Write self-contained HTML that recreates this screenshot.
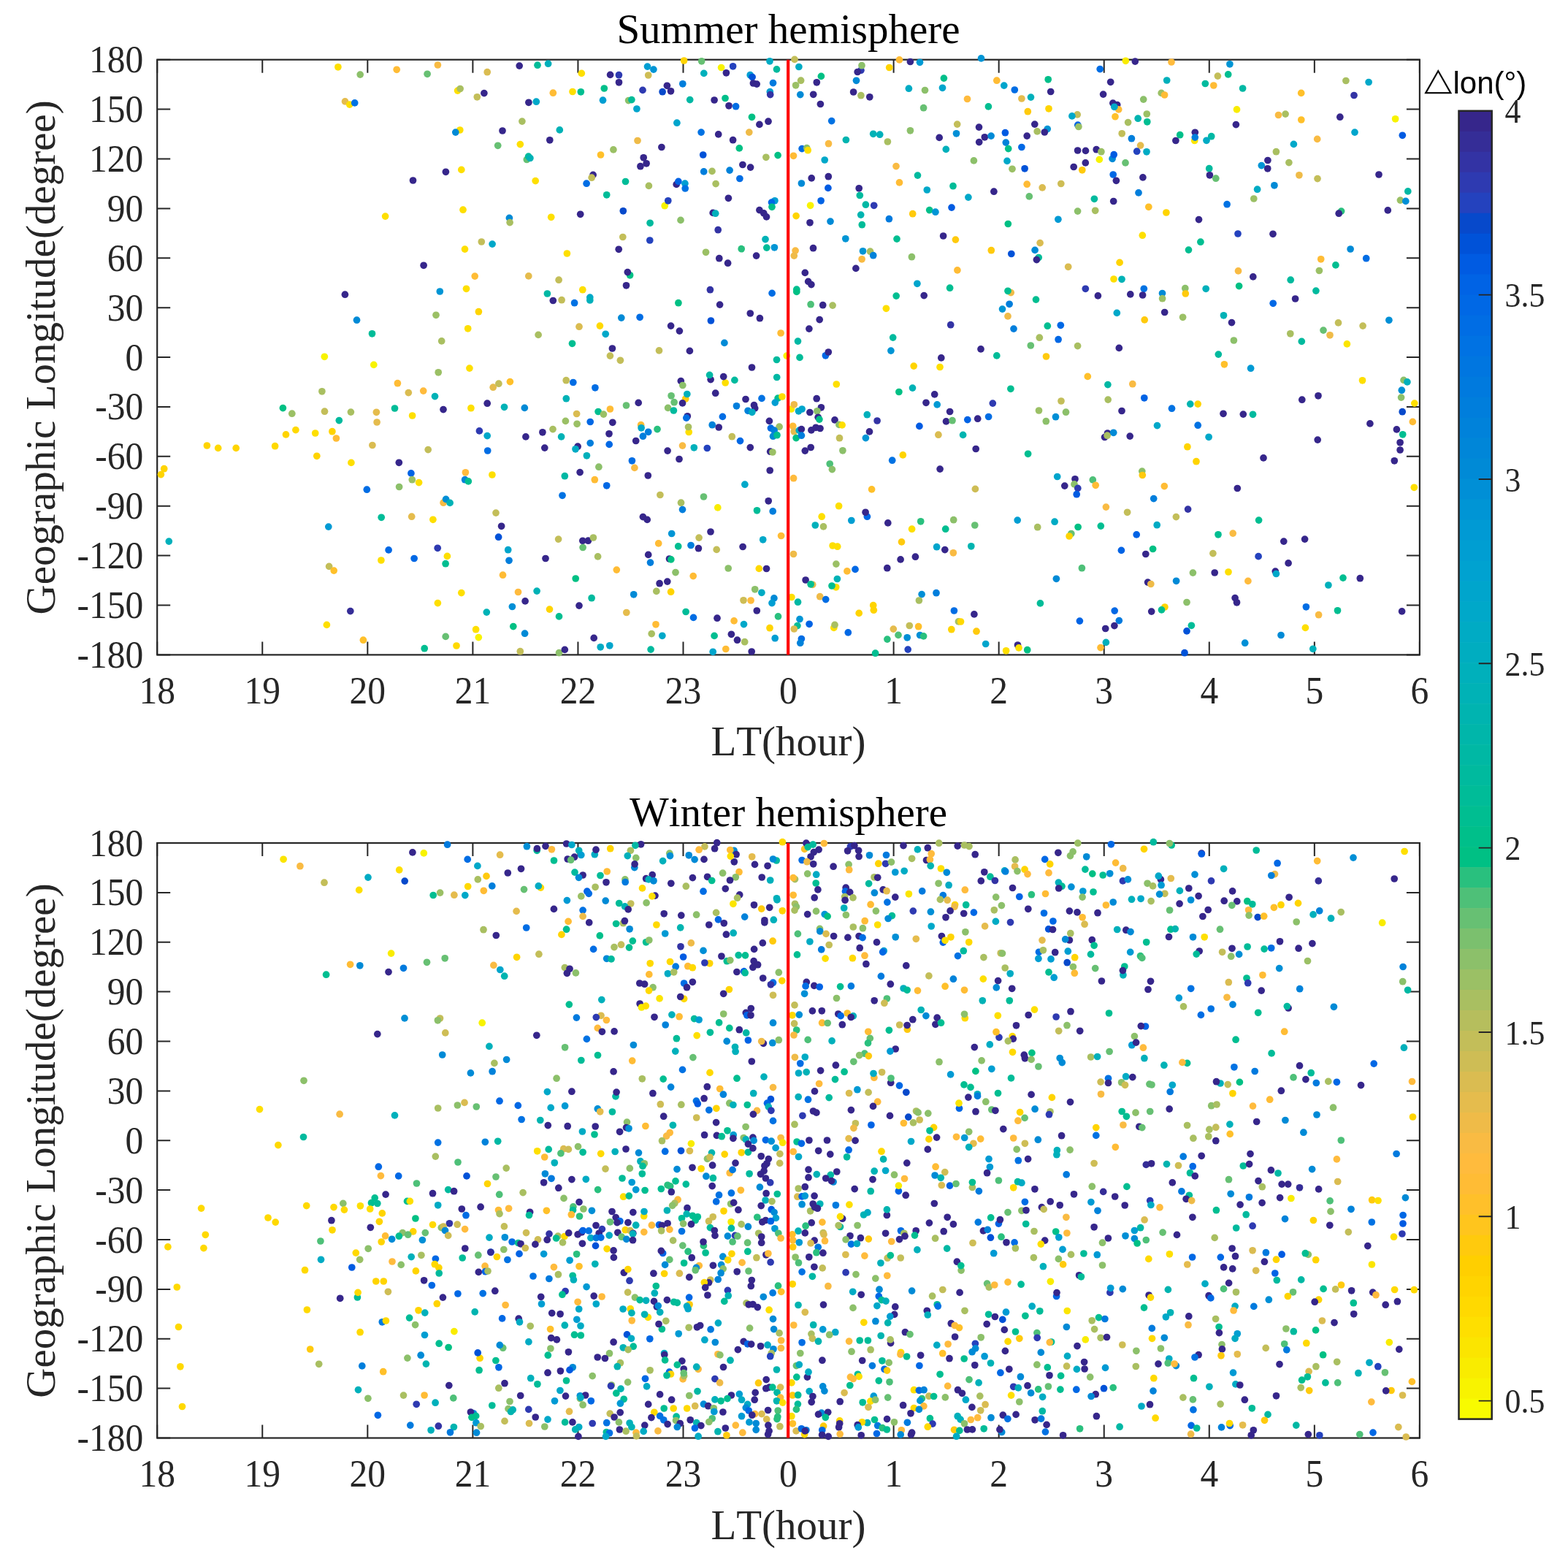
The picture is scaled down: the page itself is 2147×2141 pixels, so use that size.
<!DOCTYPE html>
<html lang="en">
<head>
<meta charset="utf-8">
<title>Summer and Winter hemisphere</title>
<style>
html,body{margin:0;padding:0;background:#fff;}
body{width:2147px;height:2141px;overflow:hidden;}
svg{display:block;}
.t{font-family:"Liberation Serif","DejaVu Serif",serif;fill:#262626;font-kerning:none;}
.s{font-family:"Liberation Sans","DejaVu Sans",sans-serif;fill:#000;}
.ax{stroke:#262626;stroke-width:2.2;fill:none;stroke-linecap:butt;}
</style>
</head>
<body>
<svg width="2147" height="2141" viewBox="0 0 2147 2141">
<rect x="0" y="0" width="2147" height="2141" fill="#fff"/>
<g id="axes1">
<text class="t" style="fill:#000" x="1079.5" y="59.4" font-size="57.0" text-anchor="middle">Summer hemisphere</text>
<rect class="ax" x="215.20" y="81.70" width="1728.70" height="814.70"/>
<path class="ax" style="stroke-width:2" d="M215.20 896.40v-18.0M215.20 81.70v18.0M215.20 81.70h18.0M1943.90 81.70h-18.0M359.26 896.40v-18.0M359.26 81.70v18.0M215.20 149.59h18.0M1943.90 149.59h-18.0M503.32 896.40v-18.0M503.32 81.70v18.0M215.20 217.48h18.0M1943.90 217.48h-18.0M647.38 896.40v-18.0M647.38 81.70v18.0M215.20 285.38h18.0M1943.90 285.38h-18.0M791.43 896.40v-18.0M791.43 81.70v18.0M215.20 353.27h18.0M1943.90 353.27h-18.0M935.49 896.40v-18.0M935.49 81.70v18.0M215.20 421.16h18.0M1943.90 421.16h-18.0M1079.55 896.40v-18.0M1079.55 81.70v18.0M215.20 489.05h18.0M1943.90 489.05h-18.0M1223.61 896.40v-18.0M1223.61 81.70v18.0M215.20 556.94h18.0M1943.90 556.94h-18.0M1367.67 896.40v-18.0M1367.67 81.70v18.0M215.20 624.83h18.0M1943.90 624.83h-18.0M1511.73 896.40v-18.0M1511.73 81.70v18.0M215.20 692.73h18.0M1943.90 692.73h-18.0M1655.78 896.40v-18.0M1655.78 81.70v18.0M215.20 760.62h18.0M1943.90 760.62h-18.0M1799.84 896.40v-18.0M1799.84 81.70v18.0M215.20 828.51h18.0M1943.90 828.51h-18.0M1943.90 896.40v-18.0M1943.90 81.70v18.0M215.20 896.40h18.0M1943.90 896.40h-18.0"/>
<g id="dots1">
<circle cx="462.9" cy="91.8" r="4.85" fill="#fedf00"/><circle cx="493.2" cy="102.1" r="4.85" fill="#8cc06a"/><circle cx="472.5" cy="138.9" r="4.85" fill="#e5bc4d"/><circle cx="478.7" cy="143.1" r="4.85" fill="#fedf00"/><circle cx="485.7" cy="140.9" r="4.85" fill="#0072e3"/><circle cx="543.2" cy="95.3" r="4.85" fill="#ffbc35"/><circle cx="599.4" cy="89" r="4.85" fill="#f9bb43"/><circle cx="585.1" cy="101.3" r="4.85" fill="#67c073"/><circle cx="667.2" cy="98.7" r="4.85" fill="#dabc51"/><circle cx="711.2" cy="90.1" r="4.85" fill="#36268b"/><circle cx="736" cy="89.2" r="4.85" fill="#00bc98"/><circle cx="750.6" cy="87.2" r="4.85" fill="#00b0bb"/><circle cx="796.3" cy="100.4" r="4.85" fill="#fedf00"/><circle cx="626.6" cy="124.1" r="4.85" fill="#fedf00"/><circle cx="630.1" cy="121.5" r="4.85" fill="#a9bf61"/><circle cx="653.3" cy="132.8" r="4.85" fill="#c3be59"/><circle cx="662.9" cy="127.6" r="4.85" fill="#36268b"/><circle cx="757.3" cy="127.2" r="4.85" fill="#ffbc35"/><circle cx="784" cy="125.5" r="4.85" fill="#fedf00"/><circle cx="795.3" cy="125.8" r="4.85" fill="#00be91"/><circle cx="723.9" cy="140.3" r="4.85" fill="#36268b"/><circle cx="734.3" cy="139.2" r="4.85" fill="#00a8c9"/><circle cx="714.9" cy="166.1" r="4.85" fill="#a9bf61"/><circle cx="629.8" cy="178" r="4.85" fill="#fedf00"/><circle cx="623.8" cy="181.1" r="4.85" fill="#008ad6"/><circle cx="688" cy="179" r="4.85" fill="#36268b"/><circle cx="766.3" cy="177.9" r="4.85" fill="#00b2b6"/><circle cx="752.8" cy="191.8" r="4.85" fill="#36268b"/><circle cx="681.7" cy="199.3" r="4.85" fill="#67c073"/><circle cx="712.3" cy="197.6" r="4.85" fill="#fedf00"/><circle cx="721.3" cy="218.5" r="4.85" fill="#67c073"/><circle cx="723.6" cy="214.2" r="4.85" fill="#00ba9e"/><circle cx="725.9" cy="216.5" r="4.85" fill="#00b2b6"/><circle cx="631.8" cy="232.4" r="4.85" fill="#fedf00"/><circle cx="610.4" cy="235.3" r="4.85" fill="#36268b"/><circle cx="565.5" cy="247" r="4.85" fill="#36268b"/><circle cx="733.2" cy="247.6" r="4.85" fill="#fedf00"/><circle cx="803.1" cy="251.2" r="4.85" fill="#006de4"/><circle cx="634" cy="287.2" r="4.85" fill="#fedf00"/><circle cx="936.6" cy="83" r="4.85" fill="#ffd400"/><circle cx="960.7" cy="83.8" r="4.85" fill="#67c073"/><circle cx="1088" cy="81.4" r="4.85" fill="#c3be59"/><circle cx="1054" cy="83.8" r="4.85" fill="#00abc4"/><circle cx="886.5" cy="91.1" r="4.85" fill="#009ed2"/><circle cx="894.9" cy="95.1" r="4.85" fill="#0095d5"/><circle cx="987.6" cy="92.5" r="4.85" fill="#f8f300"/><circle cx="1003.6" cy="90.8" r="4.85" fill="#2442be"/><circle cx="1063.5" cy="94.9" r="4.85" fill="#00ba9e"/><circle cx="1093.9" cy="91.5" r="4.85" fill="#00abc4"/><circle cx="835.6" cy="102.4" r="4.85" fill="#36268b"/><circle cx="847.4" cy="102.7" r="4.85" fill="#2e3ab1"/><circle cx="887.7" cy="103" r="4.85" fill="#cebd55"/><circle cx="963.8" cy="100.4" r="4.85" fill="#00b0bb"/><circle cx="994.4" cy="99.8" r="4.85" fill="#36268b"/><circle cx="1027.2" cy="102.7" r="4.85" fill="#009ed2"/><circle cx="1030.1" cy="105.5" r="4.85" fill="#0052d8"/><circle cx="847.5" cy="112.8" r="4.85" fill="#36268b"/><circle cx="913.4" cy="117.3" r="4.85" fill="#36268b"/><circle cx="934.8" cy="114.8" r="4.85" fill="#007edc"/><circle cx="1031.4" cy="114" r="4.85" fill="#36268b"/><circle cx="1036.2" cy="115.1" r="4.85" fill="#36268b"/><circle cx="1058.5" cy="113.6" r="4.85" fill="#007ade"/><circle cx="1096.6" cy="110.2" r="4.85" fill="#a9bf61"/><circle cx="1089.6" cy="116.8" r="4.85" fill="#9bc065"/><circle cx="827.3" cy="121" r="4.85" fill="#00bf8a"/><circle cx="880" cy="123.4" r="4.85" fill="#2e3ab1"/><circle cx="907.1" cy="125.7" r="4.85" fill="#0749cb"/><circle cx="918.5" cy="124.8" r="4.85" fill="#36268b"/><circle cx="1054.3" cy="125.7" r="4.85" fill="#009ed2"/><circle cx="1054.7" cy="129.6" r="4.85" fill="#3333a4"/><circle cx="1095.8" cy="129.6" r="4.85" fill="#008ad6"/><circle cx="825.5" cy="137.2" r="4.85" fill="#009ed2"/><circle cx="860.6" cy="137.6" r="4.85" fill="#8cc06a"/><circle cx="864.9" cy="136.6" r="4.85" fill="#00bc98"/><circle cx="944.7" cy="136.6" r="4.85" fill="#00b8a4"/><circle cx="978.1" cy="137" r="4.85" fill="#36268b"/><circle cx="993" cy="134.5" r="4.85" fill="#00bf8a"/><circle cx="998" cy="144.8" r="4.85" fill="#36268b"/><circle cx="1007.6" cy="145.7" r="4.85" fill="#006de4"/><circle cx="871.9" cy="149" r="4.85" fill="#00a5cc"/><circle cx="1029.5" cy="160.3" r="4.85" fill="#00c084"/><circle cx="926.9" cy="168.2" r="4.85" fill="#00a5cc"/><circle cx="1039.9" cy="170.4" r="4.85" fill="#36268b"/><circle cx="1052" cy="166.2" r="4.85" fill="#36268b"/><circle cx="960.1" cy="181.1" r="4.85" fill="#0072e3"/><circle cx="983.7" cy="183.9" r="4.85" fill="#36268b"/><circle cx="1025.8" cy="181.1" r="4.85" fill="#efbb48"/><circle cx="873" cy="192.5" r="4.85" fill="#efbb48"/><circle cx="1003.6" cy="191.7" r="4.85" fill="#36268b"/><circle cx="905.9" cy="201.5" r="4.85" fill="#36268b"/><circle cx="839.9" cy="204.9" r="4.85" fill="#9bc065"/><circle cx="1012.3" cy="202.9" r="4.85" fill="#00c084"/><circle cx="1098.1" cy="203.6" r="4.85" fill="#006de4"/><circle cx="822.5" cy="212" r="4.85" fill="#ffc02a"/><circle cx="962.7" cy="212" r="4.85" fill="#0052d8"/><circle cx="1048.9" cy="215.3" r="4.85" fill="#a9bf61"/><circle cx="1065.1" cy="212.6" r="4.85" fill="#00c084"/><circle cx="1086.5" cy="213.3" r="4.85" fill="#ffbc35"/><circle cx="881.2" cy="215.8" r="4.85" fill="#36268b"/><circle cx="885.1" cy="223.8" r="4.85" fill="#36268b"/><circle cx="876.9" cy="227.7" r="4.85" fill="#36268b"/><circle cx="1016.9" cy="225.5" r="4.85" fill="#36268b"/><circle cx="1027.6" cy="229.1" r="4.85" fill="#36268b"/><circle cx="963.7" cy="234.9" r="4.85" fill="#007edc"/><circle cx="975" cy="234.4" r="4.85" fill="#a9bf61"/><circle cx="999.1" cy="233.1" r="4.85" fill="#0082da"/><circle cx="812.1" cy="239.4" r="4.85" fill="#36268b"/><circle cx="810.2" cy="243.2" r="4.85" fill="#c3be59"/><circle cx="1012.9" cy="244.5" r="4.85" fill="#006de4"/><circle cx="856.5" cy="248.5" r="4.85" fill="#00bc98"/><circle cx="926.2" cy="252.4" r="4.85" fill="#36268b"/><circle cx="928.9" cy="248.4" r="4.85" fill="#0063e5"/><circle cx="937.9" cy="251.2" r="4.85" fill="#009ed2"/><circle cx="938.2" cy="258" r="4.85" fill="#0072e3"/><circle cx="888.4" cy="254.4" r="4.85" fill="#a9bf61"/><circle cx="980.1" cy="251.6" r="4.85" fill="#a9bf61"/><circle cx="1097.4" cy="251" r="4.85" fill="#008ad6"/><circle cx="830.7" cy="266.8" r="4.85" fill="#00bc98"/><circle cx="997.4" cy="271.3" r="4.85" fill="#36268b"/><circle cx="910.2" cy="281.7" r="4.85" fill="#f8f300"/><circle cx="914.8" cy="274.8" r="4.85" fill="#2442be"/><circle cx="1060.9" cy="274.8" r="4.85" fill="#009ed2"/><circle cx="1056.5" cy="277.1" r="4.85" fill="#0068e5"/><circle cx="1057" cy="283.3" r="4.85" fill="#00bf8a"/><circle cx="1039.9" cy="287.6" r="4.85" fill="#36268b"/><circle cx="853.3" cy="288.8" r="4.85" fill="#0749cb"/><circle cx="1231.5" cy="81.9" r="4.85" fill="#ffbc35"/><circle cx="1246.4" cy="84.5" r="4.85" fill="#36268b"/><circle cx="1259.5" cy="85.3" r="4.85" fill="#009ad4"/><circle cx="1343.5" cy="79.9" r="4.85" fill="#0095d5"/><circle cx="1178.9" cy="96.2" r="4.85" fill="#2e3ab1"/><circle cx="1174.2" cy="98.5" r="4.85" fill="#36268b"/><circle cx="1180" cy="89.7" r="4.85" fill="#8cc06a"/><circle cx="1217.7" cy="92.5" r="4.85" fill="#ffd400"/><circle cx="1124.4" cy="104.4" r="4.85" fill="#00c084"/><circle cx="1118.3" cy="112.8" r="4.85" fill="#36268b"/><circle cx="1172.5" cy="110.3" r="4.85" fill="#008ad6"/><circle cx="1292.4" cy="107.1" r="4.85" fill="#00bf8a"/><circle cx="1364.8" cy="110.2" r="4.85" fill="#ffbc35"/><circle cx="1374.8" cy="117.1" r="4.85" fill="#00a5cc"/><circle cx="1389.3" cy="123" r="4.85" fill="#006de4"/><circle cx="1244.4" cy="121.2" r="4.85" fill="#00abc4"/><circle cx="1266.5" cy="123.5" r="4.85" fill="#8cc06a"/><circle cx="1290.5" cy="120.3" r="4.85" fill="#00a5cc"/><circle cx="1113.7" cy="129.3" r="4.85" fill="#36268b"/><circle cx="1168.6" cy="126" r="4.85" fill="#36268b"/><circle cx="1178.9" cy="130.7" r="4.85" fill="#a9bf61"/><circle cx="1190.8" cy="132.8" r="4.85" fill="#36268b"/><circle cx="1324.5" cy="135.5" r="4.85" fill="#ffbb3d"/><circle cx="1398.9" cy="135" r="4.85" fill="#e5bc4d"/><circle cx="1123.4" cy="142.5" r="4.85" fill="#36268b"/><circle cx="1264.6" cy="147.7" r="4.85" fill="#67c073"/><circle cx="1353.4" cy="145.9" r="4.85" fill="#00be91"/><circle cx="1138.7" cy="165.6" r="4.85" fill="#0072e3"/><circle cx="1310.7" cy="170.1" r="4.85" fill="#c3be59"/><circle cx="1340.5" cy="174.1" r="4.85" fill="#36268b"/><circle cx="1246.4" cy="178.8" r="4.85" fill="#8cc06a"/><circle cx="1195.7" cy="183.3" r="4.85" fill="#00b2b6"/><circle cx="1204.7" cy="184.2" r="4.85" fill="#00b0bb"/><circle cx="1309.5" cy="182.8" r="4.85" fill="#008fd6"/><circle cx="1376.4" cy="181.7" r="4.85" fill="#005be2"/><circle cx="1286.2" cy="188.4" r="4.85" fill="#36268b"/><circle cx="1348.3" cy="187.8" r="4.85" fill="#36268b"/><circle cx="1357.1" cy="186.1" r="4.85" fill="#008ad6"/><circle cx="1340.7" cy="194.6" r="4.85" fill="#36268b"/><circle cx="1158.4" cy="191.5" r="4.85" fill="#00b4b0"/><circle cx="1215.4" cy="194" r="4.85" fill="#a9bf61"/><circle cx="1134.5" cy="196.7" r="4.85" fill="#f9bb43"/><circle cx="1377.3" cy="195.1" r="4.85" fill="#0082da"/><circle cx="1380.7" cy="203.6" r="4.85" fill="#00bf8a"/><circle cx="1398.9" cy="201.5" r="4.85" fill="#0068e5"/><circle cx="1104.7" cy="202.6" r="4.85" fill="#8cc06a"/><circle cx="1106.2" cy="205.7" r="4.85" fill="#fedf00"/><circle cx="1295.3" cy="204.4" r="4.85" fill="#00b0bb"/><circle cx="1129.2" cy="219" r="4.85" fill="#00a8c9"/><circle cx="1333.4" cy="219.9" r="4.85" fill="#8cc06a"/><circle cx="1379" cy="220.4" r="4.85" fill="#00a8c9"/><circle cx="1386" cy="231.3" r="4.85" fill="#9bc065"/><circle cx="1403.1" cy="230.8" r="4.85" fill="#0052d8"/><circle cx="1227" cy="227.6" r="4.85" fill="#f9bb43"/><circle cx="1256.5" cy="240.1" r="4.85" fill="#00ba9e"/><circle cx="1111.2" cy="243.9" r="4.85" fill="#36268b"/><circle cx="1134.3" cy="241.7" r="4.85" fill="#36268b"/><circle cx="1231.5" cy="249.9" r="4.85" fill="#ffbc35"/><circle cx="1133.9" cy="257.4" r="4.85" fill="#005be2"/><circle cx="1176.2" cy="257.8" r="4.85" fill="#36268b"/><circle cx="1269.3" cy="260" r="4.85" fill="#00a8c9"/><circle cx="1305" cy="254.7" r="4.85" fill="#00bc98"/><circle cx="1360.9" cy="262.2" r="4.85" fill="#36268b"/><circle cx="1177.3" cy="267.5" r="4.85" fill="#00ba9e"/><circle cx="1325.9" cy="270.1" r="4.85" fill="#00a8c9"/><circle cx="1124.1" cy="274.8" r="4.85" fill="#0063e5"/><circle cx="1109.6" cy="281.3" r="4.85" fill="#f8f300"/><circle cx="1185.4" cy="280.2" r="4.85" fill="#00b8a4"/><circle cx="1196.7" cy="281.3" r="4.85" fill="#2e3ab1"/><circle cx="1272.7" cy="287.6" r="4.85" fill="#00bf8a"/><circle cx="1303" cy="284.1" r="4.85" fill="#005be2"/><circle cx="1541.3" cy="83.3" r="4.85" fill="#f9ec00"/><circle cx="1554.3" cy="84.1" r="4.85" fill="#36268b"/><circle cx="1604" cy="85" r="4.85" fill="#ffbb3d"/><circle cx="1683.9" cy="87.8" r="4.85" fill="#0095d5"/><circle cx="1506.2" cy="94.6" r="4.85" fill="#006de4"/><circle cx="1667.4" cy="104.1" r="4.85" fill="#c3be59"/><circle cx="1681.7" cy="101.9" r="4.85" fill="#00be91"/><circle cx="1435.2" cy="108.8" r="4.85" fill="#00bf8a"/><circle cx="1520.7" cy="112.3" r="4.85" fill="#36268b"/><circle cx="1597.7" cy="110" r="4.85" fill="#00b0bb"/><circle cx="1650.3" cy="114.5" r="4.85" fill="#00ba9e"/><circle cx="1661.8" cy="117" r="4.85" fill="#ffbc35"/><circle cx="1701.6" cy="121" r="4.85" fill="#00b8a4"/><circle cx="1438.7" cy="125.5" r="4.85" fill="#36268b"/><circle cx="1510.6" cy="129.1" r="4.85" fill="#36268b"/><circle cx="1590.2" cy="127.4" r="4.85" fill="#9bc065"/><circle cx="1594.6" cy="130" r="4.85" fill="#ffbc35"/><circle cx="1411.5" cy="133.1" r="4.85" fill="#00b0bb"/><circle cx="1565.7" cy="136.1" r="4.85" fill="#8cc06a"/><circle cx="1523.9" cy="141.2" r="4.85" fill="#36268b"/><circle cx="1529.7" cy="143.5" r="4.85" fill="#36268b"/><circle cx="1531.7" cy="149.9" r="4.85" fill="#ffbc35"/><circle cx="1525.8" cy="146.3" r="4.85" fill="#00a8c9"/><circle cx="1436" cy="148.8" r="4.85" fill="#ffd400"/><circle cx="1407.3" cy="152.7" r="4.85" fill="#ffca0d"/><circle cx="1693.5" cy="149.9" r="4.85" fill="#f9ec00"/><circle cx="1475.2" cy="156.9" r="4.85" fill="#c3be59"/><circle cx="1467.9" cy="158.9" r="4.85" fill="#00a8c9"/><circle cx="1527" cy="159.7" r="4.85" fill="#ffc02a"/><circle cx="1570.3" cy="156" r="4.85" fill="#9bc065"/><circle cx="1558.2" cy="162.2" r="4.85" fill="#00b4b0"/><circle cx="1570.8" cy="166.8" r="4.85" fill="#00be91"/><circle cx="1544.6" cy="167.6" r="4.85" fill="#a9bf61"/><circle cx="1416.8" cy="170.1" r="4.85" fill="#36268b"/><circle cx="1475.8" cy="171.2" r="4.85" fill="#0063e5"/><circle cx="1476.9" cy="173.5" r="4.85" fill="#9bc065"/><circle cx="1692.4" cy="170.6" r="4.85" fill="#36268b"/><circle cx="1434.2" cy="176.6" r="4.85" fill="#0095d5"/><circle cx="1430.3" cy="181" r="4.85" fill="#36268b"/><circle cx="1420.2" cy="179.9" r="4.85" fill="#a9bf61"/><circle cx="1406.2" cy="186.1" r="4.85" fill="#36268b"/><circle cx="1536.2" cy="182.8" r="4.85" fill="#c3be59"/><circle cx="1635.7" cy="192.5" r="4.85" fill="#fbe500"/><circle cx="1636.3" cy="181.3" r="4.85" fill="#36268b"/><circle cx="1636.3" cy="188.1" r="4.85" fill="#007edc"/><circle cx="1615.7" cy="184.7" r="4.85" fill="#00bf8a"/><circle cx="1609.9" cy="192.5" r="4.85" fill="#36268b"/><circle cx="1658.7" cy="186.7" r="4.85" fill="#00b8a4"/><circle cx="1652" cy="192.3" r="4.85" fill="#00abc4"/><circle cx="1549.4" cy="189.7" r="4.85" fill="#007edc"/><circle cx="1561.6" cy="199.1" r="4.85" fill="#e5bc4d"/><circle cx="1475.6" cy="206" r="4.85" fill="#36268b"/><circle cx="1486.5" cy="206.4" r="4.85" fill="#36268b"/><circle cx="1501.2" cy="204.7" r="4.85" fill="#36268b"/><circle cx="1507.9" cy="207.7" r="4.85" fill="#9bc065"/><circle cx="1556.7" cy="207.2" r="4.85" fill="#2442be"/><circle cx="1570" cy="207.8" r="4.85" fill="#00abc4"/><circle cx="1523.1" cy="217.3" r="4.85" fill="#008ad6"/><circle cx="1525.2" cy="211.7" r="4.85" fill="#005be2"/><circle cx="1505.3" cy="218.4" r="4.85" fill="#f8f300"/><circle cx="1541" cy="222.9" r="4.85" fill="#67c073"/><circle cx="1486.3" cy="222.9" r="4.85" fill="#36268b"/><circle cx="1470.2" cy="228.5" r="4.85" fill="#36268b"/><circle cx="1481.8" cy="232.8" r="4.85" fill="#ffca0d"/><circle cx="1655.7" cy="230.7" r="4.85" fill="#00ba9e"/><circle cx="1524.2" cy="239" r="4.85" fill="#0068e5"/><circle cx="1528.4" cy="247.3" r="4.85" fill="#36268b"/><circle cx="1564.9" cy="242.9" r="4.85" fill="#36268b"/><circle cx="1656.4" cy="239.8" r="4.85" fill="#36268b"/><circle cx="1664.8" cy="244.2" r="4.85" fill="#67c073"/><circle cx="1406.2" cy="252.2" r="4.85" fill="#ffbc35"/><circle cx="1427.2" cy="256.9" r="4.85" fill="#dabc51"/><circle cx="1452.8" cy="251.5" r="4.85" fill="#cebd55"/><circle cx="1559" cy="263.9" r="4.85" fill="#007edc"/><circle cx="1409.3" cy="268.9" r="4.85" fill="#67c073"/><circle cx="1498.4" cy="272.3" r="4.85" fill="#00ba9e"/><circle cx="1524.7" cy="275.5" r="4.85" fill="#36268b"/><circle cx="1680.1" cy="279.7" r="4.85" fill="#0072e3"/><circle cx="1572.8" cy="283.3" r="4.85" fill="#ffc02a"/><circle cx="1499.7" cy="288.3" r="4.85" fill="#a9bf61"/><circle cx="1475.6" cy="289.1" r="4.85" fill="#8cc06a"/><circle cx="1842.9" cy="110.5" r="4.85" fill="#a9bf61"/><circle cx="1874.1" cy="112.5" r="4.85" fill="#00a8c9"/><circle cx="1781.7" cy="127.4" r="4.85" fill="#ffc02a"/><circle cx="1854" cy="130.5" r="4.85" fill="#3333a4"/><circle cx="1750.5" cy="157.5" r="4.85" fill="#f9bb43"/><circle cx="1760.1" cy="156.1" r="4.85" fill="#a9bf61"/><circle cx="1781.8" cy="164" r="4.85" fill="#ffc02a"/><circle cx="1834.8" cy="160.2" r="4.85" fill="#36268b"/><circle cx="1910.6" cy="162.8" r="4.85" fill="#f8f300"/><circle cx="1855" cy="181.1" r="4.85" fill="#00a5cc"/><circle cx="1920.3" cy="185.3" r="4.85" fill="#005be2"/><circle cx="1803.7" cy="190.4" r="4.85" fill="#f9bb43"/><circle cx="1771.4" cy="197.4" r="4.85" fill="#00a8c9"/><circle cx="1747.4" cy="207.7" r="4.85" fill="#a9bf61"/><circle cx="1735.9" cy="219.5" r="4.85" fill="#36268b"/><circle cx="1727.3" cy="226.6" r="4.85" fill="#0095d5"/><circle cx="1735.7" cy="230.8" r="4.85" fill="#36268b"/><circle cx="1764.9" cy="222.6" r="4.85" fill="#a9bf61"/><circle cx="1778.9" cy="239.8" r="4.85" fill="#efbb48"/><circle cx="1804" cy="244.6" r="4.85" fill="#c3be59"/><circle cx="1888" cy="239" r="4.85" fill="#36268b"/><circle cx="1744.9" cy="253.8" r="4.85" fill="#008ad6"/><circle cx="1721.6" cy="259.2" r="4.85" fill="#00abc4"/><circle cx="1716.8" cy="272" r="4.85" fill="#9bc065"/><circle cx="1927.8" cy="261.9" r="4.85" fill="#00b8a4"/><circle cx="1917.4" cy="274.1" r="4.85" fill="#9bc065"/><circle cx="1924.8" cy="275.4" r="4.85" fill="#008fd6"/><circle cx="1900.3" cy="287.9" r="4.85" fill="#36268b"/><circle cx="1836.6" cy="289.1" r="4.85" fill="#29c07e"/><circle cx="472.4" cy="403.2" r="4.85" fill="#36268b"/><circle cx="488.5" cy="438.2" r="4.85" fill="#008ad6"/><circle cx="444.3" cy="488.3" r="4.85" fill="#f8f300"/><circle cx="440.9" cy="535.8" r="4.85" fill="#a9bf61"/><circle cx="387.4" cy="558.6" r="4.85" fill="#00c084"/><circle cx="399.8" cy="566.2" r="4.85" fill="#9bc065"/><circle cx="444.5" cy="563.2" r="4.85" fill="#c3be59"/><circle cx="480.4" cy="564.1" r="4.85" fill="#a9bf61"/><circle cx="464.3" cy="575.6" r="4.85" fill="#00ba9e"/><circle cx="404.9" cy="588.6" r="4.85" fill="#ffd900"/><circle cx="391.5" cy="594.9" r="4.85" fill="#ffd400"/><circle cx="431.7" cy="593" r="4.85" fill="#fedf00"/><circle cx="454.9" cy="590.7" r="4.85" fill="#ffd400"/><circle cx="460.4" cy="600" r="4.85" fill="#ffbc35"/><circle cx="283.4" cy="610" r="4.85" fill="#ffd400"/><circle cx="298.7" cy="613.4" r="4.85" fill="#ffd900"/><circle cx="323.2" cy="613.4" r="4.85" fill="#ffd400"/><circle cx="376.6" cy="610.7" r="4.85" fill="#ffd900"/><circle cx="433.8" cy="624.3" r="4.85" fill="#ffd400"/><circle cx="480.9" cy="633.4" r="4.85" fill="#fedf00"/><circle cx="224.7" cy="641.7" r="4.85" fill="#ffd400"/><circle cx="220.4" cy="649.6" r="4.85" fill="#ffd400"/><circle cx="502.3" cy="670.2" r="4.85" fill="#006de4"/><circle cx="449.8" cy="721.1" r="4.85" fill="#009ad4"/><circle cx="231.3" cy="741.1" r="4.85" fill="#00b0bb"/><circle cx="450.6" cy="775.4" r="4.85" fill="#c3be59"/><circle cx="457.2" cy="781.1" r="4.85" fill="#ffc02a"/><circle cx="479.8" cy="836.6" r="4.85" fill="#352d97"/><circle cx="447.4" cy="855.4" r="4.85" fill="#fedf00"/><circle cx="497.4" cy="876.2" r="4.85" fill="#ffc02a"/><circle cx="527.6" cy="296.1" r="4.85" fill="#fedf00"/><circle cx="697.4" cy="298.4" r="4.85" fill="#008ad6"/><circle cx="698.1" cy="304.6" r="4.85" fill="#a9bf61"/><circle cx="754.7" cy="297.3" r="4.85" fill="#fedf00"/><circle cx="794.7" cy="293.3" r="4.85" fill="#36268b"/><circle cx="659.3" cy="331" r="4.85" fill="#c3be59"/><circle cx="674.1" cy="334.1" r="4.85" fill="#00a8c9"/><circle cx="636.5" cy="341.1" r="4.85" fill="#fedf00"/><circle cx="776.4" cy="347" r="4.85" fill="#fedf00"/><circle cx="580.1" cy="363.3" r="4.85" fill="#36268b"/><circle cx="650.2" cy="378.1" r="4.85" fill="#ffbc35"/><circle cx="723.8" cy="377.9" r="4.85" fill="#e5bc4d"/><circle cx="765.1" cy="383.2" r="4.85" fill="#c3be59"/><circle cx="602.3" cy="399" r="4.85" fill="#0095d5"/><circle cx="638.5" cy="395.3" r="4.85" fill="#fedf00"/><circle cx="797.8" cy="396.7" r="4.85" fill="#fedf00"/><circle cx="749.4" cy="402" r="4.85" fill="#00b8a4"/><circle cx="757.3" cy="411.5" r="4.85" fill="#36268b"/><circle cx="769.1" cy="410.7" r="4.85" fill="#c3be59"/><circle cx="786.6" cy="414.7" r="4.85" fill="#0072e3"/><circle cx="597" cy="431.3" r="4.85" fill="#9bc065"/><circle cx="655.4" cy="426.7" r="4.85" fill="#ffd400"/><circle cx="640.7" cy="449.8" r="4.85" fill="#fedf00"/><circle cx="793" cy="447.2" r="4.85" fill="#dabc51"/><circle cx="509.5" cy="456.8" r="4.85" fill="#00bc98"/><circle cx="737.1" cy="458.4" r="4.85" fill="#a9bf61"/><circle cx="604.7" cy="466.9" r="4.85" fill="#a9bf61"/><circle cx="783.5" cy="470.3" r="4.85" fill="#00be91"/><circle cx="511.8" cy="499.4" r="4.85" fill="#f8f300"/><circle cx="976.2" cy="291.4" r="4.85" fill="#36268b"/><circle cx="979.7" cy="292.2" r="4.85" fill="#00b0bb"/><circle cx="1045.8" cy="291.9" r="4.85" fill="#36268b"/><circle cx="1049.5" cy="296.9" r="4.85" fill="#36268b"/><circle cx="1090.1" cy="295.6" r="4.85" fill="#ffd400"/><circle cx="890.1" cy="305.3" r="4.85" fill="#00ba9e"/><circle cx="932" cy="301.4" r="4.85" fill="#8cc06a"/><circle cx="983.2" cy="314.7" r="4.85" fill="#3333a4"/><circle cx="852.8" cy="324.5" r="4.85" fill="#c3be59"/><circle cx="889.8" cy="329" r="4.85" fill="#2442be"/><circle cx="1048" cy="327.6" r="4.85" fill="#00b2b6"/><circle cx="847.2" cy="341.3" r="4.85" fill="#36268b"/><circle cx="966.5" cy="345.3" r="4.85" fill="#9bc065"/><circle cx="1015.2" cy="340.7" r="4.85" fill="#29c07e"/><circle cx="1049.8" cy="339.1" r="4.85" fill="#00bc98"/><circle cx="1060.4" cy="338.8" r="4.85" fill="#0095d5"/><circle cx="1089.1" cy="343.1" r="4.85" fill="#f9bb43"/><circle cx="1087.3" cy="350.1" r="4.85" fill="#efbb48"/><circle cx="984.8" cy="353.7" r="4.85" fill="#36268b"/><circle cx="996.6" cy="360.2" r="4.85" fill="#36268b"/><circle cx="1035.6" cy="350.1" r="4.85" fill="#36268b"/><circle cx="862.6" cy="376.8" r="4.85" fill="#00c084"/><circle cx="859.3" cy="372.6" r="4.85" fill="#36268b"/><circle cx="1102.3" cy="373.4" r="4.85" fill="#36268b"/><circle cx="857.5" cy="390.8" r="4.85" fill="#36268b"/><circle cx="972.4" cy="396.7" r="4.85" fill="#3333a4"/><circle cx="1090.8" cy="396.2" r="4.85" fill="#00be91"/><circle cx="1090.8" cy="399.4" r="4.85" fill="#00c084"/><circle cx="1057.1" cy="401.4" r="4.85" fill="#006de4"/><circle cx="807.8" cy="407.1" r="4.85" fill="#00a8c9"/><circle cx="807.8" cy="411" r="4.85" fill="#00b0bb"/><circle cx="928.9" cy="414.7" r="4.85" fill="#00c084"/><circle cx="985.6" cy="417.1" r="4.85" fill="#36268b"/><circle cx="1027.3" cy="429" r="4.85" fill="#36268b"/><circle cx="1040.4" cy="435.7" r="4.85" fill="#36268b"/><circle cx="850.8" cy="435.1" r="4.85" fill="#008ad6"/><circle cx="876.1" cy="434.3" r="4.85" fill="#006de4"/><circle cx="973.4" cy="439" r="4.85" fill="#0052d8"/><circle cx="821.4" cy="446.1" r="4.85" fill="#ffd900"/><circle cx="918.6" cy="446.1" r="4.85" fill="#36268b"/><circle cx="930.4" cy="453.1" r="4.85" fill="#36268b"/><circle cx="829.2" cy="457.3" r="4.85" fill="#00a8c9"/><circle cx="1069.1" cy="456" r="4.85" fill="#ffbc35"/><circle cx="991.9" cy="469.4" r="4.85" fill="#008ad6"/><circle cx="1092.5" cy="467.1" r="4.85" fill="#00b8a4"/><circle cx="838.4" cy="477" r="4.85" fill="#36268b"/><circle cx="902.5" cy="479.9" r="4.85" fill="#c3be59"/><circle cx="944.4" cy="480.4" r="4.85" fill="#36268b"/><circle cx="835.4" cy="487.1" r="4.85" fill="#c3be59"/><circle cx="849.4" cy="493.3" r="4.85" fill="#c3be59"/><circle cx="1077.2" cy="487.1" r="4.85" fill="#f8f300"/><circle cx="1063.5" cy="492.5" r="4.85" fill="#00ba9e"/><circle cx="1095" cy="489.4" r="4.85" fill="#00bc98"/><circle cx="1178.7" cy="294.1" r="4.85" fill="#00b4b0"/><circle cx="1249.7" cy="292.7" r="4.85" fill="#ffca0d"/><circle cx="1280.9" cy="290.2" r="4.85" fill="#0095d5"/><circle cx="1109" cy="304.8" r="4.85" fill="#36268b"/><circle cx="1137" cy="303.1" r="4.85" fill="#008ad6"/><circle cx="1180.3" cy="307.7" r="4.85" fill="#00bc98"/><circle cx="1217.4" cy="299.7" r="4.85" fill="#007ade"/><circle cx="1380.3" cy="306.5" r="4.85" fill="#00c084"/><circle cx="1157.8" cy="326.8" r="4.85" fill="#0095d5"/><circle cx="1228" cy="327.1" r="4.85" fill="#00be91"/><circle cx="1291.6" cy="323" r="4.85" fill="#36268b"/><circle cx="1308.4" cy="328.1" r="4.85" fill="#ffca0d"/><circle cx="1113.5" cy="339.7" r="4.85" fill="#36268b"/><circle cx="1181.5" cy="343.8" r="4.85" fill="#0095d5"/><circle cx="1191.5" cy="344.2" r="4.85" fill="#a9bf61"/><circle cx="1195.7" cy="349.7" r="4.85" fill="#0082da"/><circle cx="1357.3" cy="342.7" r="4.85" fill="#ffca0d"/><circle cx="1384.8" cy="347.5" r="4.85" fill="#0052d8"/><circle cx="1180.1" cy="354.8" r="4.85" fill="#f9bb43"/><circle cx="1248.4" cy="351.7" r="4.85" fill="#8cc06a"/><circle cx="1171.9" cy="367.4" r="4.85" fill="#36268b"/><circle cx="1310.9" cy="369.9" r="4.85" fill="#ffbc35"/><circle cx="1106.7" cy="385.4" r="4.85" fill="#36268b"/><circle cx="1110.9" cy="389.6" r="4.85" fill="#36268b"/><circle cx="1255.9" cy="388.3" r="4.85" fill="#00a5cc"/><circle cx="1300.6" cy="394.2" r="4.85" fill="#00be91"/><circle cx="1384.2" cy="400.6" r="4.85" fill="#efbb48"/><circle cx="1380" cy="398.3" r="4.85" fill="#00be91"/><circle cx="1227.2" cy="405.1" r="4.85" fill="#00be91"/><circle cx="1265.2" cy="404.6" r="4.85" fill="#36268b"/><circle cx="1110.1" cy="416.7" r="4.85" fill="#4ec078"/><circle cx="1126.7" cy="417.7" r="4.85" fill="#36268b"/><circle cx="1140.1" cy="418.1" r="4.85" fill="#a9bf61"/><circle cx="1213.4" cy="422.3" r="4.85" fill="#fedf00"/><circle cx="1382.1" cy="416.3" r="4.85" fill="#007edc"/><circle cx="1372.5" cy="423.1" r="4.85" fill="#0095d5"/><circle cx="1380" cy="432.9" r="4.85" fill="#efbb48"/><circle cx="1122.2" cy="437.6" r="4.85" fill="#36268b"/><circle cx="1301.7" cy="444.7" r="4.85" fill="#3333a4"/><circle cx="1107.9" cy="450.1" r="4.85" fill="#36268b"/><circle cx="1388" cy="450.1" r="4.85" fill="#007edc"/><circle cx="1222.7" cy="462.1" r="4.85" fill="#00ba9e"/><circle cx="1130.4" cy="486.8" r="4.85" fill="#0068e5"/><circle cx="1134.3" cy="482" r="4.85" fill="#36268b"/><circle cx="1219.9" cy="480.1" r="4.85" fill="#0095d5"/><circle cx="1343" cy="477.9" r="4.85" fill="#36268b"/><circle cx="1364.8" cy="486.9" r="4.85" fill="#00bc98"/><circle cx="1288.8" cy="489.9" r="4.85" fill="#36268b"/><circle cx="1596.9" cy="291" r="4.85" fill="#ffd400"/><circle cx="1448.9" cy="300.3" r="4.85" fill="#009ad4"/><circle cx="1641.5" cy="300.6" r="4.85" fill="#36268b"/><circle cx="1564.3" cy="322.2" r="4.85" fill="#fedf00"/><circle cx="1695" cy="320" r="4.85" fill="#2442be"/><circle cx="1424.1" cy="332.6" r="4.85" fill="#dabc51"/><circle cx="1643.9" cy="331.2" r="4.85" fill="#00be91"/><circle cx="1627.5" cy="342.1" r="4.85" fill="#00be91"/><circle cx="1417.1" cy="342.4" r="4.85" fill="#008ad6"/><circle cx="1422.2" cy="352.5" r="4.85" fill="#00bc98"/><circle cx="1419.4" cy="355.6" r="4.85" fill="#36268b"/><circle cx="1533.1" cy="359.4" r="4.85" fill="#ffd400"/><circle cx="1462.7" cy="365.3" r="4.85" fill="#dabc51"/><circle cx="1695.5" cy="370.9" r="4.85" fill="#f9bb43"/><circle cx="1525" cy="382" r="4.85" fill="#fedf00"/><circle cx="1536" cy="382.3" r="4.85" fill="#00b2b6"/><circle cx="1486.3" cy="395.3" r="4.85" fill="#2e3ab1"/><circle cx="1503.4" cy="404.9" r="4.85" fill="#36268b"/><circle cx="1547.8" cy="402.9" r="4.85" fill="#36268b"/><circle cx="1566.3" cy="395.3" r="4.85" fill="#0072e3"/><circle cx="1564.6" cy="404" r="4.85" fill="#36268b"/><circle cx="1591.5" cy="401.5" r="4.85" fill="#008ad6"/><circle cx="1591.6" cy="408.7" r="4.85" fill="#9bc065"/><circle cx="1622.8" cy="394.7" r="4.85" fill="#8cc06a"/><circle cx="1623.3" cy="402" r="4.85" fill="#ffca0d"/><circle cx="1651.2" cy="395.3" r="4.85" fill="#00b0bb"/><circle cx="1696.6" cy="391.6" r="4.85" fill="#00c084"/><circle cx="1418.5" cy="410.1" r="4.85" fill="#00be91"/><circle cx="1529.3" cy="428.4" r="4.85" fill="#00a8c9"/><circle cx="1594.7" cy="427.5" r="4.85" fill="#36268b"/><circle cx="1619.6" cy="434.3" r="4.85" fill="#9bc065"/><circle cx="1675.5" cy="431.8" r="4.85" fill="#00b2b6"/><circle cx="1567.2" cy="437.9" r="4.85" fill="#ffca0d"/><circle cx="1686.5" cy="441.6" r="4.85" fill="#36268b"/><circle cx="1434.3" cy="446.2" r="4.85" fill="#00be91"/><circle cx="1452.3" cy="445.3" r="4.85" fill="#0068e5"/><circle cx="1423.3" cy="462.2" r="4.85" fill="#a9bf61"/><circle cx="1449.1" cy="464.7" r="4.85" fill="#0068e5"/><circle cx="1411.3" cy="473" r="4.85" fill="#67c073"/><circle cx="1475.6" cy="473.6" r="4.85" fill="#a9bf61"/><circle cx="1689.4" cy="466" r="4.85" fill="#8cc06a"/><circle cx="1532.3" cy="476.4" r="4.85" fill="#36268b"/><circle cx="1432.5" cy="488" r="4.85" fill="#ffca0d"/><circle cx="1668.3" cy="485.1" r="4.85" fill="#00ba9e"/><circle cx="1676.4" cy="498.8" r="4.85" fill="#ffc02a"/><circle cx="1833.2" cy="292.2" r="4.85" fill="#36268b"/><circle cx="1743" cy="320.3" r="4.85" fill="#36268b"/><circle cx="1849.1" cy="341" r="4.85" fill="#008ad6"/><circle cx="1870.7" cy="353.7" r="4.85" fill="#006de4"/><circle cx="1808.7" cy="354.8" r="4.85" fill="#ffbc35"/><circle cx="1828.9" cy="362.9" r="4.85" fill="#00be91"/><circle cx="1806.4" cy="370.5" r="4.85" fill="#9bc065"/><circle cx="1715.8" cy="378.9" r="4.85" fill="#36268b"/><circle cx="1767.2" cy="383.2" r="4.85" fill="#00ba9e"/><circle cx="1801.9" cy="398.1" r="4.85" fill="#00ba9e"/><circle cx="1773.6" cy="409" r="4.85" fill="#36268b"/><circle cx="1743.2" cy="415.3" r="4.85" fill="#0068e5"/><circle cx="1901.9" cy="438.3" r="4.85" fill="#008fd6"/><circle cx="1832.5" cy="441.9" r="4.85" fill="#c3be59"/><circle cx="1866.1" cy="446.1" r="4.85" fill="#c3be59"/><circle cx="1812" cy="452.1" r="4.85" fill="#67c073"/><circle cx="1821" cy="458.8" r="4.85" fill="#efbb48"/><circle cx="1766.8" cy="456.8" r="4.85" fill="#a9bf61"/><circle cx="1782.3" cy="467.4" r="4.85" fill="#00ba9e"/><circle cx="1844.4" cy="470.9" r="4.85" fill="#fbe500"/><circle cx="642.9" cy="504.1" r="4.85" fill="#fedf00"/><circle cx="600.2" cy="509.8" r="4.85" fill="#9bc065"/><circle cx="544.4" cy="524.7" r="4.85" fill="#ffbc35"/><circle cx="675.2" cy="530.2" r="4.85" fill="#e5bc4d"/><circle cx="682.9" cy="525.2" r="4.85" fill="#c3be59"/><circle cx="698.4" cy="522.6" r="4.85" fill="#ffc02a"/><circle cx="775.2" cy="520.7" r="4.85" fill="#c3be59"/><circle cx="784.8" cy="523.5" r="4.85" fill="#006de4"/><circle cx="559.3" cy="537.6" r="4.85" fill="#dabc51"/><circle cx="579.7" cy="535.1" r="4.85" fill="#ffbb3d"/><circle cx="595.5" cy="542.6" r="4.85" fill="#00b2b6"/><circle cx="775.3" cy="545.7" r="4.85" fill="#00b2b6"/><circle cx="667.2" cy="552.2" r="4.85" fill="#36268b"/><circle cx="690.5" cy="557.3" r="4.85" fill="#00b2b6"/><circle cx="718.3" cy="558.4" r="4.85" fill="#008ad6"/><circle cx="540.5" cy="559" r="4.85" fill="#00bc98"/><circle cx="607" cy="560.6" r="4.85" fill="#36268b"/><circle cx="644.9" cy="558.7" r="4.85" fill="#fedf00"/><circle cx="515.4" cy="564.3" r="4.85" fill="#e5bc4d"/><circle cx="564.6" cy="569" r="4.85" fill="#fedf00"/><circle cx="789.6" cy="566.5" r="4.85" fill="#dabc51"/><circle cx="516.1" cy="578" r="4.85" fill="#e5bc4d"/><circle cx="774.4" cy="576.4" r="4.85" fill="#9bc065"/><circle cx="790.1" cy="580.3" r="4.85" fill="#9bc065"/><circle cx="656.4" cy="589.9" r="4.85" fill="#2e3ab1"/><circle cx="667.2" cy="596.6" r="4.85" fill="#00a8c9"/><circle cx="757" cy="587.6" r="4.85" fill="#a9bf61"/><circle cx="742.9" cy="591.8" r="4.85" fill="#36268b"/><circle cx="719.9" cy="597.9" r="4.85" fill="#36268b"/><circle cx="768.6" cy="597.9" r="4.85" fill="#00b2b6"/><circle cx="509.9" cy="609.5" r="4.85" fill="#dabc51"/><circle cx="586.2" cy="615.6" r="4.85" fill="#c3be59"/><circle cx="667.7" cy="617" r="4.85" fill="#006de4"/><circle cx="745.8" cy="613.1" r="4.85" fill="#36268b"/><circle cx="791.1" cy="611.2" r="4.85" fill="#36268b"/><circle cx="788" cy="614.8" r="4.85" fill="#00abc4"/><circle cx="803.4" cy="623.8" r="4.85" fill="#00b0bb"/><circle cx="546.3" cy="633.3" r="4.85" fill="#36268b"/><circle cx="562.9" cy="647.9" r="4.85" fill="#0063e5"/><circle cx="637.4" cy="646.8" r="4.85" fill="#ffbb3d"/><circle cx="673.9" cy="650" r="4.85" fill="#fedf00"/><circle cx="794.1" cy="646.6" r="4.85" fill="#36268b"/><circle cx="564.3" cy="656.7" r="4.85" fill="#9bc065"/><circle cx="573.6" cy="660.6" r="4.85" fill="#fedf00"/><circle cx="636.6" cy="656.7" r="4.85" fill="#0082da"/><circle cx="641.3" cy="658.9" r="4.85" fill="#00be91"/><circle cx="773.3" cy="651.7" r="4.85" fill="#00b8a4"/><circle cx="546.6" cy="666.5" r="4.85" fill="#8cc06a"/><circle cx="770" cy="678.3" r="4.85" fill="#0072e3"/><circle cx="607.1" cy="688.2" r="4.85" fill="#f9bb43"/><circle cx="610.6" cy="683.4" r="4.85" fill="#008fd6"/><circle cx="616.1" cy="688.4" r="4.85" fill="#00b2b6"/><circle cx="679" cy="702.1" r="4.85" fill="#c3be59"/><circle cx="563.7" cy="707.2" r="4.85" fill="#e5bc4d"/><circle cx="522.2" cy="708.3" r="4.85" fill="#00bc98"/><circle cx="1029.5" cy="503" r="4.85" fill="#36268b"/><circle cx="973.1" cy="519.6" r="4.85" fill="#36268b"/><circle cx="971.6" cy="513.4" r="4.85" fill="#00b8a4"/><circle cx="993.2" cy="524" r="4.85" fill="#fedf00"/><circle cx="990.7" cy="515.6" r="4.85" fill="#36268b"/><circle cx="1005.9" cy="520.4" r="4.85" fill="#00ba9e"/><circle cx="1063.7" cy="516.5" r="4.85" fill="#00b8a4"/><circle cx="814.9" cy="530.8" r="4.85" fill="#006de4"/><circle cx="932.3" cy="521.6" r="4.85" fill="#36268b"/><circle cx="934.8" cy="527.5" r="4.85" fill="#8cc06a"/><circle cx="979.7" cy="538.2" r="4.85" fill="#36268b"/><circle cx="919.1" cy="541.8" r="4.85" fill="#67c073"/><circle cx="923.1" cy="550.7" r="4.85" fill="#67c073"/><circle cx="938.7" cy="546" r="4.85" fill="#ffca0d"/><circle cx="940.8" cy="539.5" r="4.85" fill="#00b0bb"/><circle cx="934.5" cy="551.9" r="4.85" fill="#36268b"/><circle cx="1065.1" cy="545.1" r="4.85" fill="#00be91"/><circle cx="1071" cy="543" r="4.85" fill="#fedf00"/><circle cx="1061.3" cy="551.1" r="4.85" fill="#009ed2"/><circle cx="1043" cy="545.4" r="4.85" fill="#0072e3"/><circle cx="1021" cy="546.5" r="4.85" fill="#36268b"/><circle cx="874.2" cy="551.4" r="4.85" fill="#36268b"/><circle cx="857.5" cy="555" r="4.85" fill="#67c073"/><circle cx="1008.5" cy="555.8" r="4.85" fill="#007edc"/><circle cx="1032.5" cy="554.7" r="4.85" fill="#36268b"/><circle cx="1033.7" cy="558.9" r="4.85" fill="#36268b"/><circle cx="1024.1" cy="562.3" r="4.85" fill="#0082da"/><circle cx="1029.8" cy="564.3" r="4.85" fill="#00abc4"/><circle cx="835.4" cy="560" r="4.85" fill="#ffbc35"/><circle cx="819.1" cy="563.5" r="4.85" fill="#00be91"/><circle cx="826.4" cy="567.1" r="4.85" fill="#9bc065"/><circle cx="914.6" cy="558.4" r="4.85" fill="#8cc06a"/><circle cx="922.4" cy="562" r="4.85" fill="#00ba9e"/><circle cx="1083.4" cy="560" r="4.85" fill="#f9ec00"/><circle cx="1087.3" cy="553.8" r="4.85" fill="#efbb48"/><circle cx="1093.5" cy="562.8" r="4.85" fill="#00a8c9"/><circle cx="1098.1" cy="560" r="4.85" fill="#00a5cc"/><circle cx="941.3" cy="569.8" r="4.85" fill="#36268b"/><circle cx="939.8" cy="572.1" r="4.85" fill="#006de4"/><circle cx="989.4" cy="570.4" r="4.85" fill="#006de4"/><circle cx="808.2" cy="577.5" r="4.85" fill="#0068e5"/><circle cx="838.8" cy="578.3" r="4.85" fill="#36268b"/><circle cx="1053.4" cy="576.4" r="4.85" fill="#36268b"/><circle cx="877.6" cy="581.7" r="4.85" fill="#ffbc35"/><circle cx="878.1" cy="585.8" r="4.85" fill="#00a8c9"/><circle cx="975.2" cy="581.7" r="4.85" fill="#0082da"/><circle cx="984.2" cy="585" r="4.85" fill="#36268b"/><circle cx="943.2" cy="591.5" r="4.85" fill="#fedf00"/><circle cx="942.5" cy="584.5" r="4.85" fill="#a9bf61"/><circle cx="900" cy="587.6" r="4.85" fill="#29c07e"/><circle cx="887.7" cy="591.3" r="4.85" fill="#007edc"/><circle cx="880.4" cy="597.2" r="4.85" fill="#007edc"/><circle cx="1067.1" cy="584.2" r="4.85" fill="#9bc065"/><circle cx="1055.4" cy="586.1" r="4.85" fill="#006de4"/><circle cx="1060.1" cy="589.2" r="4.85" fill="#007edc"/><circle cx="1058.5" cy="597.2" r="4.85" fill="#008ad6"/><circle cx="1064" cy="595.7" r="4.85" fill="#00be91"/><circle cx="1085.7" cy="583.3" r="4.85" fill="#ffbc35"/><circle cx="1087.3" cy="590.7" r="4.85" fill="#e5bc4d"/><circle cx="1094.3" cy="589.2" r="4.85" fill="#00a8c9"/><circle cx="1097.4" cy="587.6" r="4.85" fill="#36268b"/><circle cx="1090.1" cy="599.6" r="4.85" fill="#00c084"/><circle cx="1097.4" cy="596.2" r="4.85" fill="#007edc"/><circle cx="834" cy="593.8" r="4.85" fill="#36268b"/><circle cx="1002.3" cy="597.7" r="4.85" fill="#c3be59"/><circle cx="1013.5" cy="603.6" r="4.85" fill="#0068e5"/><circle cx="870.7" cy="603.5" r="4.85" fill="#36268b"/><circle cx="808.2" cy="606.6" r="4.85" fill="#007edc"/><circle cx="834.2" cy="608.4" r="4.85" fill="#0068e5"/><circle cx="934.5" cy="610.1" r="4.85" fill="#f9bb43"/><circle cx="950.3" cy="612.8" r="4.85" fill="#00b0bb"/><circle cx="968.3" cy="613.5" r="4.85" fill="#2442be"/><circle cx="914.1" cy="617.1" r="4.85" fill="#36268b"/><circle cx="1027.3" cy="612.6" r="4.85" fill="#36268b"/><circle cx="1054.7" cy="618.2" r="4.85" fill="#36268b"/><circle cx="1057.9" cy="619" r="4.85" fill="#9bc065"/><circle cx="1102.3" cy="617.1" r="4.85" fill="#36268b"/><circle cx="930" cy="628.5" r="4.85" fill="#36268b"/><circle cx="865.4" cy="630.8" r="4.85" fill="#006de4"/><circle cx="868.9" cy="640.4" r="4.85" fill="#f9bb43"/><circle cx="819.9" cy="639.2" r="4.85" fill="#8cc06a"/><circle cx="1054.2" cy="644" r="4.85" fill="#36268b"/><circle cx="887.3" cy="651" r="4.85" fill="#36268b"/><circle cx="814.3" cy="656.7" r="4.85" fill="#ffbc35"/><circle cx="830.7" cy="664.8" r="4.85" fill="#0068e5"/><circle cx="1086.6" cy="654.7" r="4.85" fill="#ffbb3d"/><circle cx="1019.9" cy="663.2" r="4.85" fill="#00a8c9"/><circle cx="903.9" cy="677.5" r="4.85" fill="#c3be59"/><circle cx="963.5" cy="680" r="4.85" fill="#67c073"/><circle cx="932.5" cy="688.2" r="4.85" fill="#a9bf61"/><circle cx="934.5" cy="697.6" r="4.85" fill="#007edc"/><circle cx="1052.2" cy="685.8" r="4.85" fill="#36268b"/><circle cx="982.8" cy="694.9" r="4.85" fill="#f9ec00"/><circle cx="1036.5" cy="698.8" r="4.85" fill="#00bc98"/><circle cx="1058.2" cy="699.9" r="4.85" fill="#007edc"/><circle cx="880.4" cy="707.6" r="4.85" fill="#36268b"/><circle cx="1251.2" cy="501.1" r="4.85" fill="#ffd400"/><circle cx="1287" cy="502.5" r="4.85" fill="#fedf00"/><circle cx="1145.3" cy="526" r="4.85" fill="#fedf00"/><circle cx="1230.9" cy="536.5" r="4.85" fill="#00c084"/><circle cx="1249.5" cy="531.1" r="4.85" fill="#00b2b6"/><circle cx="1383.9" cy="532.3" r="4.85" fill="#00be91"/><circle cx="1118.2" cy="545.7" r="4.85" fill="#36268b"/><circle cx="1279.7" cy="539.9" r="4.85" fill="#36268b"/><circle cx="1268" cy="551.3" r="4.85" fill="#36268b"/><circle cx="1283.2" cy="553.9" r="4.85" fill="#009ad4"/><circle cx="1359.3" cy="552.1" r="4.85" fill="#2e3ab1"/><circle cx="1124.4" cy="557.8" r="4.85" fill="#36268b"/><circle cx="1118.9" cy="562.8" r="4.85" fill="#8cc06a"/><circle cx="1108.9" cy="564.5" r="4.85" fill="#36268b"/><circle cx="1120.2" cy="571.3" r="4.85" fill="#36268b"/><circle cx="1121.9" cy="574.1" r="4.85" fill="#00bf8a"/><circle cx="1187.3" cy="567.7" r="4.85" fill="#00b0bb"/><circle cx="1300.6" cy="563.5" r="4.85" fill="#36268b"/><circle cx="1143" cy="574.9" r="4.85" fill="#36268b"/><circle cx="1201.1" cy="576" r="4.85" fill="#3333a4"/><circle cx="1295.5" cy="576.9" r="4.85" fill="#36268b"/><circle cx="1304" cy="575.7" r="4.85" fill="#67c073"/><circle cx="1324.8" cy="574.6" r="4.85" fill="#0063e5"/><circle cx="1338.7" cy="573.2" r="4.85" fill="#36268b"/><circle cx="1353.6" cy="570.5" r="4.85" fill="#006de4"/><circle cx="1148.9" cy="581.4" r="4.85" fill="#8cc06a"/><circle cx="1153.1" cy="581.9" r="4.85" fill="#fedf00"/><circle cx="1258.9" cy="583.4" r="4.85" fill="#005be2"/><circle cx="1110.9" cy="588.9" r="4.85" fill="#36268b"/><circle cx="1117.1" cy="585.3" r="4.85" fill="#36268b"/><circle cx="1123" cy="586.5" r="4.85" fill="#36268b"/><circle cx="1190.5" cy="590.9" r="4.85" fill="#36268b"/><circle cx="1185.4" cy="599.6" r="4.85" fill="#0095d5"/><circle cx="1284.9" cy="595.2" r="4.85" fill="#dabc51"/><circle cx="1318.6" cy="595.4" r="4.85" fill="#00b4b0"/><circle cx="1149.5" cy="599.7" r="4.85" fill="#c3be59"/><circle cx="1110.2" cy="612.5" r="4.85" fill="#36268b"/><circle cx="1153.9" cy="616.8" r="4.85" fill="#8cc06a"/><circle cx="1336.2" cy="614.5" r="4.85" fill="#36268b"/><circle cx="1236.3" cy="622.9" r="4.85" fill="#ffd400"/><circle cx="1221.7" cy="630.2" r="4.85" fill="#0072e3"/><circle cx="1136.2" cy="635" r="4.85" fill="#4ec078"/><circle cx="1139.4" cy="642.6" r="4.85" fill="#8cc06a"/><circle cx="1287.1" cy="642.1" r="4.85" fill="#36268b"/><circle cx="1193.6" cy="669.9" r="4.85" fill="#ffc02a"/><circle cx="1335.4" cy="669.4" r="4.85" fill="#cebd55"/><circle cx="1148.6" cy="692.7" r="4.85" fill="#fedf00"/><circle cx="1187.4" cy="707.2" r="4.85" fill="#0068e5"/><circle cx="1185.1" cy="701.3" r="4.85" fill="#36268b"/><circle cx="1125.2" cy="707.2" r="4.85" fill="#fedf00"/><circle cx="1489.3" cy="515.4" r="4.85" fill="#ffc02a"/><circle cx="1516.9" cy="526.6" r="4.85" fill="#00b8a4"/><circle cx="1550.8" cy="525.7" r="4.85" fill="#f9bb43"/><circle cx="1453" cy="549" r="4.85" fill="#c3be59"/><circle cx="1517.2" cy="547.1" r="4.85" fill="#a9bf61"/><circle cx="1566.8" cy="544.8" r="4.85" fill="#0063e5"/><circle cx="1422.5" cy="562" r="4.85" fill="#9bc065"/><circle cx="1459.5" cy="564.2" r="4.85" fill="#8cc06a"/><circle cx="1445.5" cy="570.7" r="4.85" fill="#008fd6"/><circle cx="1432.3" cy="576.7" r="4.85" fill="#8cc06a"/><circle cx="1536" cy="562.5" r="4.85" fill="#36268b"/><circle cx="1604.5" cy="559.2" r="4.85" fill="#0072e3"/><circle cx="1629.8" cy="553.1" r="4.85" fill="#00b4b0"/><circle cx="1640.2" cy="553.1" r="4.85" fill="#ffd400"/><circle cx="1675" cy="566.3" r="4.85" fill="#36268b"/><circle cx="1702.3" cy="567.1" r="4.85" fill="#36268b"/><circle cx="1584.5" cy="582.6" r="4.85" fill="#00a8c9"/><circle cx="1640.2" cy="582.2" r="4.85" fill="#0072e3"/><circle cx="1516.5" cy="593" r="4.85" fill="#36268b"/><circle cx="1512.6" cy="598.5" r="4.85" fill="#36268b"/><circle cx="1524.7" cy="592.3" r="4.85" fill="#008ad6"/><circle cx="1516.1" cy="596.2" r="4.85" fill="#a9bf61"/><circle cx="1547.2" cy="597.1" r="4.85" fill="#36268b"/><circle cx="1655.1" cy="598.3" r="4.85" fill="#00a8c9"/><circle cx="1625.9" cy="611.7" r="4.85" fill="#ffd400"/><circle cx="1407.6" cy="621.3" r="4.85" fill="#00be91"/><circle cx="1638" cy="631.7" r="4.85" fill="#ffd400"/><circle cx="1563.8" cy="645.1" r="4.85" fill="#8cc06a"/><circle cx="1564.3" cy="650.5" r="4.85" fill="#ffca0d"/><circle cx="1447.7" cy="652.5" r="4.85" fill="#00a5cc"/><circle cx="1472" cy="655.8" r="4.85" fill="#36268b"/><circle cx="1496.3" cy="656.9" r="4.85" fill="#4ec078"/><circle cx="1500.2" cy="664.3" r="4.85" fill="#ffbc35"/><circle cx="1457.8" cy="665.1" r="4.85" fill="#36268b"/><circle cx="1471" cy="662.9" r="4.85" fill="#8cc06a"/><circle cx="1475.8" cy="668.4" r="4.85" fill="#2e3ab1"/><circle cx="1474.2" cy="676.7" r="4.85" fill="#005be2"/><circle cx="1594.3" cy="665.6" r="4.85" fill="#ffbc35"/><circle cx="1694.3" cy="668.5" r="4.85" fill="#36268b"/><circle cx="1579.7" cy="682.6" r="4.85" fill="#007edc"/><circle cx="1514.4" cy="694.1" r="4.85" fill="#f9bb43"/><circle cx="1543.6" cy="701.3" r="4.85" fill="#c3be59"/><circle cx="1626.6" cy="697.1" r="4.85" fill="#3333a4"/><circle cx="1610.4" cy="707.6" r="4.85" fill="#c3be59"/><circle cx="1712.6" cy="504.2" r="4.85" fill="#009ad4"/><circle cx="1865.5" cy="520.8" r="4.85" fill="#fedf00"/><circle cx="1922" cy="520.4" r="4.85" fill="#8cc06a"/><circle cx="1926.9" cy="522.9" r="4.85" fill="#00b0bb"/><circle cx="1919.3" cy="534.2" r="4.85" fill="#008fd6"/><circle cx="1918.6" cy="544.1" r="4.85" fill="#8cc06a"/><circle cx="1805" cy="541.8" r="4.85" fill="#36268b"/><circle cx="1782.8" cy="547.2" r="4.85" fill="#36268b"/><circle cx="1936.8" cy="552.1" r="4.85" fill="#fedf00"/><circle cx="1715.5" cy="567.3" r="4.85" fill="#00ba9e"/><circle cx="1920.2" cy="563.7" r="4.85" fill="#0749cb"/><circle cx="1934.3" cy="577.4" r="4.85" fill="#ffbc35"/><circle cx="1875.9" cy="579.9" r="4.85" fill="#36268b"/><circle cx="1912.4" cy="587.9" r="4.85" fill="#36268b"/><circle cx="1920.7" cy="594.8" r="4.85" fill="#00be91"/><circle cx="1804.2" cy="602.1" r="4.85" fill="#36268b"/><circle cx="1917.1" cy="605.8" r="4.85" fill="#36268b"/><circle cx="1917.1" cy="616" r="4.85" fill="#36268b"/><circle cx="1730" cy="626.9" r="4.85" fill="#36268b"/><circle cx="1909.3" cy="630.8" r="4.85" fill="#36268b"/><circle cx="1936.3" cy="667.3" r="4.85" fill="#fedf00"/><circle cx="592.9" cy="711.3" r="4.85" fill="#fedf00"/><circle cx="686.6" cy="720.3" r="4.85" fill="#36268b"/><circle cx="682.6" cy="735.2" r="4.85" fill="#0052d8"/><circle cx="764.6" cy="738.1" r="4.85" fill="#c3be59"/><circle cx="797.8" cy="740.3" r="4.85" fill="#36268b"/><circle cx="798.1" cy="749.5" r="4.85" fill="#67c073"/><circle cx="532.1" cy="752.9" r="4.85" fill="#0068e5"/><circle cx="599.2" cy="750.3" r="4.85" fill="#2e3ab1"/><circle cx="695.7" cy="752.7" r="4.85" fill="#00a5cc"/><circle cx="521.9" cy="767" r="4.85" fill="#fedf00"/><circle cx="567.1" cy="764.5" r="4.85" fill="#0068e5"/><circle cx="612.4" cy="761.4" r="4.85" fill="#fedf00"/><circle cx="610.1" cy="771.7" r="4.85" fill="#00be91"/><circle cx="697" cy="767.3" r="4.85" fill="#007edc"/><circle cx="747" cy="764.5" r="4.85" fill="#36268b"/><circle cx="688.5" cy="787.2" r="4.85" fill="#ffbc35"/><circle cx="788.2" cy="792" r="4.85" fill="#00c084"/><circle cx="631.8" cy="811.6" r="4.85" fill="#fedf00"/><circle cx="709.5" cy="810.5" r="4.85" fill="#ffbb3d"/><circle cx="735.1" cy="809.1" r="4.85" fill="#00b2b6"/><circle cx="599.4" cy="825.6" r="4.85" fill="#fedf00"/><circle cx="719.1" cy="822.9" r="4.85" fill="#36268b"/><circle cx="701.4" cy="830.5" r="4.85" fill="#008fd6"/><circle cx="793" cy="829.1" r="4.85" fill="#36268b"/><circle cx="666.3" cy="838.1" r="4.85" fill="#00b2b6"/><circle cx="752.5" cy="834.1" r="4.85" fill="#ffd400"/><circle cx="765.5" cy="843.9" r="4.85" fill="#00be91"/><circle cx="651.6" cy="861.7" r="4.85" fill="#fedf00"/><circle cx="702.8" cy="857.6" r="4.85" fill="#00c084"/><circle cx="655.3" cy="872.6" r="4.85" fill="#f8f300"/><circle cx="610.2" cy="871.4" r="4.85" fill="#67c073"/><circle cx="718.6" cy="867.2" r="4.85" fill="#008ad6"/><circle cx="625" cy="884" r="4.85" fill="#ffd900"/><circle cx="581.2" cy="887.7" r="4.85" fill="#00be91"/><circle cx="712.3" cy="891.7" r="4.85" fill="#c3be59"/><circle cx="765.5" cy="893.6" r="4.85" fill="#8cc06a"/><circle cx="773.3" cy="889.4" r="4.85" fill="#36268b"/><circle cx="886.2" cy="711.4" r="4.85" fill="#36268b"/><circle cx="973" cy="728" r="4.85" fill="#36268b"/><circle cx="919.7" cy="730.5" r="4.85" fill="#0095d5"/><circle cx="1069.6" cy="733.5" r="4.85" fill="#ffbc35"/><circle cx="805.4" cy="740.2" r="4.85" fill="#36268b"/><circle cx="812.4" cy="736" r="4.85" fill="#a9bf61"/><circle cx="957.1" cy="736.1" r="4.85" fill="#c3be59"/><circle cx="1044.7" cy="738.8" r="4.85" fill="#00a8c9"/><circle cx="901.7" cy="743.9" r="4.85" fill="#ffbc35"/><circle cx="928.7" cy="747.9" r="4.85" fill="#00be91"/><circle cx="946" cy="746.5" r="4.85" fill="#007edc"/><circle cx="956.4" cy="750.7" r="4.85" fill="#36268b"/><circle cx="1017.1" cy="748.5" r="4.85" fill="#36268b"/><circle cx="981.2" cy="752.4" r="4.85" fill="#c3be59"/><circle cx="1086.5" cy="758.5" r="4.85" fill="#efbb48"/><circle cx="818.6" cy="761.9" r="4.85" fill="#a9bf61"/><circle cx="887.7" cy="759.4" r="4.85" fill="#36268b"/><circle cx="916.5" cy="765" r="4.85" fill="#36268b"/><circle cx="918.8" cy="765.9" r="4.85" fill="#00c084"/><circle cx="890.5" cy="770.1" r="4.85" fill="#007edc"/><circle cx="844.3" cy="780.1" r="4.85" fill="#ffbc35"/><circle cx="997.2" cy="778" r="4.85" fill="#8cc06a"/><circle cx="1039.3" cy="778.4" r="4.85" fill="#ffd900"/><circle cx="1049.5" cy="778.5" r="4.85" fill="#36268b"/><circle cx="925" cy="783.6" r="4.85" fill="#8cc06a"/><circle cx="949.2" cy="788.6" r="4.85" fill="#ffbc35"/><circle cx="1103.1" cy="794" r="4.85" fill="#36268b"/><circle cx="913.8" cy="796.1" r="4.85" fill="#36268b"/><circle cx="903.1" cy="798.7" r="4.85" fill="#36268b"/><circle cx="898.8" cy="809.4" r="4.85" fill="#a9bf61"/><circle cx="918.6" cy="810.2" r="4.85" fill="#ffd400"/><circle cx="1033.7" cy="806.8" r="4.85" fill="#8cc06a"/><circle cx="1042.9" cy="811.3" r="4.85" fill="#00abc4"/><circle cx="867.7" cy="813.8" r="4.85" fill="#008ad6"/><circle cx="810.1" cy="818.7" r="4.85" fill="#00ba9e"/><circle cx="1083.9" cy="817.5" r="4.85" fill="#fedf00"/><circle cx="1092.5" cy="824.2" r="4.85" fill="#00b8a4"/><circle cx="1059.9" cy="818.9" r="4.85" fill="#008ad6"/><circle cx="1057" cy="825.6" r="4.85" fill="#009ed2"/><circle cx="1018" cy="821.8" r="4.85" fill="#cebd55"/><circle cx="1028.1" cy="822" r="4.85" fill="#ffbb3d"/><circle cx="857.8" cy="838.5" r="4.85" fill="#e5bc4d"/><circle cx="939.1" cy="837.5" r="4.85" fill="#00bc98"/><circle cx="1036.3" cy="836" r="4.85" fill="#36268b"/><circle cx="949.5" cy="845.4" r="4.85" fill="#006de4"/><circle cx="982" cy="846.2" r="4.85" fill="#36268b"/><circle cx="1065.5" cy="843.9" r="4.85" fill="#29c07e"/><circle cx="1095" cy="847.6" r="4.85" fill="#0095d5"/><circle cx="898" cy="854.8" r="4.85" fill="#ffbc35"/><circle cx="1005.1" cy="849.9" r="4.85" fill="#ffbc35"/><circle cx="1018.5" cy="854.6" r="4.85" fill="#00a8c9"/><circle cx="1054" cy="859.7" r="4.85" fill="#ffd400"/><circle cx="1091.9" cy="856.6" r="4.85" fill="#00bc98"/><circle cx="1087.3" cy="861" r="4.85" fill="#dabc51"/><circle cx="892.2" cy="867.6" r="4.85" fill="#a9bf61"/><circle cx="906.8" cy="870.3" r="4.85" fill="#00a8c9"/><circle cx="978.1" cy="870.4" r="4.85" fill="#00be91"/><circle cx="1001.4" cy="868.3" r="4.85" fill="#36268b"/><circle cx="813.2" cy="873.4" r="4.85" fill="#36268b"/><circle cx="1009.5" cy="876.2" r="4.85" fill="#36268b"/><circle cx="1019.7" cy="878.7" r="4.85" fill="#a9bf61"/><circle cx="1061.2" cy="873.7" r="4.85" fill="#009ed2"/><circle cx="1097.4" cy="874.5" r="4.85" fill="#006de4"/><circle cx="1095.8" cy="880.2" r="4.85" fill="#0082da"/><circle cx="822.2" cy="885.8" r="4.85" fill="#00abc4"/><circle cx="834.8" cy="883.8" r="4.85" fill="#00a5cc"/><circle cx="891.1" cy="889.1" r="4.85" fill="#00ba9e"/><circle cx="993.8" cy="888.5" r="4.85" fill="#ffbc35"/><circle cx="976.2" cy="892.3" r="4.85" fill="#00a5cc"/><circle cx="1029.2" cy="892" r="4.85" fill="#36268b"/><circle cx="1165.8" cy="712.5" r="4.85" fill="#009ed2"/><circle cx="1215.8" cy="715.9" r="4.85" fill="#36268b"/><circle cx="1260.7" cy="713.8" r="4.85" fill="#29c07e"/><circle cx="1305.7" cy="711.7" r="4.85" fill="#8cc06a"/><circle cx="1393.2" cy="712.1" r="4.85" fill="#009ed2"/><circle cx="1116.3" cy="719" r="4.85" fill="#00b0bb"/><circle cx="1127.5" cy="720.9" r="4.85" fill="#a9bf61"/><circle cx="1248.6" cy="724.2" r="4.85" fill="#fedf00"/><circle cx="1294.7" cy="724.2" r="4.85" fill="#00be91"/><circle cx="1334.8" cy="719" r="4.85" fill="#67c073"/><circle cx="1234.5" cy="741.9" r="4.85" fill="#ffca0d"/><circle cx="1140.1" cy="747" r="4.85" fill="#fedf00"/><circle cx="1146.7" cy="748.2" r="4.85" fill="#fedf00"/><circle cx="1282.6" cy="748.7" r="4.85" fill="#00a5cc"/><circle cx="1293.8" cy="752.6" r="4.85" fill="#36268b"/><circle cx="1305.3" cy="756.8" r="4.85" fill="#f9bb43"/><circle cx="1329.8" cy="747.8" r="4.85" fill="#00b4b0"/><circle cx="1253.4" cy="762.2" r="4.85" fill="#36268b"/><circle cx="1233.1" cy="765.9" r="4.85" fill="#36268b"/><circle cx="1214.8" cy="777.7" r="4.85" fill="#36268b"/><circle cx="1144.9" cy="772.1" r="4.85" fill="#9bc065"/><circle cx="1159.9" cy="781.9" r="4.85" fill="#ffbc35"/><circle cx="1171" cy="779.4" r="4.85" fill="#0068e5"/><circle cx="1112.7" cy="800.3" r="4.85" fill="#e5bc4d"/><circle cx="1110.1" cy="799.8" r="4.85" fill="#00be91"/><circle cx="1146.4" cy="792.5" r="4.85" fill="#00b2b6"/><circle cx="1144.7" cy="803.8" r="4.85" fill="#fedf00"/><circle cx="1139" cy="802" r="4.85" fill="#00be91"/><circle cx="1262.1" cy="813.6" r="4.85" fill="#008fd6"/><circle cx="1282" cy="811.7" r="4.85" fill="#007edc"/><circle cx="1258.4" cy="822" r="4.85" fill="#a9bf61"/><circle cx="1122.7" cy="816.7" r="4.85" fill="#efbb48"/><circle cx="1130.7" cy="820.6" r="4.85" fill="#006de4"/><circle cx="1195.7" cy="828.7" r="4.85" fill="#ffd400"/><circle cx="1196.3" cy="835.2" r="4.85" fill="#ffd400"/><circle cx="1176.2" cy="839.4" r="4.85" fill="#ffd400"/><circle cx="1306.4" cy="836" r="4.85" fill="#006de4"/><circle cx="1333.9" cy="840.9" r="4.85" fill="#36268b"/><circle cx="1108.1" cy="854.3" r="4.85" fill="#0063e5"/><circle cx="1141.8" cy="859.4" r="4.85" fill="#fedf00"/><circle cx="1143" cy="855.4" r="4.85" fill="#a9bf61"/><circle cx="1312.4" cy="850.9" r="4.85" fill="#a9bf61"/><circle cx="1315.5" cy="851" r="4.85" fill="#ffd900"/><circle cx="1161.3" cy="865.9" r="4.85" fill="#0068e5"/><circle cx="1223.3" cy="861.1" r="4.85" fill="#e5bc4d"/><circle cx="1245.3" cy="856.5" r="4.85" fill="#c3be59"/><circle cx="1257.6" cy="857.7" r="4.85" fill="#ffc02a"/><circle cx="1302.8" cy="861.7" r="4.85" fill="#ffd400"/><circle cx="1337" cy="864.2" r="4.85" fill="#ffca0d"/><circle cx="1230" cy="869.4" r="4.85" fill="#4ec078"/><circle cx="1214.9" cy="875.1" r="4.85" fill="#29c07e"/><circle cx="1242.2" cy="872.8" r="4.85" fill="#008fd6"/><circle cx="1259.6" cy="869.5" r="4.85" fill="#008fd6"/><circle cx="1264.6" cy="870.9" r="4.85" fill="#29c07e"/><circle cx="1349.7" cy="881.5" r="4.85" fill="#00a5cc"/><circle cx="1243.2" cy="889.1" r="4.85" fill="#2442be"/><circle cx="1198.6" cy="894.2" r="4.85" fill="#00be91"/><circle cx="1377.6" cy="890.8" r="4.85" fill="#fedf00"/><circle cx="1393.5" cy="883" r="4.85" fill="#36268b"/><circle cx="1395" cy="886.9" r="4.85" fill="#fedf00"/><circle cx="1444.1" cy="714.2" r="4.85" fill="#00abc4"/><circle cx="1420.7" cy="721.7" r="4.85" fill="#a9bf61"/><circle cx="1476.1" cy="721.5" r="4.85" fill="#00c084"/><circle cx="1507.3" cy="720.1" r="4.85" fill="#00be91"/><circle cx="1584.2" cy="718.7" r="4.85" fill="#00abc4"/><circle cx="1466.8" cy="730.5" r="4.85" fill="#67c073"/><circle cx="1464.1" cy="734" r="4.85" fill="#ffd400"/><circle cx="1556.2" cy="731.9" r="4.85" fill="#0063e5"/><circle cx="1668" cy="731.8" r="4.85" fill="#00be91"/><circle cx="1688.2" cy="730.1" r="4.85" fill="#f9bb43"/><circle cx="1535.4" cy="753.4" r="4.85" fill="#0063e5"/><circle cx="1578.6" cy="751.5" r="4.85" fill="#00c084"/><circle cx="1568.8" cy="758.5" r="4.85" fill="#36268b"/><circle cx="1660.9" cy="757.6" r="4.85" fill="#c3be59"/><circle cx="1481.4" cy="777.7" r="4.85" fill="#4ec078"/><circle cx="1633.4" cy="784.1" r="4.85" fill="#8cc06a"/><circle cx="1663.2" cy="784" r="4.85" fill="#36268b"/><circle cx="1682" cy="783" r="4.85" fill="#fedf00"/><circle cx="1446.4" cy="792.3" r="4.85" fill="#008ad6"/><circle cx="1610.6" cy="795.3" r="4.85" fill="#008ad6"/><circle cx="1571.6" cy="797.1" r="4.85" fill="#36268b"/><circle cx="1575.8" cy="799.5" r="4.85" fill="#efbb48"/><circle cx="1691.1" cy="818.6" r="4.85" fill="#36268b"/><circle cx="1693.5" cy="824.8" r="4.85" fill="#36268b"/><circle cx="1424.4" cy="825.9" r="4.85" fill="#00bc98"/><circle cx="1625" cy="824.5" r="4.85" fill="#8cc06a"/><circle cx="1594.9" cy="831" r="4.85" fill="#ffd400"/><circle cx="1590.5" cy="834.9" r="4.85" fill="#00be91"/><circle cx="1576.7" cy="837.1" r="4.85" fill="#36268b"/><circle cx="1526.2" cy="836.1" r="4.85" fill="#0068e5"/><circle cx="1478.4" cy="850.1" r="4.85" fill="#0063e5"/><circle cx="1532.3" cy="849.6" r="4.85" fill="#007ade"/><circle cx="1525.9" cy="856.6" r="4.85" fill="#36268b"/><circle cx="1513.7" cy="860.5" r="4.85" fill="#36268b"/><circle cx="1631.4" cy="856.3" r="4.85" fill="#00bc98"/><circle cx="1625" cy="863.9" r="4.85" fill="#0052d8"/><circle cx="1514.4" cy="879.4" r="4.85" fill="#00b0bb"/><circle cx="1507" cy="886.6" r="4.85" fill="#ffbc35"/><circle cx="1406.7" cy="889.7" r="4.85" fill="#00c084"/><circle cx="1622" cy="893.7" r="4.85" fill="#0052d8"/><circle cx="1723.6" cy="712.1" r="4.85" fill="#00be91"/><circle cx="1757.8" cy="741.1" r="4.85" fill="#36268b"/><circle cx="1786.6" cy="738.1" r="4.85" fill="#36268b"/><circle cx="1723.1" cy="761.6" r="4.85" fill="#2442be"/><circle cx="1764.1" cy="770.9" r="4.85" fill="#36268b"/><circle cx="1746.3" cy="782.1" r="4.85" fill="#36268b"/><circle cx="1747.4" cy="785.5" r="4.85" fill="#00a8c9"/><circle cx="1708.9" cy="795.4" r="4.85" fill="#ffbb3d"/><circle cx="1839" cy="791.1" r="4.85" fill="#00be91"/><circle cx="1862.3" cy="791.7" r="4.85" fill="#36268b"/><circle cx="1818.9" cy="801" r="4.85" fill="#00b0bb"/><circle cx="1788.4" cy="830.8" r="4.85" fill="#006de4"/><circle cx="1831.5" cy="835.8" r="4.85" fill="#00be91"/><circle cx="1805.6" cy="841.7" r="4.85" fill="#f9bb43"/><circle cx="1919.6" cy="836.9" r="4.85" fill="#36268b"/><circle cx="1787.4" cy="859.4" r="4.85" fill="#fedf00"/><circle cx="1754" cy="869.5" r="4.85" fill="#008ad6"/><circle cx="1704.7" cy="880.2" r="4.85" fill="#008fd6"/><circle cx="1797.8" cy="888.3" r="4.85" fill="#00b0bb"/>
</g>
<line x1="1079.15" y1="81.70" x2="1079.15" y2="896.40" stroke="#ff0000" stroke-width="4.2"/>
<text class="t" transform="translate(215.2 962.5) scale(0.975 1.045)" font-size="50.8" text-anchor="middle">18</text>
<text class="t" transform="translate(359.3 962.5) scale(0.975 1.045)" font-size="50.8" text-anchor="middle">19</text>
<text class="t" transform="translate(503.3 962.5) scale(0.975 1.045)" font-size="50.8" text-anchor="middle">20</text>
<text class="t" transform="translate(647.4 962.5) scale(0.975 1.045)" font-size="50.8" text-anchor="middle">21</text>
<text class="t" transform="translate(791.4 962.5) scale(0.975 1.045)" font-size="50.8" text-anchor="middle">22</text>
<text class="t" transform="translate(935.5 962.5) scale(0.975 1.045)" font-size="50.8" text-anchor="middle">23</text>
<text class="t" transform="translate(1079.5 962.5) scale(0.975 1.045)" font-size="50.8" text-anchor="middle">0</text>
<text class="t" transform="translate(1223.6 962.5) scale(0.975 1.045)" font-size="50.8" text-anchor="middle">1</text>
<text class="t" transform="translate(1367.7 962.5) scale(0.975 1.045)" font-size="50.8" text-anchor="middle">2</text>
<text class="t" transform="translate(1511.7 962.5) scale(0.975 1.045)" font-size="50.8" text-anchor="middle">3</text>
<text class="t" transform="translate(1655.8 962.5) scale(0.975 1.045)" font-size="50.8" text-anchor="middle">4</text>
<text class="t" transform="translate(1799.8 962.5) scale(0.975 1.045)" font-size="50.8" text-anchor="middle">5</text>
<text class="t" transform="translate(1943.9 962.5) scale(0.975 1.045)" font-size="50.8" text-anchor="middle">6</text>
<text class="t" transform="translate(196.2 99.2) scale(0.975 1.045)" font-size="50.8" text-anchor="end">180</text>
<text class="t" transform="translate(196.2 167.1) scale(0.975 1.045)" font-size="50.8" text-anchor="end">150</text>
<text class="t" transform="translate(196.2 235.0) scale(0.975 1.045)" font-size="50.8" text-anchor="end">120</text>
<text class="t" transform="translate(196.2 302.9) scale(0.975 1.045)" font-size="50.8" text-anchor="end">90</text>
<text class="t" transform="translate(196.2 370.8) scale(0.975 1.045)" font-size="50.8" text-anchor="end">60</text>
<text class="t" transform="translate(196.2 438.7) scale(0.975 1.045)" font-size="50.8" text-anchor="end">30</text>
<text class="t" transform="translate(196.2 506.5) scale(0.975 1.045)" font-size="50.8" text-anchor="end">0</text>
<text class="t" transform="translate(196.2 574.4) scale(0.975 1.045)" font-size="50.8" text-anchor="end">-30</text>
<text class="t" transform="translate(196.2 642.3) scale(0.975 1.045)" font-size="50.8" text-anchor="end">-60</text>
<text class="t" transform="translate(196.2 710.2) scale(0.975 1.045)" font-size="50.8" text-anchor="end">-90</text>
<text class="t" transform="translate(196.2 778.1) scale(0.975 1.045)" font-size="50.8" text-anchor="end">-120</text>
<text class="t" transform="translate(196.2 846.0) scale(0.975 1.045)" font-size="50.8" text-anchor="end">-150</text>
<text class="t" transform="translate(196.2 913.9) scale(0.975 1.045)" font-size="50.8" text-anchor="end">-180</text>
<text class="t" x="1079.5" y="1033.8" font-size="57.0" text-anchor="middle">LT(hour)</text>
<text class="t" transform="translate(75.2 489.4) rotate(-90)" font-size="57.0" text-anchor="middle">Geographic Longitude(degree)</text>
</g>
<g id="axes2">
<text class="t" style="fill:#000" x="1079.5" y="1131.2" font-size="57.0" text-anchor="middle">Winter hemisphere</text>
<rect class="ax" x="215.20" y="1154.00" width="1728.70" height="814.50"/>
<path class="ax" style="stroke-width:2" d="M215.20 1968.50v-18.0M215.20 1154.00v18.0M215.20 1154.00h18.0M1943.90 1154.00h-18.0M359.26 1968.50v-18.0M359.26 1154.00v18.0M215.20 1221.88h18.0M1943.90 1221.88h-18.0M503.32 1968.50v-18.0M503.32 1154.00v18.0M215.20 1289.75h18.0M1943.90 1289.75h-18.0M647.38 1968.50v-18.0M647.38 1154.00v18.0M215.20 1357.62h18.0M1943.90 1357.62h-18.0M791.43 1968.50v-18.0M791.43 1154.00v18.0M215.20 1425.50h18.0M1943.90 1425.50h-18.0M935.49 1968.50v-18.0M935.49 1154.00v18.0M215.20 1493.38h18.0M1943.90 1493.38h-18.0M1079.55 1968.50v-18.0M1079.55 1154.00v18.0M215.20 1561.25h18.0M1943.90 1561.25h-18.0M1223.61 1968.50v-18.0M1223.61 1154.00v18.0M215.20 1629.12h18.0M1943.90 1629.12h-18.0M1367.67 1968.50v-18.0M1367.67 1154.00v18.0M215.20 1697.00h18.0M1943.90 1697.00h-18.0M1511.73 1968.50v-18.0M1511.73 1154.00v18.0M215.20 1764.88h18.0M1943.90 1764.88h-18.0M1655.78 1968.50v-18.0M1655.78 1154.00v18.0M215.20 1832.75h18.0M1943.90 1832.75h-18.0M1799.84 1968.50v-18.0M1799.84 1154.00v18.0M215.20 1900.62h18.0M1943.90 1900.62h-18.0M1943.90 1968.50v-18.0M1943.90 1154.00v18.0M215.20 1968.50h18.0M1943.90 1968.50h-18.0"/>
<g id="dots2">
<circle cx="388.1" cy="1176.3" r="4.85" fill="#fbe500"/><circle cx="410.9" cy="1185.7" r="4.85" fill="#f9bb43"/><circle cx="444" cy="1208.2" r="4.85" fill="#c3be59"/><circle cx="491.7" cy="1218.4" r="4.85" fill="#fedf00"/><circle cx="504" cy="1201.1" r="4.85" fill="#00abc4"/><circle cx="479.6" cy="1320.3" r="4.85" fill="#ffbc35"/><circle cx="492.8" cy="1321.8" r="4.85" fill="#008ad6"/><circle cx="446.6" cy="1334.2" r="4.85" fill="#00be91"/><circle cx="416" cy="1479.3" r="4.85" fill="#8cc06a"/><circle cx="355.5" cy="1518.6" r="4.85" fill="#fedf00"/><circle cx="465.1" cy="1525.2" r="4.85" fill="#f9bb43"/><circle cx="415.5" cy="1556.5" r="4.85" fill="#00ba9e"/><circle cx="380.9" cy="1567.6" r="4.85" fill="#ffd900"/><circle cx="275.6" cy="1654.1" r="4.85" fill="#ffd900"/><circle cx="419.7" cy="1650.6" r="4.85" fill="#ffd900"/><circle cx="457" cy="1652.6" r="4.85" fill="#ffd900"/><circle cx="469.8" cy="1647.4" r="4.85" fill="#8cc06a"/><circle cx="471.4" cy="1656.1" r="4.85" fill="#ffd900"/><circle cx="493.4" cy="1650.8" r="4.85" fill="#fedf00"/><circle cx="367" cy="1667" r="4.85" fill="#ffd900"/><circle cx="377.2" cy="1673.1" r="4.85" fill="#ffd900"/><circle cx="453.9" cy="1670.7" r="4.85" fill="#36268b"/><circle cx="455" cy="1683.8" r="4.85" fill="#ffd900"/><circle cx="281.3" cy="1690.3" r="4.85" fill="#ffd900"/><circle cx="438.9" cy="1699" r="4.85" fill="#4ec078"/><circle cx="229.9" cy="1706.9" r="4.85" fill="#ffd900"/><circle cx="278.9" cy="1708.6" r="4.85" fill="#ffd900"/><circle cx="487.3" cy="1715.1" r="4.85" fill="#ffd900"/><circle cx="492.7" cy="1724.3" r="4.85" fill="#9bc065"/><circle cx="504.2" cy="1709.3" r="4.85" fill="#8cc06a"/><circle cx="439.5" cy="1724.3" r="4.85" fill="#00abc4"/><circle cx="481.8" cy="1735" r="4.85" fill="#005be2"/><circle cx="417.5" cy="1738.7" r="4.85" fill="#ffd900"/><circle cx="242.3" cy="1762" r="4.85" fill="#ffd900"/><circle cx="489.4" cy="1776" r="4.85" fill="#00bc98"/><circle cx="490.1" cy="1769.4" r="4.85" fill="#ffd900"/><circle cx="465.7" cy="1777.3" r="4.85" fill="#36268b"/><circle cx="420.4" cy="1793" r="4.85" fill="#ffd900"/><circle cx="244.5" cy="1816.5" r="4.85" fill="#ffd900"/><circle cx="493.1" cy="1823.7" r="4.85" fill="#ffd900"/><circle cx="424.7" cy="1847" r="4.85" fill="#ffca0d"/><circle cx="436.7" cy="1867.3" r="4.85" fill="#a9bf61"/><circle cx="246.9" cy="1870.8" r="4.85" fill="#ffd900"/><circle cx="495.8" cy="1869.9" r="4.85" fill="#007edc"/><circle cx="490.5" cy="1902.6" r="4.85" fill="#00b0bb"/><circle cx="503.9" cy="1914.3" r="4.85" fill="#8cc06a"/><circle cx="249.5" cy="1925.5" r="4.85" fill="#ffd900"/><circle cx="612.6" cy="1156.2" r="4.85" fill="#007ade"/><circle cx="721.4" cy="1158.7" r="4.85" fill="#008fd6"/><circle cx="735.2" cy="1164.3" r="4.85" fill="#00bc98"/><circle cx="735.4" cy="1161.7" r="4.85" fill="#36268b"/><circle cx="747" cy="1158.4" r="4.85" fill="#36268b"/><circle cx="755.4" cy="1162.8" r="4.85" fill="#ffbb3d"/><circle cx="775.6" cy="1155" r="4.85" fill="#36268b"/><circle cx="782.9" cy="1156.5" r="4.85" fill="#00a8c9"/><circle cx="792.7" cy="1164.3" r="4.85" fill="#00b0bb"/><circle cx="795.8" cy="1170.5" r="4.85" fill="#009ed2"/><circle cx="564.9" cy="1166.9" r="4.85" fill="#36268b"/><circle cx="580.3" cy="1167.9" r="4.85" fill="#f8f300"/><circle cx="640.2" cy="1176.4" r="4.85" fill="#006de4"/><circle cx="684.6" cy="1170.2" r="4.85" fill="#e5bc4d"/><circle cx="758.5" cy="1178" r="4.85" fill="#00be91"/><circle cx="777.2" cy="1176" r="4.85" fill="#36268b"/><circle cx="786.5" cy="1173.2" r="4.85" fill="#36268b"/><circle cx="781.7" cy="1177.2" r="4.85" fill="#67c073"/><circle cx="653.9" cy="1185.4" r="4.85" fill="#00a8c9"/><circle cx="546.7" cy="1190.9" r="4.85" fill="#fedf00"/><circle cx="713.5" cy="1189.3" r="4.85" fill="#36268b"/><circle cx="695.3" cy="1195" r="4.85" fill="#36268b"/><circle cx="787" cy="1194.1" r="4.85" fill="#00ba9e"/><circle cx="798.1" cy="1198" r="4.85" fill="#36268b"/><circle cx="792.5" cy="1201.3" r="4.85" fill="#008ad6"/><circle cx="554.2" cy="1206.1" r="4.85" fill="#0749cb"/><circle cx="666" cy="1199.4" r="4.85" fill="#ffca0d"/><circle cx="654.3" cy="1203.9" r="4.85" fill="#a9bf61"/><circle cx="640.7" cy="1213.5" r="4.85" fill="#ffd900"/><circle cx="673.8" cy="1212.9" r="4.85" fill="#007edc"/><circle cx="662.3" cy="1219.3" r="4.85" fill="#ffbc35"/><circle cx="717.5" cy="1217.6" r="4.85" fill="#67c073"/><circle cx="740.4" cy="1215.1" r="4.85" fill="#ffd900"/><circle cx="737.3" cy="1212.9" r="4.85" fill="#00abc4"/><circle cx="602.6" cy="1222.1" r="4.85" fill="#9bc065"/><circle cx="593.2" cy="1225.5" r="4.85" fill="#00be91"/><circle cx="621.9" cy="1225.2" r="4.85" fill="#e5bc4d"/><circle cx="636.8" cy="1225.6" r="4.85" fill="#00a8c9"/><circle cx="803.9" cy="1220.2" r="4.85" fill="#0063e5"/><circle cx="795.8" cy="1226.9" r="4.85" fill="#9bc065"/><circle cx="776.4" cy="1232.6" r="4.85" fill="#009ad4"/><circle cx="707.1" cy="1247.4" r="4.85" fill="#e5bc4d"/><circle cx="758.4" cy="1244.4" r="4.85" fill="#36268b"/><circle cx="798.1" cy="1246.1" r="4.85" fill="#0072e3"/><circle cx="798.1" cy="1254.4" r="4.85" fill="#efbb48"/><circle cx="778.1" cy="1261.4" r="4.85" fill="#ffbc35"/><circle cx="720.7" cy="1270" r="4.85" fill="#006de4"/><circle cx="775.6" cy="1272.2" r="4.85" fill="#00be91"/><circle cx="768.9" cy="1279.4" r="4.85" fill="#ffd400"/><circle cx="662" cy="1272.7" r="4.85" fill="#a9bf61"/><circle cx="679.3" cy="1280.5" r="4.85" fill="#36268b"/><circle cx="535.6" cy="1305.1" r="4.85" fill="#f9ec00"/><circle cx="707.6" cy="1310.3" r="4.85" fill="#ffd400"/><circle cx="737.9" cy="1306.2" r="4.85" fill="#c3be59"/><circle cx="609.2" cy="1311.8" r="4.85" fill="#67c073"/><circle cx="584.5" cy="1317.3" r="4.85" fill="#67c073"/><circle cx="675.9" cy="1321.4" r="4.85" fill="#f9bb43"/><circle cx="684.8" cy="1327.5" r="4.85" fill="#00a5cc"/><circle cx="690.7" cy="1336.2" r="4.85" fill="#00b4b0"/><circle cx="552.5" cy="1325.3" r="4.85" fill="#007ade"/><circle cx="532" cy="1330.6" r="4.85" fill="#36268b"/><circle cx="773.3" cy="1324.6" r="4.85" fill="#a9bf61"/><circle cx="780" cy="1326.3" r="4.85" fill="#36268b"/><circle cx="776.4" cy="1332.3" r="4.85" fill="#36268b"/><circle cx="788.4" cy="1331.9" r="4.85" fill="#8cc06a"/><circle cx="877.6" cy="1155.8" r="4.85" fill="#36268b"/><circle cx="869.9" cy="1157.3" r="4.85" fill="#00b8a4"/><circle cx="863.4" cy="1164.3" r="4.85" fill="#a9bf61"/><circle cx="981.7" cy="1153.7" r="4.85" fill="#36268b"/><circle cx="978.6" cy="1161.7" r="4.85" fill="#36268b"/><circle cx="964.9" cy="1158.9" r="4.85" fill="#c3be59"/><circle cx="957.1" cy="1163.2" r="4.85" fill="#ffbb3d"/><circle cx="1071.4" cy="1152.7" r="4.85" fill="#ffd900"/><circle cx="814.3" cy="1169.7" r="4.85" fill="#00abc4"/><circle cx="816" cy="1163.2" r="4.85" fill="#36268b"/><circle cx="835.7" cy="1161.7" r="4.85" fill="#ffd400"/><circle cx="1005" cy="1164.3" r="4.85" fill="#008ad6"/><circle cx="999.8" cy="1163.5" r="4.85" fill="#ffbc35"/><circle cx="1008.1" cy="1169.7" r="4.85" fill="#36268b"/><circle cx="1005.3" cy="1179.8" r="4.85" fill="#36268b"/><circle cx="1000.3" cy="1172.1" r="4.85" fill="#fedf00"/><circle cx="1101.6" cy="1162.3" r="4.85" fill="#ffc02a"/><circle cx="916.8" cy="1168.2" r="4.85" fill="#8cc06a"/><circle cx="917.5" cy="1171.6" r="4.85" fill="#008fd6"/><circle cx="859.3" cy="1171.6" r="4.85" fill="#00b0bb"/><circle cx="870.8" cy="1174.4" r="4.85" fill="#8cc06a"/><circle cx="943.2" cy="1170.8" r="4.85" fill="#008ad6"/><circle cx="951.1" cy="1176.6" r="4.85" fill="#008ad6"/><circle cx="964" cy="1176.4" r="4.85" fill="#36268b"/><circle cx="1029.7" cy="1172.8" r="4.85" fill="#e5bc4d"/><circle cx="1063.2" cy="1178" r="4.85" fill="#00b8a4"/><circle cx="1058.5" cy="1176" r="4.85" fill="#008ad6"/><circle cx="1098.1" cy="1177.5" r="4.85" fill="#006de4"/><circle cx="907.6" cy="1178.6" r="4.85" fill="#00b0bb"/><circle cx="868.8" cy="1187.6" r="4.85" fill="#008ad6"/><circle cx="869.1" cy="1182.9" r="4.85" fill="#36268b"/><circle cx="1033.5" cy="1183.4" r="4.85" fill="#36268b"/><circle cx="1051.1" cy="1185.3" r="4.85" fill="#36268b"/><circle cx="831.2" cy="1193" r="4.85" fill="#ffbc35"/><circle cx="822" cy="1198.5" r="4.85" fill="#00bc98"/><circle cx="989.6" cy="1195.2" r="4.85" fill="#8cc06a"/><circle cx="1012" cy="1193.7" r="4.85" fill="#ffbc35"/><circle cx="1007.3" cy="1200.8" r="4.85" fill="#8cc06a"/><circle cx="893.2" cy="1197.7" r="4.85" fill="#36268b"/><circle cx="884.6" cy="1202.7" r="4.85" fill="#36268b"/><circle cx="888.2" cy="1203.9" r="4.85" fill="#00b0bb"/><circle cx="895" cy="1205.8" r="4.85" fill="#008ad6"/><circle cx="948.4" cy="1201.6" r="4.85" fill="#36268b"/><circle cx="968.6" cy="1200.3" r="4.85" fill="#36268b"/><circle cx="974.7" cy="1205.5" r="4.85" fill="#00be91"/><circle cx="1043.2" cy="1201" r="4.85" fill="#36268b"/><circle cx="1054.7" cy="1205" r="4.85" fill="#00b0bb"/><circle cx="1088.5" cy="1203.6" r="4.85" fill="#a9bf61"/><circle cx="1086.2" cy="1201.6" r="4.85" fill="#ffbc35"/><circle cx="830" cy="1207.8" r="4.85" fill="#36268b"/><circle cx="855.9" cy="1203.9" r="4.85" fill="#8cc06a"/><circle cx="856.2" cy="1207.5" r="4.85" fill="#007ade"/><circle cx="999.5" cy="1205" r="4.85" fill="#36268b"/><circle cx="918.8" cy="1209.3" r="4.85" fill="#36268b"/><circle cx="939.3" cy="1213.2" r="4.85" fill="#a9bf61"/><circle cx="815.1" cy="1214.3" r="4.85" fill="#a9bf61"/><circle cx="879.5" cy="1215.9" r="4.85" fill="#ffd900"/><circle cx="993.3" cy="1216.6" r="4.85" fill="#36268b"/><circle cx="963" cy="1220.2" r="4.85" fill="#006de4"/><circle cx="806.2" cy="1223.3" r="4.85" fill="#006de4"/><circle cx="897" cy="1226.1" r="4.85" fill="#36268b"/><circle cx="892.9" cy="1226.9" r="4.85" fill="#fedf00"/><circle cx="1012.7" cy="1224.9" r="4.85" fill="#36268b"/><circle cx="1009.6" cy="1229.2" r="4.85" fill="#a9bf61"/><circle cx="1086.2" cy="1225.3" r="4.85" fill="#ffbc35"/><circle cx="1063.5" cy="1229.8" r="4.85" fill="#00b0bb"/><circle cx="1064" cy="1231.9" r="4.85" fill="#00b0bb"/><circle cx="829.2" cy="1233.1" r="4.85" fill="#008ad6"/><circle cx="885.1" cy="1235.9" r="4.85" fill="#8cc06a"/><circle cx="847.7" cy="1236.5" r="4.85" fill="#00bc98"/><circle cx="863.7" cy="1237" r="4.85" fill="#c3be59"/><circle cx="855.6" cy="1240.9" r="4.85" fill="#00b2b6"/><circle cx="860.2" cy="1244.9" r="4.85" fill="#36268b"/><circle cx="1003.9" cy="1237.3" r="4.85" fill="#fbe500"/><circle cx="1032.5" cy="1238.8" r="4.85" fill="#36268b"/><circle cx="1042.7" cy="1244.1" r="4.85" fill="#ffca0d"/><circle cx="1053.7" cy="1242.3" r="4.85" fill="#36268b"/><circle cx="1071.3" cy="1246.8" r="4.85" fill="#ffd400"/><circle cx="1088.5" cy="1237.3" r="4.85" fill="#a9bf61"/><circle cx="1090.4" cy="1241.2" r="4.85" fill="#8cc06a"/><circle cx="1088" cy="1246.1" r="4.85" fill="#a9bf61"/><circle cx="909.2" cy="1250.8" r="4.85" fill="#36268b"/><circle cx="932.8" cy="1253.1" r="4.85" fill="#36268b"/><circle cx="953.6" cy="1252.2" r="4.85" fill="#8cc06a"/><circle cx="980.6" cy="1249.4" r="4.85" fill="#a9bf61"/><circle cx="1019.7" cy="1255.1" r="4.85" fill="#0082da"/><circle cx="983.5" cy="1258.9" r="4.85" fill="#0068e5"/><circle cx="991.3" cy="1263.8" r="4.85" fill="#36268b"/><circle cx="1046.9" cy="1259.8" r="4.85" fill="#36268b"/><circle cx="1046.9" cy="1262.9" r="4.85" fill="#36268b"/><circle cx="1059.3" cy="1259.2" r="4.85" fill="#00b0bb"/><circle cx="806.7" cy="1262.9" r="4.85" fill="#36268b"/><circle cx="853.3" cy="1263.7" r="4.85" fill="#a9bf61"/><circle cx="855.4" cy="1260.7" r="4.85" fill="#36268b"/><circle cx="843.6" cy="1264.5" r="4.85" fill="#00be91"/><circle cx="898.9" cy="1266" r="4.85" fill="#ffd900"/><circle cx="970.8" cy="1266" r="4.85" fill="#36268b"/><circle cx="931.7" cy="1269.9" r="4.85" fill="#00b4b0"/><circle cx="862.1" cy="1271.8" r="4.85" fill="#008ad6"/><circle cx="910.7" cy="1278" r="4.85" fill="#009ad4"/><circle cx="994.4" cy="1279.2" r="4.85" fill="#36268b"/><circle cx="1004.2" cy="1277.2" r="4.85" fill="#00b0bb"/><circle cx="821.3" cy="1280.9" r="4.85" fill="#00bf8a"/><circle cx="1092.4" cy="1278.4" r="4.85" fill="#4ec078"/><circle cx="866.3" cy="1288.1" r="4.85" fill="#00be91"/><circle cx="884.6" cy="1289.8" r="4.85" fill="#00be91"/><circle cx="888.8" cy="1287" r="4.85" fill="#8cc06a"/><circle cx="1044.3" cy="1290.9" r="4.85" fill="#36268b"/><circle cx="1058.1" cy="1288.2" r="4.85" fill="#ffca0d"/><circle cx="946.3" cy="1290.9" r="4.85" fill="#efbb48"/><circle cx="932" cy="1295.8" r="4.85" fill="#3333a4"/><circle cx="850.5" cy="1293.2" r="4.85" fill="#c3be59"/><circle cx="841" cy="1296.6" r="4.85" fill="#a9bf61"/><circle cx="861.5" cy="1297.1" r="4.85" fill="#00be91"/><circle cx="812.6" cy="1299.4" r="4.85" fill="#006de4"/><circle cx="963" cy="1301.4" r="4.85" fill="#008fd6"/><circle cx="1032.6" cy="1299.4" r="4.85" fill="#36268b"/><circle cx="1091.5" cy="1306.9" r="4.85" fill="#00be91"/><circle cx="935.6" cy="1310" r="4.85" fill="#005be2"/><circle cx="987.9" cy="1309" r="4.85" fill="#36268b"/><circle cx="1011.2" cy="1307.6" r="4.85" fill="#00bc98"/><circle cx="1020.5" cy="1307.9" r="4.85" fill="#00be91"/><circle cx="830.7" cy="1312.3" r="4.85" fill="#008ad6"/><circle cx="837" cy="1312.9" r="4.85" fill="#00ba9e"/><circle cx="995.3" cy="1315.7" r="4.85" fill="#00be91"/><circle cx="999.8" cy="1314.6" r="4.85" fill="#8cc06a"/><circle cx="1032.1" cy="1315.7" r="4.85" fill="#36268b"/><circle cx="1037.6" cy="1320.7" r="4.85" fill="#36268b"/><circle cx="1030.9" cy="1324.2" r="4.85" fill="#36268b"/><circle cx="890.2" cy="1318.8" r="4.85" fill="#ffd900"/><circle cx="917.5" cy="1316.5" r="4.85" fill="#ffd900"/><circle cx="971.7" cy="1318.8" r="4.85" fill="#ffd400"/><circle cx="964.9" cy="1318" r="4.85" fill="#2e3ab1"/><circle cx="925.2" cy="1323.2" r="4.85" fill="#007ade"/><circle cx="941.8" cy="1322.7" r="4.85" fill="#ffbc35"/><circle cx="948.3" cy="1324.7" r="4.85" fill="#ffd900"/><circle cx="888.8" cy="1333.9" r="4.85" fill="#ffbc35"/><circle cx="914.4" cy="1332.8" r="4.85" fill="#00abc4"/><circle cx="922.7" cy="1330.8" r="4.85" fill="#a9bf61"/><circle cx="1008.9" cy="1330.5" r="4.85" fill="#36268b"/><circle cx="1018.6" cy="1329.7" r="4.85" fill="#0063e5"/><circle cx="1020.2" cy="1331.7" r="4.85" fill="#00bc98"/><circle cx="1066.3" cy="1331.2" r="4.85" fill="#8cc06a"/><circle cx="1044.7" cy="1339" r="4.85" fill="#36268b"/><circle cx="1070.8" cy="1342.6" r="4.85" fill="#ffd400"/><circle cx="1058.5" cy="1345.2" r="4.85" fill="#006de4"/><circle cx="1055.4" cy="1347.8" r="4.85" fill="#3333a4"/><circle cx="875.8" cy="1346" r="4.85" fill="#36268b"/><circle cx="882.6" cy="1347.2" r="4.85" fill="#36268b"/><circle cx="936.6" cy="1346" r="4.85" fill="#006de4"/><circle cx="948.3" cy="1344.3" r="4.85" fill="#36268b"/><circle cx="940.5" cy="1351.7" r="4.85" fill="#36268b"/><circle cx="894.1" cy="1351.7" r="4.85" fill="#8cc06a"/><circle cx="888.5" cy="1356.1" r="4.85" fill="#ffd900"/><circle cx="998.4" cy="1354.5" r="4.85" fill="#ffd400"/><circle cx="990.7" cy="1360.3" r="4.85" fill="#36268b"/><circle cx="1104.3" cy="1344.4" r="4.85" fill="#36268b"/><circle cx="1101.6" cy="1360.3" r="4.85" fill="#008fd6"/><circle cx="1103.9" cy="1154.2" r="4.85" fill="#36268b"/><circle cx="1113.2" cy="1156.1" r="4.85" fill="#00ba9e"/><circle cx="1106.2" cy="1159.6" r="4.85" fill="#00bc98"/><circle cx="1128.3" cy="1154.5" r="4.85" fill="#ffbb3d"/><circle cx="1121.1" cy="1163.1" r="4.85" fill="#36268b"/><circle cx="1114.3" cy="1166.6" r="4.85" fill="#36268b"/><circle cx="1110.1" cy="1172.8" r="4.85" fill="#36268b"/><circle cx="1105" cy="1179.7" r="4.85" fill="#efbb48"/><circle cx="1113.7" cy="1182.8" r="4.85" fill="#36268b"/><circle cx="1164.4" cy="1158.9" r="4.85" fill="#2e3ab1"/><circle cx="1169.9" cy="1157.6" r="4.85" fill="#36268b"/><circle cx="1160.6" cy="1164.8" r="4.85" fill="#36268b"/><circle cx="1175.6" cy="1164.3" r="4.85" fill="#36268b"/><circle cx="1176.1" cy="1172.5" r="4.85" fill="#36268b"/><circle cx="1190.5" cy="1170.8" r="4.85" fill="#008ad6"/><circle cx="1213.5" cy="1170.5" r="4.85" fill="#007ade"/><circle cx="1237" cy="1157.6" r="4.85" fill="#36268b"/><circle cx="1256.4" cy="1162.9" r="4.85" fill="#00b0bb"/><circle cx="1270.3" cy="1160.7" r="4.85" fill="#36268b"/><circle cx="1285.7" cy="1154.2" r="4.85" fill="#a9bf61"/><circle cx="1311.2" cy="1158.1" r="4.85" fill="#36268b"/><circle cx="1320.5" cy="1157" r="4.85" fill="#a9bf61"/><circle cx="1327" cy="1158.6" r="4.85" fill="#a9bf61"/><circle cx="1335.2" cy="1169.7" r="4.85" fill="#36268b"/><circle cx="1275.2" cy="1168.7" r="4.85" fill="#ffbb3d"/><circle cx="1268.5" cy="1177.5" r="4.85" fill="#36268b"/><circle cx="1273.4" cy="1176.7" r="4.85" fill="#ffbb3d"/><circle cx="1274.2" cy="1185.3" r="4.85" fill="#00b4b0"/><circle cx="1248.6" cy="1175.3" r="4.85" fill="#a9bf61"/><circle cx="1162.1" cy="1183.4" r="4.85" fill="#8cc06a"/><circle cx="1162.7" cy="1190.7" r="4.85" fill="#ffbb3d"/><circle cx="1141.1" cy="1186.2" r="4.85" fill="#36268b"/><circle cx="1202.8" cy="1182.2" r="4.85" fill="#ffd400"/><circle cx="1212.6" cy="1182.3" r="4.85" fill="#2e3ab1"/><circle cx="1220.5" cy="1180.1" r="4.85" fill="#8cc06a"/><circle cx="1390.1" cy="1176.9" r="4.85" fill="#a9bf61"/><circle cx="1389.6" cy="1186" r="4.85" fill="#e5bc4d"/><circle cx="1393" cy="1192.6" r="4.85" fill="#8cc06a"/><circle cx="1403.1" cy="1190.2" r="4.85" fill="#ffd400"/><circle cx="1288.4" cy="1189" r="4.85" fill="#fedf00"/><circle cx="1296.3" cy="1194.3" r="4.85" fill="#008ad6"/><circle cx="1225.8" cy="1194" r="4.85" fill="#009ad4"/><circle cx="1238.2" cy="1192.3" r="4.85" fill="#00abc4"/><circle cx="1105.7" cy="1196.1" r="4.85" fill="#8cc06a"/><circle cx="1117.7" cy="1197.2" r="4.85" fill="#00abc4"/><circle cx="1347.8" cy="1193.8" r="4.85" fill="#36268b"/><circle cx="1355.9" cy="1200.2" r="4.85" fill="#00bc98"/><circle cx="1362.4" cy="1205.5" r="4.85" fill="#3333a4"/><circle cx="1343.3" cy="1205.9" r="4.85" fill="#36268b"/><circle cx="1375.6" cy="1191.9" r="4.85" fill="#00abc4"/><circle cx="1376.7" cy="1193" r="4.85" fill="#0082da"/><circle cx="1197" cy="1200.8" r="4.85" fill="#a9bf61"/><circle cx="1201.7" cy="1201.3" r="4.85" fill="#36268b"/><circle cx="1117.2" cy="1209" r="4.85" fill="#00be91"/><circle cx="1189.6" cy="1209.6" r="4.85" fill="#00ba9e"/><circle cx="1285.1" cy="1209.3" r="4.85" fill="#8cc06a"/><circle cx="1299.1" cy="1211.7" r="4.85" fill="#00abc4"/><circle cx="1119.9" cy="1217.9" r="4.85" fill="#36268b"/><circle cx="1158.2" cy="1215.2" r="4.85" fill="#36268b"/><circle cx="1157.5" cy="1220.2" r="4.85" fill="#0068e5"/><circle cx="1163.7" cy="1221.4" r="4.85" fill="#36268b"/><circle cx="1386.5" cy="1215.5" r="4.85" fill="#36268b"/><circle cx="1209.2" cy="1217.9" r="4.85" fill="#36268b"/><circle cx="1214.1" cy="1219.7" r="4.85" fill="#e5bc4d"/><circle cx="1197.4" cy="1222.2" r="4.85" fill="#008ad6"/><circle cx="1262.7" cy="1219.9" r="4.85" fill="#007ade"/><circle cx="1244.4" cy="1223.8" r="4.85" fill="#fbe500"/><circle cx="1321.3" cy="1218.2" r="4.85" fill="#ffbb3d"/><circle cx="1291.3" cy="1225.6" r="4.85" fill="#007ade"/><circle cx="1287.4" cy="1231.4" r="4.85" fill="#a9bf61"/><circle cx="1297.2" cy="1232.2" r="4.85" fill="#e5bc4d"/><circle cx="1115.2" cy="1228.9" r="4.85" fill="#36268b"/><circle cx="1156.7" cy="1227.5" r="4.85" fill="#a9bf61"/><circle cx="1157.1" cy="1232.3" r="4.85" fill="#36268b"/><circle cx="1168" cy="1228.9" r="4.85" fill="#a9bf61"/><circle cx="1225.8" cy="1228.1" r="4.85" fill="#36268b"/><circle cx="1214.9" cy="1235.1" r="4.85" fill="#0072e3"/><circle cx="1363.7" cy="1228.1" r="4.85" fill="#8cc06a"/><circle cx="1395.8" cy="1227.5" r="4.85" fill="#0063e5"/><circle cx="1192.1" cy="1238.2" r="4.85" fill="#ffbc35"/><circle cx="1307.6" cy="1238.5" r="4.85" fill="#ffd400"/><circle cx="1307" cy="1241.2" r="4.85" fill="#efbb48"/><circle cx="1322.7" cy="1238.7" r="4.85" fill="#00bc98"/><circle cx="1371.4" cy="1239.6" r="4.85" fill="#8cc06a"/><circle cx="1361.3" cy="1245.8" r="4.85" fill="#a9bf61"/><circle cx="1155.7" cy="1243" r="4.85" fill="#00b0bb"/><circle cx="1199.4" cy="1247.1" r="4.85" fill="#8cc06a"/><circle cx="1250.3" cy="1247.1" r="4.85" fill="#2e3ab1"/><circle cx="1274.4" cy="1248.2" r="4.85" fill="#008fd6"/><circle cx="1301.1" cy="1246.9" r="4.85" fill="#36268b"/><circle cx="1319.7" cy="1250.5" r="4.85" fill="#36268b"/><circle cx="1333.4" cy="1249.1" r="4.85" fill="#0068e5"/><circle cx="1105.7" cy="1251.6" r="4.85" fill="#36268b"/><circle cx="1117.5" cy="1247.4" r="4.85" fill="#8cc06a"/><circle cx="1129.2" cy="1251.6" r="4.85" fill="#0095d5"/><circle cx="1133.1" cy="1254.4" r="4.85" fill="#00c084"/><circle cx="1158.4" cy="1252.5" r="4.85" fill="#8cc06a"/><circle cx="1221.4" cy="1253.6" r="4.85" fill="#00bc98"/><circle cx="1216.1" cy="1257.5" r="4.85" fill="#008ad6"/><circle cx="1295" cy="1255.8" r="4.85" fill="#36268b"/><circle cx="1184.2" cy="1260.7" r="4.85" fill="#ffbc35"/><circle cx="1201.7" cy="1266" r="4.85" fill="#fedf00"/><circle cx="1363.4" cy="1261.4" r="4.85" fill="#00abc4"/><circle cx="1383.5" cy="1262.6" r="4.85" fill="#2e3ab1"/><circle cx="1275.2" cy="1268" r="4.85" fill="#00a8c9"/><circle cx="1348.6" cy="1267.9" r="4.85" fill="#e5bc4d"/><circle cx="1168.3" cy="1269" r="4.85" fill="#a9bf61"/><circle cx="1181.4" cy="1270.7" r="4.85" fill="#8cc06a"/><circle cx="1122.5" cy="1271.4" r="4.85" fill="#8cc06a"/><circle cx="1122.8" cy="1274.9" r="4.85" fill="#008ad6"/><circle cx="1131.1" cy="1278.4" r="4.85" fill="#dabc51"/><circle cx="1141.6" cy="1281.5" r="4.85" fill="#36268b"/><circle cx="1321.9" cy="1275.8" r="4.85" fill="#8cc06a"/><circle cx="1160.9" cy="1283.4" r="4.85" fill="#36268b"/><circle cx="1176.1" cy="1281.5" r="4.85" fill="#36268b"/><circle cx="1181.1" cy="1283.6" r="4.85" fill="#006de4"/><circle cx="1226.2" cy="1282.8" r="4.85" fill="#008fd6"/><circle cx="1254.3" cy="1285.3" r="4.85" fill="#e5bc4d"/><circle cx="1289.4" cy="1281.5" r="4.85" fill="#36268b"/><circle cx="1291.3" cy="1290.1" r="4.85" fill="#0063e5"/><circle cx="1294.1" cy="1287.3" r="4.85" fill="#fedf00"/><circle cx="1301.9" cy="1282.8" r="4.85" fill="#ffd400"/><circle cx="1108.9" cy="1289" r="4.85" fill="#00abc4"/><circle cx="1326.7" cy="1289.8" r="4.85" fill="#ffd900"/><circle cx="1200.5" cy="1289.9" r="4.85" fill="#36268b"/><circle cx="1135.2" cy="1293.5" r="4.85" fill="#c3be59"/><circle cx="1177.2" cy="1297.7" r="4.85" fill="#36268b"/><circle cx="1124.7" cy="1299.9" r="4.85" fill="#007ade"/><circle cx="1210.2" cy="1301.7" r="4.85" fill="#009ed2"/><circle cx="1208.7" cy="1303.3" r="4.85" fill="#0068e5"/><circle cx="1319.3" cy="1301.7" r="4.85" fill="#00ba9e"/><circle cx="1311.5" cy="1308.6" r="4.85" fill="#0072e3"/><circle cx="1370.2" cy="1304.8" r="4.85" fill="#c3be59"/><circle cx="1372.5" cy="1305.1" r="4.85" fill="#8cc06a"/><circle cx="1346.9" cy="1310.6" r="4.85" fill="#a9bf61"/><circle cx="1130.1" cy="1312.1" r="4.85" fill="#fedf00"/><circle cx="1167.4" cy="1311.7" r="4.85" fill="#ffd900"/><circle cx="1184" cy="1308.2" r="4.85" fill="#ffbb3d"/><circle cx="1185.9" cy="1319.7" r="4.85" fill="#36268b"/><circle cx="1240.8" cy="1321.9" r="4.85" fill="#36268b"/><circle cx="1376.2" cy="1325" r="4.85" fill="#a9bf61"/><circle cx="1383.2" cy="1332.8" r="4.85" fill="#00abc4"/><circle cx="1206.4" cy="1336.4" r="4.85" fill="#007ade"/><circle cx="1271.9" cy="1335.9" r="4.85" fill="#c3be59"/><circle cx="1305.4" cy="1340.2" r="4.85" fill="#0082da"/><circle cx="1346.3" cy="1340.1" r="4.85" fill="#fedf00"/><circle cx="1366.6" cy="1342.6" r="4.85" fill="#36268b"/><circle cx="1103.1" cy="1349.9" r="4.85" fill="#006de4"/><circle cx="1114.8" cy="1349.4" r="4.85" fill="#36268b"/><circle cx="1122.2" cy="1351" r="4.85" fill="#0063e5"/><circle cx="1150.6" cy="1350.6" r="4.85" fill="#00be91"/><circle cx="1165.4" cy="1349.9" r="4.85" fill="#007ade"/><circle cx="1219.3" cy="1347.2" r="4.85" fill="#36268b"/><circle cx="1237.1" cy="1353" r="4.85" fill="#00b0bb"/><circle cx="1242.1" cy="1355.3" r="4.85" fill="#00bc98"/><circle cx="1256.5" cy="1356.1" r="4.85" fill="#ffbc35"/><circle cx="1294.1" cy="1350.2" r="4.85" fill="#ffc02a"/><circle cx="1320.5" cy="1355.3" r="4.85" fill="#ffbc35"/><circle cx="1364.3" cy="1351.9" r="4.85" fill="#008ad6"/><circle cx="1385.7" cy="1353.3" r="4.85" fill="#36268b"/><circle cx="1475.8" cy="1154.2" r="4.85" fill="#9bc065"/><circle cx="1521.4" cy="1155.8" r="4.85" fill="#0068e5"/><circle cx="1579.3" cy="1152.7" r="4.85" fill="#00ba9e"/><circle cx="1604.2" cy="1157" r="4.85" fill="#00be91"/><circle cx="1601.4" cy="1154.5" r="4.85" fill="#8cc06a"/><circle cx="1566.5" cy="1162.3" r="4.85" fill="#ffd400"/><circle cx="1645.3" cy="1168.2" r="4.85" fill="#36268b"/><circle cx="1645.3" cy="1169" r="4.85" fill="#005be2"/><circle cx="1448.9" cy="1167.3" r="4.85" fill="#36268b"/><circle cx="1469.1" cy="1165.9" r="4.85" fill="#8cc06a"/><circle cx="1465.5" cy="1171.6" r="4.85" fill="#8cc06a"/><circle cx="1487.7" cy="1172.8" r="4.85" fill="#008ad6"/><circle cx="1430.7" cy="1176.4" r="4.85" fill="#0068e5"/><circle cx="1437.7" cy="1182.9" r="4.85" fill="#ffd400"/><circle cx="1527.6" cy="1181.1" r="4.85" fill="#ffbc35"/><circle cx="1537.7" cy="1188.7" r="4.85" fill="#efbb48"/><circle cx="1407" cy="1196.6" r="4.85" fill="#ffbb3d"/><circle cx="1436" cy="1194.9" r="4.85" fill="#ffbb3d"/><circle cx="1485.9" cy="1190.1" r="4.85" fill="#00bc98"/><circle cx="1495.8" cy="1196.1" r="4.85" fill="#00c084"/><circle cx="1510.2" cy="1198" r="4.85" fill="#00be91"/><circle cx="1519.7" cy="1195.8" r="4.85" fill="#008fd6"/><circle cx="1675.6" cy="1189.3" r="4.85" fill="#00b0bb"/><circle cx="1636" cy="1197.1" r="4.85" fill="#008fd6"/><circle cx="1589.4" cy="1203.9" r="4.85" fill="#36268b"/><circle cx="1586.3" cy="1199.2" r="4.85" fill="#00a8c9"/><circle cx="1603.3" cy="1202.5" r="4.85" fill="#e5bc4d"/><circle cx="1537.4" cy="1205.9" r="4.85" fill="#2e3ab1"/><circle cx="1544.4" cy="1203.9" r="4.85" fill="#008fd6"/><circle cx="1658.5" cy="1205.9" r="4.85" fill="#2e3ab1"/><circle cx="1449.4" cy="1208.1" r="4.85" fill="#00b0bb"/><circle cx="1454" cy="1213.2" r="4.85" fill="#00bc98"/><circle cx="1449.7" cy="1216" r="4.85" fill="#36268b"/><circle cx="1466.9" cy="1214.1" r="4.85" fill="#008fd6"/><circle cx="1571.1" cy="1209.3" r="4.85" fill="#8cc06a"/><circle cx="1578.6" cy="1212.9" r="4.85" fill="#a9bf61"/><circle cx="1590.1" cy="1211.7" r="4.85" fill="#009ad4"/><circle cx="1615.4" cy="1219.4" r="4.85" fill="#00b0bb"/><circle cx="1627.8" cy="1216" r="4.85" fill="#36268b"/><circle cx="1687.6" cy="1219.9" r="4.85" fill="#36268b"/><circle cx="1482.8" cy="1220" r="4.85" fill="#009ad4"/><circle cx="1497" cy="1221" r="4.85" fill="#00be91"/><circle cx="1482.1" cy="1228.1" r="4.85" fill="#8cc06a"/><circle cx="1412.4" cy="1224.7" r="4.85" fill="#29c07e"/><circle cx="1431.5" cy="1223.5" r="4.85" fill="#ffbc35"/><circle cx="1594.9" cy="1223.3" r="4.85" fill="#c3be59"/><circle cx="1587.6" cy="1224.1" r="4.85" fill="#008fd6"/><circle cx="1641.1" cy="1226.6" r="4.85" fill="#36268b"/><circle cx="1630.6" cy="1232" r="4.85" fill="#008fd6"/><circle cx="1549.5" cy="1231.2" r="4.85" fill="#00b0bb"/><circle cx="1562.1" cy="1230.3" r="4.85" fill="#00a8c9"/><circle cx="1576.1" cy="1233.6" r="4.85" fill="#a9bf61"/><circle cx="1524.2" cy="1235" r="4.85" fill="#008ad6"/><circle cx="1514.4" cy="1239" r="4.85" fill="#ffbc35"/><circle cx="1615.1" cy="1237.1" r="4.85" fill="#36268b"/><circle cx="1676.2" cy="1233.2" r="4.85" fill="#36268b"/><circle cx="1693.8" cy="1233.9" r="4.85" fill="#36268b"/><circle cx="1686.8" cy="1239.3" r="4.85" fill="#67c073"/><circle cx="1407.8" cy="1244.3" r="4.85" fill="#36268b"/><circle cx="1429.5" cy="1250" r="4.85" fill="#006de4"/><circle cx="1464.4" cy="1247.1" r="4.85" fill="#36268b"/><circle cx="1475" cy="1248.9" r="4.85" fill="#36268b"/><circle cx="1503" cy="1249.7" r="4.85" fill="#36268b"/><circle cx="1601.6" cy="1246" r="4.85" fill="#67c073"/><circle cx="1654.2" cy="1245.5" r="4.85" fill="#36268b"/><circle cx="1646.9" cy="1254.5" r="4.85" fill="#36268b"/><circle cx="1482.1" cy="1255.8" r="4.85" fill="#ffbc35"/><circle cx="1441.9" cy="1261" r="4.85" fill="#0068e5"/><circle cx="1485.1" cy="1265.2" r="4.85" fill="#dabc51"/><circle cx="1435.7" cy="1271.9" r="4.85" fill="#0052d8"/><circle cx="1441.5" cy="1272.5" r="4.85" fill="#36268b"/><circle cx="1529.7" cy="1272.5" r="4.85" fill="#00b0bb"/><circle cx="1541.8" cy="1273.2" r="4.85" fill="#36268b"/><circle cx="1548" cy="1275.6" r="4.85" fill="#008ad6"/><circle cx="1603" cy="1272.2" r="4.85" fill="#00be91"/><circle cx="1609.2" cy="1271.6" r="4.85" fill="#00b4b0"/><circle cx="1670.5" cy="1272.2" r="4.85" fill="#67c073"/><circle cx="1465.8" cy="1277.7" r="4.85" fill="#a9bf61"/><circle cx="1600.5" cy="1282.5" r="4.85" fill="#36268b"/><circle cx="1633.5" cy="1282.8" r="4.85" fill="#008ad6"/><circle cx="1649.2" cy="1282.8" r="4.85" fill="#fedf00"/><circle cx="1427" cy="1287.1" r="4.85" fill="#e5bc4d"/><circle cx="1464.4" cy="1287" r="4.85" fill="#36268b"/><circle cx="1458.7" cy="1285.9" r="4.85" fill="#008ad6"/><circle cx="1495.3" cy="1286.7" r="4.85" fill="#36268b"/><circle cx="1498.1" cy="1294.3" r="4.85" fill="#00be91"/><circle cx="1569.7" cy="1289.8" r="4.85" fill="#00be91"/><circle cx="1422.5" cy="1303.3" r="4.85" fill="#006de4"/><circle cx="1428.4" cy="1300.8" r="4.85" fill="#a9bf61"/><circle cx="1444.7" cy="1303.7" r="4.85" fill="#36268b"/><circle cx="1462.3" cy="1302.2" r="4.85" fill="#009ed2"/><circle cx="1547.7" cy="1303.4" r="4.85" fill="#009ad4"/><circle cx="1561.5" cy="1308.7" r="4.85" fill="#29c07e"/><circle cx="1563.8" cy="1311.4" r="4.85" fill="#4ec078"/><circle cx="1642.2" cy="1302" r="4.85" fill="#36268b"/><circle cx="1638.2" cy="1306.1" r="4.85" fill="#00bc98"/><circle cx="1687" cy="1298.3" r="4.85" fill="#36268b"/><circle cx="1673.6" cy="1303.3" r="4.85" fill="#c3be59"/><circle cx="1685.7" cy="1309.2" r="4.85" fill="#8cc06a"/><circle cx="1696.6" cy="1306.4" r="4.85" fill="#008fd6"/><circle cx="1493.5" cy="1306.4" r="4.85" fill="#00ba9e"/><circle cx="1471.7" cy="1310.7" r="4.85" fill="#ffd400"/><circle cx="1421.9" cy="1312.3" r="4.85" fill="#009ed2"/><circle cx="1439" cy="1312.9" r="4.85" fill="#009ed2"/><circle cx="1461.2" cy="1317.7" r="4.85" fill="#0749cb"/><circle cx="1469.4" cy="1323.5" r="4.85" fill="#8cc06a"/><circle cx="1471.3" cy="1332.2" r="4.85" fill="#ffbc35"/><circle cx="1499.7" cy="1325.6" r="4.85" fill="#67c073"/><circle cx="1539.8" cy="1323" r="4.85" fill="#00be91"/><circle cx="1537.9" cy="1334.8" r="4.85" fill="#00b0bb"/><circle cx="1537.4" cy="1328.6" r="4.85" fill="#36268b"/><circle cx="1436" cy="1330.9" r="4.85" fill="#00be91"/><circle cx="1443.2" cy="1338.2" r="4.85" fill="#009ed2"/><circle cx="1508.4" cy="1343" r="4.85" fill="#36268b"/><circle cx="1575.5" cy="1343.3" r="4.85" fill="#36268b"/><circle cx="1572" cy="1354.5" r="4.85" fill="#36268b"/><circle cx="1682.3" cy="1344.7" r="4.85" fill="#dabc51"/><circle cx="1630.7" cy="1353.3" r="4.85" fill="#0072e3"/><circle cx="1720.2" cy="1164" r="4.85" fill="#00bc98"/><circle cx="1923.1" cy="1165.5" r="4.85" fill="#fedf00"/><circle cx="1749.1" cy="1181.7" r="4.85" fill="#0068e5"/><circle cx="1803.7" cy="1178.6" r="4.85" fill="#ffbc35"/><circle cx="1853" cy="1174.1" r="4.85" fill="#008fd6"/><circle cx="1745.5" cy="1196.6" r="4.85" fill="#efbb48"/><circle cx="1740.8" cy="1198.5" r="4.85" fill="#007edc"/><circle cx="1805.3" cy="1205.9" r="4.85" fill="#352d97"/><circle cx="1909.2" cy="1203" r="4.85" fill="#36268b"/><circle cx="1765.1" cy="1228.3" r="4.85" fill="#36268b"/><circle cx="1707.8" cy="1233.7" r="4.85" fill="#00c084"/><circle cx="1714.8" cy="1237.8" r="4.85" fill="#00bc98"/><circle cx="1777.5" cy="1236.4" r="4.85" fill="#ffd400"/><circle cx="1754" cy="1238.7" r="4.85" fill="#ffd400"/><circle cx="1744.4" cy="1242.3" r="4.85" fill="#ffc02a"/><circle cx="1709.6" cy="1245.8" r="4.85" fill="#ffbb3d"/><circle cx="1710.1" cy="1253.1" r="4.85" fill="#8cc06a"/><circle cx="1722.2" cy="1255.6" r="4.85" fill="#0749cb"/><circle cx="1730.7" cy="1254.2" r="4.85" fill="#ffc02a"/><circle cx="1806.7" cy="1246.9" r="4.85" fill="#0082da"/><circle cx="1798.1" cy="1251.9" r="4.85" fill="#00b0bb"/><circle cx="1836.2" cy="1248.6" r="4.85" fill="#a9bf61"/><circle cx="1822.5" cy="1257.2" r="4.85" fill="#00b0bb"/><circle cx="1775.2" cy="1262" r="4.85" fill="#8cc06a"/><circle cx="1892.7" cy="1263.2" r="4.85" fill="#f9ec00"/><circle cx="1752.5" cy="1288.8" r="4.85" fill="#36268b"/><circle cx="1796.9" cy="1291.6" r="4.85" fill="#36268b"/><circle cx="1778.1" cy="1298.2" r="4.85" fill="#36268b"/><circle cx="1708.1" cy="1296" r="4.85" fill="#00bc98"/><circle cx="1731.1" cy="1299.1" r="4.85" fill="#00bc98"/><circle cx="1740.7" cy="1297.8" r="4.85" fill="#006de4"/><circle cx="1790.5" cy="1315.5" r="4.85" fill="#9bc065"/><circle cx="1751.7" cy="1325.6" r="4.85" fill="#008fd6"/><circle cx="1921.1" cy="1323.5" r="4.85" fill="#0082da"/><circle cx="1728.9" cy="1334.8" r="4.85" fill="#ffbc35"/><circle cx="1707" cy="1339" r="4.85" fill="#00be91"/><circle cx="1708.7" cy="1345.7" r="4.85" fill="#2e3ab1"/><circle cx="1920.7" cy="1343.7" r="4.85" fill="#8cc06a"/><circle cx="1727.2" cy="1356.1" r="4.85" fill="#36268b"/><circle cx="1779.7" cy="1353.7" r="4.85" fill="#0082da"/><circle cx="1927.6" cy="1355.3" r="4.85" fill="#00b8a4"/><circle cx="779.3" cy="1375.1" r="4.85" fill="#00be91"/><circle cx="789.4" cy="1393.1" r="4.85" fill="#007ade"/><circle cx="554" cy="1393.9" r="4.85" fill="#008fd6"/><circle cx="602.5" cy="1394" r="4.85" fill="#c3be59"/><circle cx="599.4" cy="1396.8" r="4.85" fill="#8cc06a"/><circle cx="660.2" cy="1400.2" r="4.85" fill="#f8f300"/><circle cx="516.8" cy="1415.6" r="4.85" fill="#36268b"/><circle cx="609.8" cy="1413.9" r="4.85" fill="#cebd55"/><circle cx="734.8" cy="1417.3" r="4.85" fill="#36268b"/><circle cx="803.4" cy="1422.4" r="4.85" fill="#0072e3"/><circle cx="669.9" cy="1432.4" r="4.85" fill="#00b0bb"/><circle cx="773.6" cy="1433.8" r="4.85" fill="#67c073"/><circle cx="605.7" cy="1444" r="4.85" fill="#008ad6"/><circle cx="693.6" cy="1450.5" r="4.85" fill="#008ad6"/><circle cx="676.9" cy="1455.4" r="4.85" fill="#a9bf61"/><circle cx="795.8" cy="1451.5" r="4.85" fill="#00bc98"/><circle cx="644.4" cy="1468.9" r="4.85" fill="#008ad6"/><circle cx="674.1" cy="1466.7" r="4.85" fill="#0082da"/><circle cx="762.1" cy="1476.2" r="4.85" fill="#8cc06a"/><circle cx="749.4" cy="1494.6" r="4.85" fill="#00a8c9"/><circle cx="782.9" cy="1494.2" r="4.85" fill="#36268b"/><circle cx="684" cy="1507.2" r="4.85" fill="#0068e5"/><circle cx="709.3" cy="1513.4" r="4.85" fill="#0068e5"/><circle cx="636" cy="1509.4" r="4.85" fill="#dabc51"/><circle cx="626.4" cy="1513" r="4.85" fill="#8cc06a"/><circle cx="652.3" cy="1515" r="4.85" fill="#67c073"/><circle cx="599.7" cy="1517" r="4.85" fill="#a9bf61"/><circle cx="754.2" cy="1516.4" r="4.85" fill="#00a8c9"/><circle cx="773.6" cy="1513.9" r="4.85" fill="#009ad4"/><circle cx="540.5" cy="1526.9" r="4.85" fill="#00b0bb"/><circle cx="714.1" cy="1532.5" r="4.85" fill="#0072e3"/><circle cx="739.8" cy="1533.5" r="4.85" fill="#00b4b0"/><circle cx="750.3" cy="1540.6" r="4.85" fill="#36268b"/><circle cx="777.2" cy="1541.7" r="4.85" fill="#36268b"/><circle cx="797.4" cy="1549" r="4.85" fill="#00abc4"/><circle cx="599.7" cy="1564.1" r="4.85" fill="#0072e3"/><circle cx="664.3" cy="1563.3" r="4.85" fill="#0082da"/><circle cx="681.7" cy="1562.3" r="4.85" fill="#00b8a4"/><circle cx="791.5" cy="1569.6" r="4.85" fill="#8cc06a"/><circle cx="1058.5" cy="1362.3" r="4.85" fill="#cebd55"/><circle cx="823.8" cy="1368.6" r="4.85" fill="#00b0bb"/><circle cx="903.1" cy="1366.9" r="4.85" fill="#fbe500"/><circle cx="936.6" cy="1367.3" r="4.85" fill="#ffd900"/><circle cx="931.7" cy="1364.5" r="4.85" fill="#36268b"/><circle cx="876.1" cy="1374" r="4.85" fill="#36268b"/><circle cx="878.4" cy="1379" r="4.85" fill="#f9ec00"/><circle cx="884.3" cy="1377.1" r="4.85" fill="#fedf00"/><circle cx="1088" cy="1375.9" r="4.85" fill="#c3be59"/><circle cx="1028.3" cy="1380.5" r="4.85" fill="#36268b"/><circle cx="1021.3" cy="1386.4" r="4.85" fill="#36268b"/><circle cx="1022.8" cy="1389.8" r="4.85" fill="#0063e5"/><circle cx="1028" cy="1389.8" r="4.85" fill="#36268b"/><circle cx="823" cy="1390.3" r="4.85" fill="#dabc51"/><circle cx="816.3" cy="1392.6" r="4.85" fill="#2e3ab1"/><circle cx="830.4" cy="1396.5" r="4.85" fill="#ffbb3d"/><circle cx="896" cy="1392.3" r="4.85" fill="#36268b"/><circle cx="919.9" cy="1389.1" r="4.85" fill="#00b0bb"/><circle cx="930.1" cy="1391.7" r="4.85" fill="#ffbc35"/><circle cx="990.7" cy="1388" r="4.85" fill="#8cc06a"/><circle cx="950.6" cy="1394.6" r="4.85" fill="#00ba9e"/><circle cx="957.1" cy="1396" r="4.85" fill="#009ed2"/><circle cx="1084.9" cy="1389.8" r="4.85" fill="#ffd900"/><circle cx="1094.3" cy="1389.1" r="4.85" fill="#008fd6"/><circle cx="911.2" cy="1403" r="4.85" fill="#0082da"/><circle cx="984.6" cy="1399.9" r="4.85" fill="#00be91"/><circle cx="1058.5" cy="1400.2" r="4.85" fill="#008ad6"/><circle cx="1087.6" cy="1401.2" r="4.85" fill="#c3be59"/><circle cx="1090.7" cy="1410" r="4.85" fill="#29c07e"/><circle cx="1087" cy="1417" r="4.85" fill="#f9bb43"/><circle cx="818.3" cy="1407.4" r="4.85" fill="#ffbb3d"/><circle cx="824.4" cy="1412.3" r="4.85" fill="#36268b"/><circle cx="841.1" cy="1411.9" r="4.85" fill="#36268b"/><circle cx="998.8" cy="1407.4" r="4.85" fill="#00be91"/><circle cx="1012.3" cy="1409.7" r="4.85" fill="#36268b"/><circle cx="1021.7" cy="1413.9" r="4.85" fill="#00b8a4"/><circle cx="972.4" cy="1413.3" r="4.85" fill="#00bc98"/><circle cx="954.2" cy="1417.6" r="4.85" fill="#fedf00"/><circle cx="926.4" cy="1421.7" r="4.85" fill="#00bc98"/><circle cx="995.2" cy="1425.4" r="4.85" fill="#008ad6"/><circle cx="1024.4" cy="1424" r="4.85" fill="#0063e5"/><circle cx="1045.3" cy="1428.3" r="4.85" fill="#36268b"/><circle cx="1042.7" cy="1425.5" r="4.85" fill="#efbb48"/><circle cx="1057.8" cy="1427.7" r="4.85" fill="#008fd6"/><circle cx="1066.3" cy="1423.7" r="4.85" fill="#8cc06a"/><circle cx="867.4" cy="1430.5" r="4.85" fill="#008ad6"/><circle cx="1006.5" cy="1433.3" r="4.85" fill="#00b2b6"/><circle cx="1007.1" cy="1439.5" r="4.85" fill="#00b0bb"/><circle cx="924.8" cy="1439.1" r="4.85" fill="#00b0bb"/><circle cx="818.5" cy="1444.5" r="4.85" fill="#00be91"/><circle cx="948.9" cy="1447.6" r="4.85" fill="#67c073"/><circle cx="1088.4" cy="1447.3" r="4.85" fill="#efbb48"/><circle cx="1102.3" cy="1447" r="4.85" fill="#00abc4"/><circle cx="865.7" cy="1452.1" r="4.85" fill="#ffbc35"/><circle cx="1029.3" cy="1453" r="4.85" fill="#36268b"/><circle cx="1095.8" cy="1455.8" r="4.85" fill="#006de4"/><circle cx="934.5" cy="1464.4" r="4.85" fill="#0072e3"/><circle cx="840.1" cy="1466.9" r="4.85" fill="#36268b"/><circle cx="972" cy="1468.4" r="4.85" fill="#ffd900"/><circle cx="1093.5" cy="1469" r="4.85" fill="#00abc4"/><circle cx="879.3" cy="1476.8" r="4.85" fill="#a9bf61"/><circle cx="908.2" cy="1477.1" r="4.85" fill="#00be91"/><circle cx="1009" cy="1476.2" r="4.85" fill="#00be91"/><circle cx="1046" cy="1474.1" r="4.85" fill="#00b0bb"/><circle cx="918.6" cy="1488.1" r="4.85" fill="#0082da"/><circle cx="968.3" cy="1487.7" r="4.85" fill="#36268b"/><circle cx="1058.5" cy="1488.6" r="4.85" fill="#f9bb43"/><circle cx="985.7" cy="1490.5" r="4.85" fill="#ffbc35"/><circle cx="990.4" cy="1498.2" r="4.85" fill="#0082da"/><circle cx="843" cy="1500.9" r="4.85" fill="#00b8a4"/><circle cx="844.1" cy="1495.1" r="4.85" fill="#36268b"/><circle cx="893.9" cy="1496.7" r="4.85" fill="#36268b"/><circle cx="1031.7" cy="1496.7" r="4.85" fill="#00b0bb"/><circle cx="1093.2" cy="1501.6" r="4.85" fill="#00b0bb"/><circle cx="964.1" cy="1503.7" r="4.85" fill="#36268b"/><circle cx="953.4" cy="1507.1" r="4.85" fill="#0072e3"/><circle cx="955.3" cy="1511" r="4.85" fill="#005be2"/><circle cx="1055.4" cy="1504.7" r="4.85" fill="#0052d8"/><circle cx="1050.5" cy="1510.2" r="4.85" fill="#0068e5"/><circle cx="1052.3" cy="1515.1" r="4.85" fill="#00b2b6"/><circle cx="1055.9" cy="1520.3" r="4.85" fill="#2e3ab1"/><circle cx="904.3" cy="1511.7" r="4.85" fill="#cebd55"/><circle cx="932.8" cy="1512.2" r="4.85" fill="#a9bf61"/><circle cx="998.8" cy="1510.2" r="4.85" fill="#8cc06a"/><circle cx="1003.9" cy="1512.5" r="4.85" fill="#00b0bb"/><circle cx="1023.3" cy="1512.5" r="4.85" fill="#00be91"/><circle cx="970.8" cy="1519.6" r="4.85" fill="#0072e3"/><circle cx="980.9" cy="1517.3" r="4.85" fill="#ffd400"/><circle cx="818.3" cy="1517.9" r="4.85" fill="#008fd6"/><circle cx="821.7" cy="1521.8" r="4.85" fill="#e5bc4d"/><circle cx="838.4" cy="1522" r="4.85" fill="#00ba9e"/><circle cx="1036.5" cy="1520.4" r="4.85" fill="#f9bb43"/><circle cx="1031.4" cy="1525.4" r="4.85" fill="#36268b"/><circle cx="908.7" cy="1528.2" r="4.85" fill="#36268b"/><circle cx="953.7" cy="1530" r="4.85" fill="#cebd55"/><circle cx="1098.9" cy="1527.3" r="4.85" fill="#2e3ab1"/><circle cx="980.6" cy="1536.6" r="4.85" fill="#36268b"/><circle cx="1058.5" cy="1534.4" r="4.85" fill="#0072e3"/><circle cx="858.5" cy="1536.1" r="4.85" fill="#8cc06a"/><circle cx="857.5" cy="1543.6" r="4.85" fill="#36268b"/><circle cx="861" cy="1544.8" r="4.85" fill="#008fd6"/><circle cx="815.2" cy="1542" r="4.85" fill="#36268b"/><circle cx="883.9" cy="1541.5" r="4.85" fill="#ffbc35"/><circle cx="921.4" cy="1540.3" r="4.85" fill="#00b4b0"/><circle cx="1088" cy="1539.2" r="4.85" fill="#a9bf61"/><circle cx="1021.1" cy="1542.5" r="4.85" fill="#8cc06a"/><circle cx="848.6" cy="1549.3" r="4.85" fill="#36268b"/><circle cx="814" cy="1553" r="4.85" fill="#00be91"/><circle cx="917.2" cy="1550.5" r="4.85" fill="#ffbb3d"/><circle cx="912.6" cy="1555.2" r="4.85" fill="#f9bb43"/><circle cx="996" cy="1547.8" r="4.85" fill="#00be91"/><circle cx="964.6" cy="1553.7" r="4.85" fill="#36268b"/><circle cx="981.4" cy="1554.4" r="4.85" fill="#36268b"/><circle cx="988.2" cy="1555.7" r="4.85" fill="#00be91"/><circle cx="1004.2" cy="1553.7" r="4.85" fill="#009ed2"/><circle cx="1003.9" cy="1558.3" r="4.85" fill="#36268b"/><circle cx="1018.2" cy="1557.5" r="4.85" fill="#8cc06a"/><circle cx="1021.3" cy="1559.9" r="4.85" fill="#00b0bb"/><circle cx="1030.9" cy="1557.1" r="4.85" fill="#36268b"/><circle cx="1032.1" cy="1561.4" r="4.85" fill="#008fd6"/><circle cx="1024.4" cy="1566.1" r="4.85" fill="#36268b"/><circle cx="1048.4" cy="1560.6" r="4.85" fill="#0068e5"/><circle cx="1056.2" cy="1562.2" r="4.85" fill="#008fd6"/><circle cx="1062.1" cy="1571.4" r="4.85" fill="#009ed2"/><circle cx="1069.1" cy="1557.5" r="4.85" fill="#f9bb43"/><circle cx="1071.7" cy="1564.2" r="4.85" fill="#fbe500"/><circle cx="906.5" cy="1561.7" r="4.85" fill="#a9bf61"/><circle cx="946.4" cy="1565.6" r="4.85" fill="#f9ec00"/><circle cx="1091.1" cy="1563" r="4.85" fill="#00be91"/><circle cx="1097.4" cy="1565.3" r="4.85" fill="#0068e5"/><circle cx="1145.5" cy="1366.5" r="4.85" fill="#8cc06a"/><circle cx="1197.2" cy="1369.8" r="4.85" fill="#36268b"/><circle cx="1214.4" cy="1367" r="4.85" fill="#4ec078"/><circle cx="1210.9" cy="1373.2" r="4.85" fill="#cebd55"/><circle cx="1345.3" cy="1369.8" r="4.85" fill="#00b2b6"/><circle cx="1382.3" cy="1369.8" r="4.85" fill="#00bc98"/><circle cx="1112.4" cy="1383.9" r="4.85" fill="#36268b"/><circle cx="1125.3" cy="1383.8" r="4.85" fill="#36268b"/><circle cx="1147.8" cy="1388" r="4.85" fill="#36268b"/><circle cx="1151.2" cy="1390.6" r="4.85" fill="#0068e5"/><circle cx="1160.2" cy="1387" r="4.85" fill="#ffc02a"/><circle cx="1168.3" cy="1390.9" r="4.85" fill="#00b0bb"/><circle cx="1165.2" cy="1392.5" r="4.85" fill="#36268b"/><circle cx="1261.2" cy="1382.5" r="4.85" fill="#00b2b6"/><circle cx="1267.9" cy="1390.6" r="4.85" fill="#008ad6"/><circle cx="1283.2" cy="1393.2" r="4.85" fill="#36268b"/><circle cx="1321.3" cy="1393.7" r="4.85" fill="#ffd900"/><circle cx="1320.5" cy="1388.3" r="4.85" fill="#8cc06a"/><circle cx="1366.3" cy="1390.3" r="4.85" fill="#fedf00"/><circle cx="1249.8" cy="1395.7" r="4.85" fill="#36268b"/><circle cx="1242.4" cy="1409.2" r="4.85" fill="#ffca0d"/><circle cx="1242.1" cy="1403.5" r="4.85" fill="#36268b"/><circle cx="1231.7" cy="1403" r="4.85" fill="#cebd55"/><circle cx="1280.9" cy="1402.3" r="4.85" fill="#36268b"/><circle cx="1288.5" cy="1400.2" r="4.85" fill="#00be91"/><circle cx="1125.6" cy="1400.2" r="4.85" fill="#ffbc35"/><circle cx="1133.2" cy="1400.5" r="4.85" fill="#67c073"/><circle cx="1153.3" cy="1402.7" r="4.85" fill="#36268b"/><circle cx="1391.5" cy="1403.8" r="4.85" fill="#36268b"/><circle cx="1188.8" cy="1412.3" r="4.85" fill="#ffbc35"/><circle cx="1217.4" cy="1410.3" r="4.85" fill="#00be91"/><circle cx="1368" cy="1420.1" r="4.85" fill="#2e3ab1"/><circle cx="1364" cy="1412.7" r="4.85" fill="#ffc02a"/><circle cx="1386.2" cy="1418.6" r="4.85" fill="#ffd900"/><circle cx="1387.3" cy="1422.1" r="4.85" fill="#36268b"/><circle cx="1380.3" cy="1425.1" r="4.85" fill="#a9bf61"/><circle cx="1191.3" cy="1421.4" r="4.85" fill="#67c073"/><circle cx="1188.5" cy="1427.9" r="4.85" fill="#29c07e"/><circle cx="1106.2" cy="1423.4" r="4.85" fill="#4ec078"/><circle cx="1139.1" cy="1424.9" r="4.85" fill="#00b0bb"/><circle cx="1355.3" cy="1429.9" r="4.85" fill="#00abc4"/><circle cx="1334.3" cy="1433.6" r="4.85" fill="#36268b"/><circle cx="1226.2" cy="1436" r="4.85" fill="#36268b"/><circle cx="1218.9" cy="1439.1" r="4.85" fill="#009ad4"/><circle cx="1386.5" cy="1440.3" r="4.85" fill="#ffd900"/><circle cx="1183.9" cy="1442.2" r="4.85" fill="#4ec078"/><circle cx="1176.7" cy="1444.6" r="4.85" fill="#8cc06a"/><circle cx="1189.3" cy="1445.6" r="4.85" fill="#ffca0d"/><circle cx="1402.3" cy="1444.2" r="4.85" fill="#36268b"/><circle cx="1168.8" cy="1453.3" r="4.85" fill="#67c073"/><circle cx="1286" cy="1453.7" r="4.85" fill="#8cc06a"/><circle cx="1344.1" cy="1451.9" r="4.85" fill="#8cc06a"/><circle cx="1144.4" cy="1458.2" r="4.85" fill="#36268b"/><circle cx="1123.6" cy="1465.6" r="4.85" fill="#36268b"/><circle cx="1156.1" cy="1467.2" r="4.85" fill="#00be91"/><circle cx="1104.2" cy="1467.6" r="4.85" fill="#00b2b6"/><circle cx="1357.8" cy="1463.3" r="4.85" fill="#009ed2"/><circle cx="1335.9" cy="1466.4" r="4.85" fill="#00c084"/><circle cx="1207.6" cy="1467.8" r="4.85" fill="#cebd55"/><circle cx="1196.9" cy="1475.2" r="4.85" fill="#ffbb3d"/><circle cx="1196" cy="1469.5" r="4.85" fill="#00abc4"/><circle cx="1301.6" cy="1470.9" r="4.85" fill="#009ad4"/><circle cx="1143.5" cy="1477.6" r="4.85" fill="#00bc98"/><circle cx="1219.7" cy="1482.2" r="4.85" fill="#36268b"/><circle cx="1220" cy="1476" r="4.85" fill="#4ec078"/><circle cx="1384.5" cy="1475.9" r="4.85" fill="#00bc98"/><circle cx="1121.6" cy="1483.5" r="4.85" fill="#ffbb3d"/><circle cx="1231.5" cy="1486.1" r="4.85" fill="#0068e5"/><circle cx="1320" cy="1484.9" r="4.85" fill="#00be91"/><circle cx="1329" cy="1488.4" r="4.85" fill="#00be91"/><circle cx="1173.9" cy="1491.7" r="4.85" fill="#009ad4"/><circle cx="1162.6" cy="1496.5" r="4.85" fill="#dabc51"/><circle cx="1189.1" cy="1495.4" r="4.85" fill="#c3be59"/><circle cx="1240.8" cy="1495.3" r="4.85" fill="#0749cb"/><circle cx="1115.5" cy="1493.9" r="4.85" fill="#36268b"/><circle cx="1366.5" cy="1496.5" r="4.85" fill="#00be91"/><circle cx="1338.4" cy="1497.8" r="4.85" fill="#00b0bb"/><circle cx="1338.5" cy="1500.4" r="4.85" fill="#007edc"/><circle cx="1325.9" cy="1502.1" r="4.85" fill="#36268b"/><circle cx="1135.2" cy="1502.6" r="4.85" fill="#00ba9e"/><circle cx="1106.5" cy="1505.2" r="4.85" fill="#0072e3"/><circle cx="1201.7" cy="1508.2" r="4.85" fill="#ffbb3d"/><circle cx="1195.5" cy="1514.4" r="4.85" fill="#36268b"/><circle cx="1349.8" cy="1508.2" r="4.85" fill="#8cc06a"/><circle cx="1313.5" cy="1517.2" r="4.85" fill="#0068e5"/><circle cx="1313" cy="1510.2" r="4.85" fill="#fbe500"/><circle cx="1165.4" cy="1519.6" r="4.85" fill="#36268b"/><circle cx="1113.5" cy="1521" r="4.85" fill="#36268b"/><circle cx="1117.9" cy="1523.1" r="4.85" fill="#36268b"/><circle cx="1336" cy="1521.7" r="4.85" fill="#36268b"/><circle cx="1357.8" cy="1519" r="4.85" fill="#67c073"/><circle cx="1362.9" cy="1520.3" r="4.85" fill="#36268b"/><circle cx="1254.5" cy="1521" r="4.85" fill="#a9bf61"/><circle cx="1257.1" cy="1522.9" r="4.85" fill="#8cc06a"/><circle cx="1270.8" cy="1524.1" r="4.85" fill="#8cc06a"/><circle cx="1396.6" cy="1522.6" r="4.85" fill="#ffd400"/><circle cx="1218.5" cy="1527.4" r="4.85" fill="#36268b"/><circle cx="1243.8" cy="1529.1" r="4.85" fill="#0749cb"/><circle cx="1259.2" cy="1533" r="4.85" fill="#cebd55"/><circle cx="1250.5" cy="1536.9" r="4.85" fill="#a9bf61"/><circle cx="1237.4" cy="1537.5" r="4.85" fill="#ffbc35"/><circle cx="1393.9" cy="1534.2" r="4.85" fill="#ffbb3d"/><circle cx="1171.4" cy="1537.8" r="4.85" fill="#c3be59"/><circle cx="1168.9" cy="1544.3" r="4.85" fill="#efbb48"/><circle cx="1192.9" cy="1540" r="4.85" fill="#0063e5"/><circle cx="1278.6" cy="1543.4" r="4.85" fill="#ffd400"/><circle cx="1273" cy="1547.8" r="4.85" fill="#00bc98"/><circle cx="1373.8" cy="1545.6" r="4.85" fill="#36268b"/><circle cx="1326.7" cy="1549.3" r="4.85" fill="#8cc06a"/><circle cx="1282.6" cy="1557.1" r="4.85" fill="#36268b"/><circle cx="1271.9" cy="1559.4" r="4.85" fill="#ffd400"/><circle cx="1309.5" cy="1556.3" r="4.85" fill="#ffbb3d"/><circle cx="1320.7" cy="1557.5" r="4.85" fill="#009ad4"/><circle cx="1342.7" cy="1559.1" r="4.85" fill="#ffbc35"/><circle cx="1387.7" cy="1558" r="4.85" fill="#ffbb3d"/><circle cx="1107.9" cy="1561" r="4.85" fill="#36268b"/><circle cx="1132.5" cy="1561" r="4.85" fill="#36268b"/><circle cx="1162.1" cy="1558.6" r="4.85" fill="#e5bc4d"/><circle cx="1171.1" cy="1561.4" r="4.85" fill="#36268b"/><circle cx="1247.5" cy="1562.5" r="4.85" fill="#00a8c9"/><circle cx="1332.9" cy="1565.3" r="4.85" fill="#e5bc4d"/><circle cx="1326.7" cy="1570.3" r="4.85" fill="#00b0bb"/><circle cx="1614.3" cy="1366.1" r="4.85" fill="#009ad4"/><circle cx="1680" cy="1365.3" r="4.85" fill="#f9bb43"/><circle cx="1688" cy="1375.1" r="4.85" fill="#0082da"/><circle cx="1620.5" cy="1377.9" r="4.85" fill="#a9bf61"/><circle cx="1658.2" cy="1381" r="4.85" fill="#0072e3"/><circle cx="1644.4" cy="1389.4" r="4.85" fill="#006de4"/><circle cx="1416.5" cy="1382.1" r="4.85" fill="#fedf00"/><circle cx="1408.2" cy="1389.5" r="4.85" fill="#36268b"/><circle cx="1466" cy="1384.7" r="4.85" fill="#36268b"/><circle cx="1446.1" cy="1392" r="4.85" fill="#2e3ab1"/><circle cx="1518.5" cy="1387" r="4.85" fill="#00be91"/><circle cx="1461" cy="1403.7" r="4.85" fill="#8cc06a"/><circle cx="1449.7" cy="1411.3" r="4.85" fill="#c3be59"/><circle cx="1478.7" cy="1411.3" r="4.85" fill="#36268b"/><circle cx="1568.5" cy="1405" r="4.85" fill="#0063e5"/><circle cx="1562.3" cy="1404.6" r="4.85" fill="#36268b"/><circle cx="1553.4" cy="1418.6" r="4.85" fill="#8cc06a"/><circle cx="1549.8" cy="1430.7" r="4.85" fill="#009ad4"/><circle cx="1555.6" cy="1427.1" r="4.85" fill="#36268b"/><circle cx="1565.4" cy="1434.2" r="4.85" fill="#ffbb3d"/><circle cx="1692.1" cy="1423.2" r="4.85" fill="#00be91"/><circle cx="1519.1" cy="1439.5" r="4.85" fill="#67c073"/><circle cx="1493.6" cy="1447" r="4.85" fill="#a9bf61"/><circle cx="1502.6" cy="1446.5" r="4.85" fill="#00b0bb"/><circle cx="1566.9" cy="1448.7" r="4.85" fill="#00b0bb"/><circle cx="1412.9" cy="1441.4" r="4.85" fill="#00c084"/><circle cx="1403.4" cy="1448.8" r="4.85" fill="#36268b"/><circle cx="1412.1" cy="1450.4" r="4.85" fill="#8cc06a"/><circle cx="1421.9" cy="1460" r="4.85" fill="#67c073"/><circle cx="1451.2" cy="1448.5" r="4.85" fill="#008fd6"/><circle cx="1454.3" cy="1454.6" r="4.85" fill="#008ad6"/><circle cx="1593.9" cy="1458.2" r="4.85" fill="#00b2b6"/><circle cx="1625.6" cy="1455.4" r="4.85" fill="#00be91"/><circle cx="1618.9" cy="1454.4" r="4.85" fill="#ffbb3d"/><circle cx="1689.9" cy="1460.8" r="4.85" fill="#0072e3"/><circle cx="1517.5" cy="1476.3" r="4.85" fill="#0072e3"/><circle cx="1517.5" cy="1482.5" r="4.85" fill="#36268b"/><circle cx="1507.1" cy="1481.1" r="4.85" fill="#cebd55"/><circle cx="1541.6" cy="1473.7" r="4.85" fill="#00abc4"/><circle cx="1550.8" cy="1474.6" r="4.85" fill="#36268b"/><circle cx="1535.6" cy="1481.8" r="4.85" fill="#8cc06a"/><circle cx="1540.5" cy="1485.3" r="4.85" fill="#cebd55"/><circle cx="1573.9" cy="1484.1" r="4.85" fill="#67c073"/><circle cx="1577" cy="1485" r="4.85" fill="#67c073"/><circle cx="1605.3" cy="1485.3" r="4.85" fill="#00a8c9"/><circle cx="1602.2" cy="1494.5" r="4.85" fill="#007ade"/><circle cx="1671" cy="1483" r="4.85" fill="#00b0bb"/><circle cx="1665.5" cy="1480.7" r="4.85" fill="#36268b"/><circle cx="1681.2" cy="1484.6" r="4.85" fill="#c3be59"/><circle cx="1697.4" cy="1481.4" r="4.85" fill="#00c084"/><circle cx="1507.5" cy="1497.8" r="4.85" fill="#f9bb43"/><circle cx="1687.9" cy="1496.8" r="4.85" fill="#ffd400"/><circle cx="1412.1" cy="1498.4" r="4.85" fill="#36268b"/><circle cx="1440.4" cy="1502.4" r="4.85" fill="#ffd400"/><circle cx="1465.5" cy="1508.6" r="4.85" fill="#36268b"/><circle cx="1658.7" cy="1513.7" r="4.85" fill="#8cc06a"/><circle cx="1666" cy="1512" r="4.85" fill="#a9bf61"/><circle cx="1417.1" cy="1518.2" r="4.85" fill="#008ad6"/><circle cx="1438" cy="1521.8" r="4.85" fill="#a9bf61"/><circle cx="1436.5" cy="1525.7" r="4.85" fill="#2e3ab1"/><circle cx="1601.2" cy="1518.1" r="4.85" fill="#36268b"/><circle cx="1536.2" cy="1521.5" r="4.85" fill="#00be91"/><circle cx="1542.4" cy="1528.3" r="4.85" fill="#00be91"/><circle cx="1555" cy="1523.1" r="4.85" fill="#8cc06a"/><circle cx="1574.7" cy="1521.5" r="4.85" fill="#67c073"/><circle cx="1403.1" cy="1530.4" r="4.85" fill="#67c073"/><circle cx="1537.9" cy="1540" r="4.85" fill="#f9bb43"/><circle cx="1559.9" cy="1542.3" r="4.85" fill="#36268b"/><circle cx="1563.8" cy="1543.6" r="4.85" fill="#67c073"/><circle cx="1500.8" cy="1543.6" r="4.85" fill="#ffd400"/><circle cx="1500.8" cy="1554.4" r="4.85" fill="#0072e3"/><circle cx="1625.6" cy="1540.5" r="4.85" fill="#a9bf61"/><circle cx="1683.9" cy="1539.1" r="4.85" fill="#00b0bb"/><circle cx="1664.8" cy="1543.2" r="4.85" fill="#c3be59"/><circle cx="1655.9" cy="1546.2" r="4.85" fill="#a9bf61"/><circle cx="1654.8" cy="1555.8" r="4.85" fill="#a9bf61"/><circle cx="1633.9" cy="1558.2" r="4.85" fill="#a9bf61"/><circle cx="1684.2" cy="1552.4" r="4.85" fill="#ffc02a"/><circle cx="1664.8" cy="1561.7" r="4.85" fill="#36268b"/><circle cx="1453.6" cy="1554.7" r="4.85" fill="#36268b"/><circle cx="1421.3" cy="1560.2" r="4.85" fill="#008ad6"/><circle cx="1403.4" cy="1565.3" r="4.85" fill="#cebd55"/><circle cx="1527.3" cy="1570.3" r="4.85" fill="#ffbc35"/><circle cx="1764.1" cy="1380" r="4.85" fill="#36268b"/><circle cx="1762.3" cy="1377.6" r="4.85" fill="#00ba9e"/><circle cx="1722.7" cy="1386.3" r="4.85" fill="#00be91"/><circle cx="1826.4" cy="1378.3" r="4.85" fill="#008ad6"/><circle cx="1758.7" cy="1412.2" r="4.85" fill="#ffbc35"/><circle cx="1922.4" cy="1434.2" r="4.85" fill="#00b0bb"/><circle cx="1741.1" cy="1441.9" r="4.85" fill="#00bc98"/><circle cx="1779.5" cy="1458.9" r="4.85" fill="#36268b"/><circle cx="1881.2" cy="1456.1" r="4.85" fill="#0068e5"/><circle cx="1718.2" cy="1466.5" r="4.85" fill="#007ade"/><circle cx="1795.2" cy="1468.7" r="4.85" fill="#00bc98"/><circle cx="1771" cy="1474.9" r="4.85" fill="#4ec078"/><circle cx="1787.9" cy="1477.6" r="4.85" fill="#36268b"/><circle cx="1802.3" cy="1482.5" r="4.85" fill="#007ade"/><circle cx="1818.8" cy="1480.4" r="4.85" fill="#a9bf61"/><circle cx="1830.4" cy="1481.3" r="4.85" fill="#0068e5"/><circle cx="1863.5" cy="1485.6" r="4.85" fill="#36268b"/><circle cx="1933.5" cy="1480.5" r="4.85" fill="#ffbb3d"/><circle cx="1754.3" cy="1493.2" r="4.85" fill="#36268b"/><circle cx="1738.7" cy="1505.2" r="4.85" fill="#ffbc35"/><circle cx="1715.5" cy="1514.1" r="4.85" fill="#ffbb3d"/><circle cx="1825.5" cy="1516.2" r="4.85" fill="#8cc06a"/><circle cx="1803" cy="1526" r="4.85" fill="#008ad6"/><circle cx="1934.5" cy="1529" r="4.85" fill="#ffd400"/><circle cx="1720.7" cy="1535.5" r="4.85" fill="#36268b"/><circle cx="1759.9" cy="1533.5" r="4.85" fill="#008ad6"/><circle cx="1784.9" cy="1550.2" r="4.85" fill="#008ad6"/><circle cx="1836.3" cy="1561" r="4.85" fill="#4ec078"/><circle cx="735.7" cy="1575.8" r="4.85" fill="#fedf00"/><circle cx="751.2" cy="1573.4" r="4.85" fill="#00ba9e"/><circle cx="771.7" cy="1572.7" r="4.85" fill="#dabc51"/><circle cx="778.4" cy="1573.4" r="4.85" fill="#cebd55"/><circle cx="767.9" cy="1578.9" r="4.85" fill="#4ec078"/><circle cx="798.1" cy="1577.3" r="4.85" fill="#00bc98"/><circle cx="596.3" cy="1583.1" r="4.85" fill="#a9bf61"/><circle cx="745.7" cy="1584" r="4.85" fill="#ffbc35"/><circle cx="759.3" cy="1591.8" r="4.85" fill="#00b0bb"/><circle cx="627" cy="1591" r="4.85" fill="#4ec078"/><circle cx="518.3" cy="1597.2" r="4.85" fill="#0068e5"/><circle cx="693.2" cy="1599.1" r="4.85" fill="#a9bf61"/><circle cx="521.4" cy="1609.6" r="4.85" fill="#ffbb3d"/><circle cx="545.7" cy="1609.9" r="4.85" fill="#0068e5"/><circle cx="639" cy="1609.9" r="4.85" fill="#0052d8"/><circle cx="679" cy="1611" r="4.85" fill="#67c073"/><circle cx="746.4" cy="1606.8" r="4.85" fill="#008ad6"/><circle cx="755" cy="1613.3" r="4.85" fill="#007ade"/><circle cx="744.6" cy="1618.8" r="4.85" fill="#36268b"/><circle cx="782.9" cy="1614.6" r="4.85" fill="#36268b"/><circle cx="802.3" cy="1614.3" r="4.85" fill="#00abc4"/><circle cx="570.5" cy="1620" r="4.85" fill="#4ec078"/><circle cx="667.5" cy="1620.5" r="4.85" fill="#ffd400"/><circle cx="613.7" cy="1628.6" r="4.85" fill="#00ba9e"/><circle cx="621.6" cy="1630.7" r="4.85" fill="#36268b"/><circle cx="592.5" cy="1633.7" r="4.85" fill="#36268b"/><circle cx="764.8" cy="1626.2" r="4.85" fill="#36268b"/><circle cx="528.1" cy="1635.1" r="4.85" fill="#36268b"/><circle cx="683.7" cy="1635.2" r="4.85" fill="#4ec078"/><circle cx="716.1" cy="1632.6" r="4.85" fill="#a9bf61"/><circle cx="513.2" cy="1639.9" r="4.85" fill="#00be91"/><circle cx="508.5" cy="1646.7" r="4.85" fill="#00be91"/><circle cx="516.8" cy="1647.5" r="4.85" fill="#00bc98"/><circle cx="557.5" cy="1644.4" r="4.85" fill="#00be91"/><circle cx="561.3" cy="1644.4" r="4.85" fill="#fedf00"/><circle cx="772" cy="1640.4" r="4.85" fill="#8cc06a"/><circle cx="793" cy="1645.6" r="4.85" fill="#36268b"/><circle cx="599.7" cy="1649.8" r="4.85" fill="#00abc4"/><circle cx="658.1" cy="1652.2" r="4.85" fill="#36268b"/><circle cx="632.3" cy="1655" r="4.85" fill="#36268b"/><circle cx="638" cy="1663.7" r="4.85" fill="#006de4"/><circle cx="506.7" cy="1655" r="4.85" fill="#fedf00"/><circle cx="523.3" cy="1660.9" r="4.85" fill="#ffd400"/><circle cx="682.5" cy="1656.5" r="4.85" fill="#ffbc35"/><circle cx="684" cy="1661.6" r="4.85" fill="#a9bf61"/><circle cx="696.6" cy="1654.3" r="4.85" fill="#ffbb3d"/><circle cx="725.6" cy="1659.3" r="4.85" fill="#36268b"/><circle cx="724.5" cy="1663.5" r="4.85" fill="#00bc98"/><circle cx="748.4" cy="1657.3" r="4.85" fill="#ffc02a"/><circle cx="784.9" cy="1651.9" r="4.85" fill="#4ec078"/><circle cx="784.5" cy="1656.5" r="4.85" fill="#00bc98"/><circle cx="782.3" cy="1662.7" r="4.85" fill="#ffbc35"/><circle cx="793.5" cy="1665" r="4.85" fill="#29c07e"/><circle cx="798.9" cy="1655" r="4.85" fill="#8cc06a"/><circle cx="568.9" cy="1668" r="4.85" fill="#00c084"/><circle cx="519.4" cy="1672.3" r="4.85" fill="#ffd400"/><circle cx="592.5" cy="1676.5" r="4.85" fill="#ffd900"/><circle cx="615.4" cy="1674.8" r="4.85" fill="#3333a4"/><circle cx="626.2" cy="1676.2" r="4.85" fill="#cebd55"/><circle cx="604.3" cy="1680.6" r="4.85" fill="#8cc06a"/><circle cx="607.1" cy="1679" r="4.85" fill="#cebd55"/><circle cx="609.5" cy="1684.5" r="4.85" fill="#008ad6"/><circle cx="613.7" cy="1691.4" r="4.85" fill="#cebd55"/><circle cx="636.6" cy="1682.6" r="4.85" fill="#ffbb3d"/><circle cx="690.4" cy="1678.9" r="4.85" fill="#c3be59"/><circle cx="507.3" cy="1680.3" r="4.85" fill="#36268b"/><circle cx="565.7" cy="1685.9" r="4.85" fill="#ffd400"/><circle cx="551.2" cy="1687.6" r="4.85" fill="#8cc06a"/><circle cx="558.7" cy="1690.2" r="4.85" fill="#67c073"/><circle cx="546.3" cy="1692.2" r="4.85" fill="#00be91"/><circle cx="582.3" cy="1687.6" r="4.85" fill="#67c073"/><circle cx="527.6" cy="1691.9" r="4.85" fill="#ffbc35"/><circle cx="536.6" cy="1696.3" r="4.85" fill="#008ad6"/><circle cx="522.2" cy="1700" r="4.85" fill="#ffd400"/><circle cx="578.4" cy="1697.5" r="4.85" fill="#008fd6"/><circle cx="720.5" cy="1687.6" r="4.85" fill="#cebd55"/><circle cx="670" cy="1694.1" r="4.85" fill="#00abc4"/><circle cx="691.3" cy="1693.8" r="4.85" fill="#008fd6"/><circle cx="701.1" cy="1700" r="4.85" fill="#006de4"/><circle cx="752" cy="1689.1" r="4.85" fill="#3333a4"/><circle cx="749.2" cy="1697.2" r="4.85" fill="#36268b"/><circle cx="736.5" cy="1696.9" r="4.85" fill="#cebd55"/><circle cx="732.9" cy="1703.4" r="4.85" fill="#36268b"/><circle cx="764" cy="1692.2" r="4.85" fill="#a9bf61"/><circle cx="761.6" cy="1695" r="4.85" fill="#00be91"/><circle cx="773" cy="1692.5" r="4.85" fill="#ffd900"/><circle cx="778.7" cy="1687.9" r="4.85" fill="#36268b"/><circle cx="770.5" cy="1700.9" r="4.85" fill="#a9bf61"/><circle cx="791.1" cy="1689.9" r="4.85" fill="#36268b"/><circle cx="796.6" cy="1686.8" r="4.85" fill="#36268b"/><circle cx="798.1" cy="1684.5" r="4.85" fill="#0063e5"/><circle cx="797.4" cy="1702.3" r="4.85" fill="#36268b"/><circle cx="709.6" cy="1701.5" r="4.85" fill="#00be91"/><circle cx="713" cy="1702.8" r="4.85" fill="#36268b"/><circle cx="719.3" cy="1708.5" r="4.85" fill="#cebd55"/><circle cx="636.8" cy="1709" r="4.85" fill="#36268b"/><circle cx="689.8" cy="1710.5" r="4.85" fill="#8cc06a"/><circle cx="671.9" cy="1714" r="4.85" fill="#0063e5"/><circle cx="671.9" cy="1714.3" r="4.85" fill="#352d97"/><circle cx="711" cy="1716.4" r="4.85" fill="#0063e5"/><circle cx="744.6" cy="1716.6" r="4.85" fill="#009ad4"/><circle cx="563.2" cy="1720.6" r="4.85" fill="#00b0bb"/><circle cx="576.9" cy="1718.3" r="4.85" fill="#a9bf61"/><circle cx="654.8" cy="1718.2" r="4.85" fill="#67c073"/><circle cx="633.2" cy="1722" r="4.85" fill="#00bc98"/><circle cx="680.4" cy="1720.5" r="4.85" fill="#ffd400"/><circle cx="694.9" cy="1724.5" r="4.85" fill="#0072e3"/><circle cx="789.6" cy="1716.8" r="4.85" fill="#29c07e"/><circle cx="780.1" cy="1725.3" r="4.85" fill="#009ed2"/><circle cx="537" cy="1727" r="4.85" fill="#ffbb3d"/><circle cx="549.2" cy="1731.4" r="4.85" fill="#8cc06a"/><circle cx="596.4" cy="1723.3" r="4.85" fill="#0068e5"/><circle cx="595.3" cy="1730.7" r="4.85" fill="#ffd900"/><circle cx="600.9" cy="1735.4" r="4.85" fill="#ffd400"/><circle cx="601.2" cy="1743" r="4.85" fill="#00ba9e"/><circle cx="664.1" cy="1733.2" r="4.85" fill="#ffbb3d"/><circle cx="655.3" cy="1741.4" r="4.85" fill="#36268b"/><circle cx="664.6" cy="1740.7" r="4.85" fill="#0063e5"/><circle cx="668" cy="1740" r="4.85" fill="#a9bf61"/><circle cx="758.4" cy="1734.6" r="4.85" fill="#ffbb3d"/><circle cx="793" cy="1733.5" r="4.85" fill="#ffc02a"/><circle cx="569.4" cy="1739.9" r="4.85" fill="#ffd400"/><circle cx="730" cy="1747" r="4.85" fill="#0072e3"/><circle cx="751.9" cy="1750.5" r="4.85" fill="#007ade"/><circle cx="764.4" cy="1744.7" r="4.85" fill="#a9bf61"/><circle cx="784.2" cy="1746.3" r="4.85" fill="#00bc98"/><circle cx="785.4" cy="1752" r="4.85" fill="#00b0bb"/><circle cx="514.8" cy="1754" r="4.85" fill="#ffd400"/><circle cx="525.3" cy="1754" r="4.85" fill="#ffd400"/><circle cx="580.6" cy="1752.8" r="4.85" fill="#36268b"/><circle cx="591.3" cy="1759.5" r="4.85" fill="#0068e5"/><circle cx="531.4" cy="1768.3" r="4.85" fill="#cebd55"/><circle cx="626.9" cy="1771" r="4.85" fill="#0068e5"/><circle cx="661.2" cy="1770.6" r="4.85" fill="#0072e3"/><circle cx="677.8" cy="1767.2" r="4.85" fill="#36268b"/><circle cx="606.4" cy="1776.1" r="4.85" fill="#36268b"/><circle cx="740.7" cy="1775.3" r="4.85" fill="#36268b"/><circle cx="774.1" cy="1767.5" r="4.85" fill="#2e3ab1"/><circle cx="769.9" cy="1772.2" r="4.85" fill="#00be91"/><circle cx="803.1" cy="1761.6" r="4.85" fill="#009ad4"/><circle cx="857" cy="1573" r="4.85" fill="#36268b"/><circle cx="842.2" cy="1576.5" r="4.85" fill="#00b0bb"/><circle cx="822.7" cy="1579.3" r="4.85" fill="#ffd900"/><circle cx="874.5" cy="1578.1" r="4.85" fill="#008ad6"/><circle cx="910.7" cy="1576.2" r="4.85" fill="#006de4"/><circle cx="932.5" cy="1575.3" r="4.85" fill="#0052d8"/><circle cx="944.4" cy="1575.5" r="4.85" fill="#dabc51"/><circle cx="974.5" cy="1578.1" r="4.85" fill="#00b4b0"/><circle cx="968.5" cy="1586.3" r="4.85" fill="#8cc06a"/><circle cx="972" cy="1584" r="4.85" fill="#cebd55"/><circle cx="992.2" cy="1580.1" r="4.85" fill="#ffd400"/><circle cx="1015.2" cy="1577.8" r="4.85" fill="#ffd400"/><circle cx="1024.4" cy="1577.3" r="4.85" fill="#00bc98"/><circle cx="1030.9" cy="1571.9" r="4.85" fill="#36268b"/><circle cx="1042.2" cy="1582.8" r="4.85" fill="#36268b"/><circle cx="1052.3" cy="1586.6" r="4.85" fill="#36268b"/><circle cx="1067.9" cy="1579.6" r="4.85" fill="#c3be59"/><circle cx="1086.2" cy="1576.5" r="4.85" fill="#ffbb3d"/><circle cx="1093.5" cy="1583.5" r="4.85" fill="#00a8c9"/><circle cx="876.9" cy="1589.7" r="4.85" fill="#00b0bb"/><circle cx="882.3" cy="1592.8" r="4.85" fill="#8cc06a"/><circle cx="880" cy="1596.4" r="4.85" fill="#00bc98"/><circle cx="829" cy="1600.1" r="4.85" fill="#c3be59"/><circle cx="862.3" cy="1599.4" r="4.85" fill="#8cc06a"/><circle cx="948" cy="1598.3" r="4.85" fill="#36268b"/><circle cx="975.6" cy="1595.2" r="4.85" fill="#36268b"/><circle cx="960.1" cy="1599.8" r="4.85" fill="#ffd900"/><circle cx="927" cy="1600.6" r="4.85" fill="#008ad6"/><circle cx="1007" cy="1592.1" r="4.85" fill="#36268b"/><circle cx="999.2" cy="1605.7" r="4.85" fill="#ffbb3d"/><circle cx="1003.1" cy="1601.4" r="4.85" fill="#007ade"/><circle cx="1050" cy="1592.8" r="4.85" fill="#36268b"/><circle cx="1046.9" cy="1596" r="4.85" fill="#36268b"/><circle cx="1046.1" cy="1602.9" r="4.85" fill="#36268b"/><circle cx="1041.5" cy="1607.3" r="4.85" fill="#36268b"/><circle cx="1048.4" cy="1613" r="4.85" fill="#36268b"/><circle cx="1054.7" cy="1618.9" r="4.85" fill="#2e3ab1"/><circle cx="1067.7" cy="1592.4" r="4.85" fill="#c3be59"/><circle cx="879.3" cy="1606.8" r="4.85" fill="#00bc98"/><circle cx="852" cy="1613" r="4.85" fill="#00bc98"/><circle cx="966.9" cy="1610.2" r="4.85" fill="#008ad6"/><circle cx="976.4" cy="1612.7" r="4.85" fill="#00ba9e"/><circle cx="1026.1" cy="1606.8" r="4.85" fill="#00ba9e"/><circle cx="865.2" cy="1618.5" r="4.85" fill="#009ad4"/><circle cx="925" cy="1616.9" r="4.85" fill="#00be91"/><circle cx="914.1" cy="1622.3" r="4.85" fill="#29c07e"/><circle cx="917.7" cy="1623.9" r="4.85" fill="#29c07e"/><circle cx="939.3" cy="1621.1" r="4.85" fill="#00bc98"/><circle cx="975.2" cy="1623.6" r="4.85" fill="#36268b"/><circle cx="818.6" cy="1628.6" r="4.85" fill="#29c07e"/><circle cx="870.7" cy="1628.6" r="4.85" fill="#009ad4"/><circle cx="883.1" cy="1629.5" r="4.85" fill="#00be91"/><circle cx="905.3" cy="1627.5" r="4.85" fill="#00be91"/><circle cx="919.3" cy="1631.7" r="4.85" fill="#36268b"/><circle cx="1014.3" cy="1629.3" r="4.85" fill="#ffbc35"/><circle cx="1040.4" cy="1625.1" r="4.85" fill="#008ad6"/><circle cx="1001.4" cy="1633.2" r="4.85" fill="#0072e3"/><circle cx="1093.2" cy="1627" r="4.85" fill="#a9bf61"/><circle cx="1102.3" cy="1624.7" r="4.85" fill="#36268b"/><circle cx="853.6" cy="1638.2" r="4.85" fill="#fedf00"/><circle cx="861.3" cy="1637.1" r="4.85" fill="#00bc98"/><circle cx="984.5" cy="1635.9" r="4.85" fill="#0072e3"/><circle cx="980.7" cy="1644.9" r="4.85" fill="#006de4"/><circle cx="1049.1" cy="1633.7" r="4.85" fill="#36268b"/><circle cx="1064.3" cy="1634.5" r="4.85" fill="#00be91"/><circle cx="928.1" cy="1642.2" r="4.85" fill="#ffbb3d"/><circle cx="923.8" cy="1647.2" r="4.85" fill="#a9bf61"/><circle cx="920.7" cy="1650.3" r="4.85" fill="#8cc06a"/><circle cx="1048.1" cy="1643" r="4.85" fill="#00b0bb"/><circle cx="1057" cy="1644.6" r="4.85" fill="#a9bf61"/><circle cx="1091.9" cy="1638.2" r="4.85" fill="#dabc51"/><circle cx="1098.1" cy="1637.9" r="4.85" fill="#0063e5"/><circle cx="1000.6" cy="1648" r="4.85" fill="#8cc06a"/><circle cx="1004.7" cy="1646.4" r="4.85" fill="#36268b"/><circle cx="1010.9" cy="1656.2" r="4.85" fill="#36268b"/><circle cx="1042.2" cy="1650.6" r="4.85" fill="#36268b"/><circle cx="941" cy="1653.7" r="4.85" fill="#36268b"/><circle cx="913.4" cy="1657" r="4.85" fill="#00b2b6"/><circle cx="810.4" cy="1657.3" r="4.85" fill="#008fd6"/><circle cx="838" cy="1658.5" r="4.85" fill="#36268b"/><circle cx="866.8" cy="1659.6" r="4.85" fill="#36268b"/><circle cx="881.7" cy="1664.7" r="4.85" fill="#fedf00"/><circle cx="882" cy="1658.5" r="4.85" fill="#00abc4"/><circle cx="991" cy="1657.8" r="4.85" fill="#ffd400"/><circle cx="1056.2" cy="1655.7" r="4.85" fill="#005be2"/><circle cx="1060.1" cy="1659.6" r="4.85" fill="#008ad6"/><circle cx="1098.1" cy="1648.7" r="4.85" fill="#008fd6"/><circle cx="843.2" cy="1666.6" r="4.85" fill="#36268b"/><circle cx="848.9" cy="1671.7" r="4.85" fill="#0068e5"/><circle cx="845" cy="1673.6" r="4.85" fill="#36268b"/><circle cx="835.4" cy="1672.8" r="4.85" fill="#67c073"/><circle cx="859.9" cy="1673.6" r="4.85" fill="#36268b"/><circle cx="870.7" cy="1677.2" r="4.85" fill="#00b2b6"/><circle cx="940.2" cy="1661.9" r="4.85" fill="#00b4b0"/><circle cx="933.5" cy="1667.8" r="4.85" fill="#00bc98"/><circle cx="948.3" cy="1664.3" r="4.85" fill="#00be91"/><circle cx="955.3" cy="1665.8" r="4.85" fill="#00be91"/><circle cx="952.2" cy="1670.5" r="4.85" fill="#00be91"/><circle cx="935.6" cy="1675.1" r="4.85" fill="#8cc06a"/><circle cx="946.4" cy="1675.9" r="4.85" fill="#36268b"/><circle cx="976.2" cy="1665.8" r="4.85" fill="#cebd55"/><circle cx="970.5" cy="1671.7" r="4.85" fill="#cebd55"/><circle cx="1001.1" cy="1672.8" r="4.85" fill="#f9ec00"/><circle cx="1015.1" cy="1675.9" r="4.85" fill="#a9bf61"/><circle cx="1036.8" cy="1666.3" r="4.85" fill="#29c07e"/><circle cx="1062.4" cy="1667.4" r="4.85" fill="#009ed2"/><circle cx="1043.8" cy="1672.8" r="4.85" fill="#36268b"/><circle cx="1048.4" cy="1670.5" r="4.85" fill="#36268b"/><circle cx="1055.4" cy="1671.7" r="4.85" fill="#0063e5"/><circle cx="892.4" cy="1677.2" r="4.85" fill="#ffbb3d"/><circle cx="902.5" cy="1676.7" r="4.85" fill="#0063e5"/><circle cx="906.4" cy="1677.5" r="4.85" fill="#36268b"/><circle cx="914.1" cy="1674.8" r="4.85" fill="#36268b"/><circle cx="816" cy="1677.5" r="4.85" fill="#36268b"/><circle cx="1024.4" cy="1679.2" r="4.85" fill="#008ad6"/><circle cx="972.4" cy="1680.6" r="4.85" fill="#00ba9e"/><circle cx="978.3" cy="1684.5" r="4.85" fill="#36268b"/><circle cx="979" cy="1691.4" r="4.85" fill="#36268b"/><circle cx="1001.4" cy="1681.4" r="4.85" fill="#00b8a4"/><circle cx="806.2" cy="1684.9" r="4.85" fill="#0072e3"/><circle cx="824.4" cy="1682.6" r="4.85" fill="#2e3ab1"/><circle cx="820.2" cy="1688.3" r="4.85" fill="#36268b"/><circle cx="856.2" cy="1683.7" r="4.85" fill="#ffd400"/><circle cx="862.9" cy="1684.5" r="4.85" fill="#cebd55"/><circle cx="845.8" cy="1687.3" r="4.85" fill="#36268b"/><circle cx="866.8" cy="1688.3" r="4.85" fill="#36268b"/><circle cx="866.5" cy="1689.1" r="4.85" fill="#00b0bb"/><circle cx="881.8" cy="1686.6" r="4.85" fill="#ffbb3d"/><circle cx="905.6" cy="1684.8" r="4.85" fill="#a9bf61"/><circle cx="916.9" cy="1683.1" r="4.85" fill="#ffbb3d"/><circle cx="933.5" cy="1685.5" r="4.85" fill="#0072e3"/><circle cx="1060.9" cy="1681.8" r="4.85" fill="#009ad4"/><circle cx="1065.8" cy="1688.3" r="4.85" fill="#4ec078"/><circle cx="1038.7" cy="1688.3" r="4.85" fill="#a9bf61"/><circle cx="1042.7" cy="1693" r="4.85" fill="#36268b"/><circle cx="1093" cy="1685.2" r="4.85" fill="#00b2b6"/><circle cx="1084.9" cy="1689.9" r="4.85" fill="#ffc02a"/><circle cx="1102.3" cy="1687.9" r="4.85" fill="#36268b"/><circle cx="834.2" cy="1691.1" r="4.85" fill="#00abc4"/><circle cx="808.9" cy="1694.6" r="4.85" fill="#00abc4"/><circle cx="816.3" cy="1694.6" r="4.85" fill="#007ade"/><circle cx="822.8" cy="1694.1" r="4.85" fill="#006de4"/><circle cx="851.2" cy="1693.2" r="4.85" fill="#67c073"/><circle cx="857.8" cy="1696.4" r="4.85" fill="#008ad6"/><circle cx="866.5" cy="1697.7" r="4.85" fill="#36268b"/><circle cx="996.4" cy="1692.1" r="4.85" fill="#008ad6"/><circle cx="1006.5" cy="1691.4" r="4.85" fill="#2e3ab1"/><circle cx="1009.9" cy="1692.2" r="4.85" fill="#67c073"/><circle cx="1069.1" cy="1695" r="4.85" fill="#ffbb3d"/><circle cx="921.6" cy="1698.1" r="4.85" fill="#a9bf61"/><circle cx="963.4" cy="1705.4" r="4.85" fill="#29c07e"/><circle cx="963" cy="1700" r="4.85" fill="#36268b"/><circle cx="934.8" cy="1705.1" r="4.85" fill="#67c073"/><circle cx="1003.1" cy="1700" r="4.85" fill="#4ec078"/><circle cx="1023.6" cy="1701.2" r="4.85" fill="#67c073"/><circle cx="1042.7" cy="1701.2" r="4.85" fill="#36268b"/><circle cx="815.5" cy="1705.4" r="4.85" fill="#0052d8"/><circle cx="1085.7" cy="1697.7" r="4.85" fill="#ffbc35"/><circle cx="1094.3" cy="1700.8" r="4.85" fill="#009ad4"/><circle cx="1085.7" cy="1707" r="4.85" fill="#ffca0d"/><circle cx="831.1" cy="1709.6" r="4.85" fill="#ffd900"/><circle cx="840.1" cy="1711.9" r="4.85" fill="#36268b"/><circle cx="840.4" cy="1721.4" r="4.85" fill="#36268b"/><circle cx="907.6" cy="1715.5" r="4.85" fill="#0063e5"/><circle cx="905.3" cy="1712.4" r="4.85" fill="#36268b"/><circle cx="942.1" cy="1713.2" r="4.85" fill="#29c07e"/><circle cx="947.2" cy="1721.7" r="4.85" fill="#36268b"/><circle cx="966.1" cy="1715" r="4.85" fill="#00be91"/><circle cx="1023.8" cy="1713.2" r="4.85" fill="#00be91"/><circle cx="1001.9" cy="1716.3" r="4.85" fill="#ffd400"/><circle cx="989.8" cy="1720.2" r="4.85" fill="#008fd6"/><circle cx="996.7" cy="1724.8" r="4.85" fill="#ffd900"/><circle cx="1048.9" cy="1717.8" r="4.85" fill="#36268b"/><circle cx="1051.9" cy="1716" r="4.85" fill="#ffbb3d"/><circle cx="1035.9" cy="1721.7" r="4.85" fill="#c3be59"/><circle cx="1089.1" cy="1721" r="4.85" fill="#8cc06a"/><circle cx="1093.5" cy="1728.7" r="4.85" fill="#4ec078"/><circle cx="814.8" cy="1730.3" r="4.85" fill="#00b2b6"/><circle cx="916.8" cy="1724.4" r="4.85" fill="#67c073"/><circle cx="910.6" cy="1731.4" r="4.85" fill="#008ad6"/><circle cx="936.6" cy="1729" r="4.85" fill="#00be91"/><circle cx="957.3" cy="1732.6" r="4.85" fill="#ffbb3d"/><circle cx="953.4" cy="1735.4" r="4.85" fill="#008ad6"/><circle cx="952.2" cy="1738.8" r="4.85" fill="#67c073"/><circle cx="976.4" cy="1732.3" r="4.85" fill="#36268b"/><circle cx="987.6" cy="1731.4" r="4.85" fill="#008fd6"/><circle cx="990.2" cy="1736.9" r="4.85" fill="#8cc06a"/><circle cx="987.1" cy="1742.7" r="4.85" fill="#008ad6"/><circle cx="1016.1" cy="1728.4" r="4.85" fill="#ffbb3d"/><circle cx="1055.1" cy="1727.9" r="4.85" fill="#2e3ab1"/><circle cx="854.3" cy="1742.2" r="4.85" fill="#36268b"/><circle cx="859.8" cy="1737.6" r="4.85" fill="#ffd400"/><circle cx="1009.2" cy="1740.8" r="4.85" fill="#36268b"/><circle cx="1025" cy="1740" r="4.85" fill="#67c073"/><circle cx="1098.1" cy="1741.1" r="4.85" fill="#0072e3"/><circle cx="894.9" cy="1743.2" r="4.85" fill="#36268b"/><circle cx="909.6" cy="1743.5" r="4.85" fill="#ffd400"/><circle cx="930.4" cy="1743.2" r="4.85" fill="#dabc51"/><circle cx="943.8" cy="1748.4" r="4.85" fill="#36268b"/><circle cx="862" cy="1753.2" r="4.85" fill="#2e3ab1"/><circle cx="983.2" cy="1751.5" r="4.85" fill="#0082da"/><circle cx="972.7" cy="1752" r="4.85" fill="#cebd55"/><circle cx="970.5" cy="1755.9" r="4.85" fill="#36268b"/><circle cx="964.3" cy="1755.6" r="4.85" fill="#ffd900"/><circle cx="1029.3" cy="1752.5" r="4.85" fill="#36268b"/><circle cx="1028.3" cy="1760.5" r="4.85" fill="#36268b"/><circle cx="898.3" cy="1760.5" r="4.85" fill="#00be91"/><circle cx="896.3" cy="1770.2" r="4.85" fill="#00b0bb"/><circle cx="965.7" cy="1762.6" r="4.85" fill="#36268b"/><circle cx="968.9" cy="1773" r="4.85" fill="#36268b"/><circle cx="996.4" cy="1766.4" r="4.85" fill="#2e3ab1"/><circle cx="997.2" cy="1773.7" r="4.85" fill="#00b2b6"/><circle cx="1065.5" cy="1760.2" r="4.85" fill="#29c07e"/><circle cx="1069.7" cy="1768.3" r="4.85" fill="#ffc02a"/><circle cx="1058.1" cy="1769.9" r="4.85" fill="#007ade"/><circle cx="1045.3" cy="1775.3" r="4.85" fill="#008ad6"/><circle cx="1085.2" cy="1757.8" r="4.85" fill="#ffd400"/><circle cx="859.6" cy="1769.1" r="4.85" fill="#c3be59"/><circle cx="813.2" cy="1774.1" r="4.85" fill="#36268b"/><circle cx="824.1" cy="1775" r="4.85" fill="#ffbb3d"/><circle cx="869.4" cy="1776.1" r="4.85" fill="#8cc06a"/><circle cx="876.1" cy="1779.6" r="4.85" fill="#00bc98"/><circle cx="884.6" cy="1780.3" r="4.85" fill="#00b0bb"/><circle cx="913.4" cy="1779.6" r="4.85" fill="#36268b"/><circle cx="943.6" cy="1776.1" r="4.85" fill="#0068e5"/><circle cx="1120.7" cy="1575.3" r="4.85" fill="#36268b"/><circle cx="1136.8" cy="1580.1" r="4.85" fill="#36268b"/><circle cx="1162.1" cy="1574.2" r="4.85" fill="#0068e5"/><circle cx="1159.6" cy="1583.8" r="4.85" fill="#00ba9e"/><circle cx="1207" cy="1576.2" r="4.85" fill="#ffd900"/><circle cx="1270.3" cy="1573.4" r="4.85" fill="#36268b"/><circle cx="1392.2" cy="1573.4" r="4.85" fill="#8cc06a"/><circle cx="1209.6" cy="1586.9" r="4.85" fill="#00b4b0"/><circle cx="1241.8" cy="1592.1" r="4.85" fill="#36268b"/><circle cx="1354" cy="1586.6" r="4.85" fill="#009ad4"/><circle cx="1394.3" cy="1588.7" r="4.85" fill="#0072e3"/><circle cx="1281.1" cy="1597.2" r="4.85" fill="#ffbc35"/><circle cx="1293.8" cy="1604.6" r="4.85" fill="#cebd55"/><circle cx="1355.4" cy="1597.5" r="4.85" fill="#009ad4"/><circle cx="1351.6" cy="1605.7" r="4.85" fill="#36268b"/><circle cx="1107" cy="1601.1" r="4.85" fill="#36268b"/><circle cx="1118.3" cy="1607.6" r="4.85" fill="#00b2b6"/><circle cx="1145.8" cy="1604" r="4.85" fill="#36268b"/><circle cx="1137.3" cy="1608.4" r="4.85" fill="#00b8a4"/><circle cx="1130.7" cy="1613" r="4.85" fill="#36268b"/><circle cx="1141.1" cy="1618" r="4.85" fill="#008ad6"/><circle cx="1138.5" cy="1616.6" r="4.85" fill="#36268b"/><circle cx="1107" cy="1611.9" r="4.85" fill="#36268b"/><circle cx="1197.2" cy="1603.2" r="4.85" fill="#00b2b6"/><circle cx="1212.6" cy="1602.5" r="4.85" fill="#00a8c9"/><circle cx="1224.5" cy="1608.2" r="4.85" fill="#8cc06a"/><circle cx="1238.5" cy="1613.5" r="4.85" fill="#ffbb3d"/><circle cx="1195" cy="1614.6" r="4.85" fill="#36268b"/><circle cx="1280.1" cy="1609" r="4.85" fill="#008ad6"/><circle cx="1288.2" cy="1612.3" r="4.85" fill="#00b4b0"/><circle cx="1367.4" cy="1616" r="4.85" fill="#4ec078"/><circle cx="1393.5" cy="1617.7" r="4.85" fill="#00ba9e"/><circle cx="1398.9" cy="1619.2" r="4.85" fill="#00abc4"/><circle cx="1230.4" cy="1630.6" r="4.85" fill="#0063e5"/><circle cx="1230.4" cy="1623.1" r="4.85" fill="#f9ec00"/><circle cx="1240.2" cy="1636.2" r="4.85" fill="#36268b"/><circle cx="1289.3" cy="1622.5" r="4.85" fill="#dabc51"/><circle cx="1300.5" cy="1623.1" r="4.85" fill="#0063e5"/><circle cx="1309" cy="1620.5" r="4.85" fill="#67c073"/><circle cx="1331.4" cy="1625.5" r="4.85" fill="#a9bf61"/><circle cx="1331.4" cy="1618.5" r="4.85" fill="#00be91"/><circle cx="1340.4" cy="1630.6" r="4.85" fill="#007ade"/><circle cx="1387.7" cy="1625.8" r="4.85" fill="#ffd900"/><circle cx="1170.2" cy="1627.6" r="4.85" fill="#36268b"/><circle cx="1192.2" cy="1630.7" r="4.85" fill="#00b8a4"/><circle cx="1102.3" cy="1637.1" r="4.85" fill="#009ad4"/><circle cx="1115.1" cy="1637.1" r="4.85" fill="#36268b"/><circle cx="1279.3" cy="1647.5" r="4.85" fill="#36268b"/><circle cx="1113.2" cy="1648" r="4.85" fill="#36268b"/><circle cx="1122.8" cy="1648" r="4.85" fill="#00b2b6"/><circle cx="1109.6" cy="1657.8" r="4.85" fill="#a9bf61"/><circle cx="1115.5" cy="1652.6" r="4.85" fill="#36268b"/><circle cx="1119.4" cy="1654.2" r="4.85" fill="#36268b"/><circle cx="1144.4" cy="1649.8" r="4.85" fill="#007ade"/><circle cx="1162.9" cy="1649.1" r="4.85" fill="#fedf00"/><circle cx="1214.4" cy="1663.5" r="4.85" fill="#36268b"/><circle cx="1214.4" cy="1655.9" r="4.85" fill="#00b4b0"/><circle cx="1188" cy="1659.9" r="4.85" fill="#00abc4"/><circle cx="1182.6" cy="1663" r="4.85" fill="#00b2b6"/><circle cx="1380" cy="1659.6" r="4.85" fill="#67c073"/><circle cx="1398.9" cy="1657.3" r="4.85" fill="#8cc06a"/><circle cx="1153.6" cy="1668.2" r="4.85" fill="#36268b"/><circle cx="1150.5" cy="1665.4" r="4.85" fill="#fedf00"/><circle cx="1297.2" cy="1666.3" r="4.85" fill="#36268b"/><circle cx="1305.4" cy="1675.9" r="4.85" fill="#36268b"/><circle cx="1272.4" cy="1674.1" r="4.85" fill="#36268b"/><circle cx="1356.7" cy="1666.9" r="4.85" fill="#00be91"/><circle cx="1367.4" cy="1675.1" r="4.85" fill="#0063e5"/><circle cx="1369.4" cy="1669.7" r="4.85" fill="#36268b"/><circle cx="1339.3" cy="1673.1" r="4.85" fill="#007ade"/><circle cx="1111.2" cy="1673.9" r="4.85" fill="#36268b"/><circle cx="1125.9" cy="1673.1" r="4.85" fill="#ffbc35"/><circle cx="1103.1" cy="1678.2" r="4.85" fill="#29c07e"/><circle cx="1150.5" cy="1679.5" r="4.85" fill="#00ba9e"/><circle cx="1148.1" cy="1677.6" r="4.85" fill="#a9bf61"/><circle cx="1174.1" cy="1677.5" r="4.85" fill="#8cc06a"/><circle cx="1233.5" cy="1684.8" r="4.85" fill="#006de4"/><circle cx="1237.9" cy="1688.3" r="4.85" fill="#a9bf61"/><circle cx="1239" cy="1692.2" r="4.85" fill="#36268b"/><circle cx="1231.5" cy="1696.6" r="4.85" fill="#36268b"/><circle cx="1254.2" cy="1684.8" r="4.85" fill="#36268b"/><circle cx="1252.5" cy="1691.1" r="4.85" fill="#00be91"/><circle cx="1212.6" cy="1688.3" r="4.85" fill="#36268b"/><circle cx="1292.2" cy="1685.7" r="4.85" fill="#36268b"/><circle cx="1346.4" cy="1684.9" r="4.85" fill="#36268b"/><circle cx="1352.3" cy="1683.4" r="4.85" fill="#0082da"/><circle cx="1356.4" cy="1694.2" r="4.85" fill="#0052d8"/><circle cx="1371" cy="1693.2" r="4.85" fill="#29c07e"/><circle cx="1127.2" cy="1687.6" r="4.85" fill="#c3be59"/><circle cx="1128" cy="1689.9" r="4.85" fill="#dabc51"/><circle cx="1164" cy="1691.8" r="4.85" fill="#36268b"/><circle cx="1178.4" cy="1694.7" r="4.85" fill="#36268b"/><circle cx="1158.1" cy="1696.9" r="4.85" fill="#8cc06a"/><circle cx="1189.3" cy="1696.1" r="4.85" fill="#ffca0d"/><circle cx="1115.2" cy="1698.1" r="4.85" fill="#36268b"/><circle cx="1110.1" cy="1701.9" r="4.85" fill="#dabc51"/><circle cx="1129.5" cy="1698.7" r="4.85" fill="#ffbb3d"/><circle cx="1120.2" cy="1707.3" r="4.85" fill="#007ade"/><circle cx="1165.5" cy="1703.1" r="4.85" fill="#0072e3"/><circle cx="1173.4" cy="1702.5" r="4.85" fill="#00abc4"/><circle cx="1220.7" cy="1699.5" r="4.85" fill="#ffbb3d"/><circle cx="1280.6" cy="1695.2" r="4.85" fill="#a9bf61"/><circle cx="1332" cy="1701.5" r="4.85" fill="#cebd55"/><circle cx="1378" cy="1700.8" r="4.85" fill="#36268b"/><circle cx="1389.1" cy="1700.9" r="4.85" fill="#006de4"/><circle cx="1390.4" cy="1708.8" r="4.85" fill="#a9bf61"/><circle cx="1117.9" cy="1714.7" r="4.85" fill="#29c07e"/><circle cx="1126.9" cy="1715.2" r="4.85" fill="#36268b"/><circle cx="1107.8" cy="1720.8" r="4.85" fill="#36268b"/><circle cx="1157.9" cy="1717.5" r="4.85" fill="#dabc51"/><circle cx="1183.9" cy="1719.1" r="4.85" fill="#ffbb3d"/><circle cx="1255.9" cy="1710.9" r="4.85" fill="#00b0bb"/><circle cx="1296.7" cy="1709.1" r="4.85" fill="#00b8a4"/><circle cx="1360.7" cy="1715.7" r="4.85" fill="#009ad4"/><circle cx="1215.2" cy="1722.2" r="4.85" fill="#c3be59"/><circle cx="1219.3" cy="1718.6" r="4.85" fill="#00be91"/><circle cx="1233.2" cy="1722" r="4.85" fill="#c3be59"/><circle cx="1205.9" cy="1729" r="4.85" fill="#00b0bb"/><circle cx="1310.4" cy="1727.2" r="4.85" fill="#36268b"/><circle cx="1316.1" cy="1739.1" r="4.85" fill="#8cc06a"/><circle cx="1315.8" cy="1732.6" r="4.85" fill="#00be91"/><circle cx="1114.9" cy="1734.3" r="4.85" fill="#36268b"/><circle cx="1126.2" cy="1735.9" r="4.85" fill="#c3be59"/><circle cx="1158.1" cy="1741.9" r="4.85" fill="#2e3ab1"/><circle cx="1172" cy="1744.6" r="4.85" fill="#8cc06a"/><circle cx="1112.4" cy="1747.3" r="4.85" fill="#00b8a4"/><circle cx="1214.8" cy="1746.3" r="4.85" fill="#ffbb3d"/><circle cx="1198.8" cy="1750.1" r="4.85" fill="#8cc06a"/><circle cx="1133.9" cy="1760.7" r="4.85" fill="#f9bb43"/><circle cx="1351.6" cy="1757.1" r="4.85" fill="#67c073"/><circle cx="1354.2" cy="1762.1" r="4.85" fill="#a9bf61"/><circle cx="1361.8" cy="1759" r="4.85" fill="#ffbb3d"/><circle cx="1380" cy="1755.1" r="4.85" fill="#ffbc35"/><circle cx="1398.1" cy="1758.2" r="4.85" fill="#00bc98"/><circle cx="1167.7" cy="1768.3" r="4.85" fill="#00abc4"/><circle cx="1179.2" cy="1772.3" r="4.85" fill="#36268b"/><circle cx="1204" cy="1765.2" r="4.85" fill="#008ad6"/><circle cx="1203.3" cy="1774.5" r="4.85" fill="#0068e5"/><circle cx="1207.1" cy="1779.6" r="4.85" fill="#00bc98"/><circle cx="1213" cy="1781.1" r="4.85" fill="#00b0bb"/><circle cx="1248.6" cy="1767.1" r="4.85" fill="#008ad6"/><circle cx="1290.8" cy="1765.5" r="4.85" fill="#c3be59"/><circle cx="1276.6" cy="1774.2" r="4.85" fill="#a9bf61"/><circle cx="1314.1" cy="1769.4" r="4.85" fill="#36268b"/><circle cx="1447.4" cy="1574.7" r="4.85" fill="#00b0bb"/><circle cx="1446.9" cy="1580.7" r="4.85" fill="#00b0bb"/><circle cx="1465.1" cy="1574.1" r="4.85" fill="#8cc06a"/><circle cx="1407.6" cy="1586.6" r="4.85" fill="#36268b"/><circle cx="1498.1" cy="1592.5" r="4.85" fill="#cebd55"/><circle cx="1620.2" cy="1583.2" r="4.85" fill="#007ade"/><circle cx="1645.2" cy="1582.3" r="4.85" fill="#36268b"/><circle cx="1569.3" cy="1594.4" r="4.85" fill="#352d97"/><circle cx="1576.6" cy="1592.8" r="4.85" fill="#36268b"/><circle cx="1597.5" cy="1593.6" r="4.85" fill="#00b4b0"/><circle cx="1613.5" cy="1595.5" r="4.85" fill="#cebd55"/><circle cx="1633.2" cy="1596.7" r="4.85" fill="#0068e5"/><circle cx="1629.5" cy="1605.7" r="4.85" fill="#00bc98"/><circle cx="1636.3" cy="1609.9" r="4.85" fill="#36268b"/><circle cx="1702.3" cy="1596" r="4.85" fill="#00bc98"/><circle cx="1460.2" cy="1607.9" r="4.85" fill="#007ade"/><circle cx="1682.5" cy="1614.7" r="4.85" fill="#67c073"/><circle cx="1605.3" cy="1618.9" r="4.85" fill="#36268b"/><circle cx="1495.3" cy="1624.2" r="4.85" fill="#8cc06a"/><circle cx="1542.9" cy="1624.4" r="4.85" fill="#00be91"/><circle cx="1416.9" cy="1627.8" r="4.85" fill="#36268b"/><circle cx="1470.5" cy="1634.8" r="4.85" fill="#36268b"/><circle cx="1510.7" cy="1631.4" r="4.85" fill="#352d97"/><circle cx="1526.7" cy="1638" r="4.85" fill="#36268b"/><circle cx="1617.9" cy="1630.9" r="4.85" fill="#007ade"/><circle cx="1628.3" cy="1636.3" r="4.85" fill="#00bc98"/><circle cx="1624.1" cy="1641.3" r="4.85" fill="#36268b"/><circle cx="1631.7" cy="1643.6" r="4.85" fill="#efbb48"/><circle cx="1685.2" cy="1634.3" r="4.85" fill="#008ad6"/><circle cx="1403.4" cy="1645.3" r="4.85" fill="#006de4"/><circle cx="1438.2" cy="1644.9" r="4.85" fill="#36268b"/><circle cx="1451.2" cy="1649.8" r="4.85" fill="#36268b"/><circle cx="1493.9" cy="1645.6" r="4.85" fill="#009ad4"/><circle cx="1540.2" cy="1650" r="4.85" fill="#36268b"/><circle cx="1574.7" cy="1643.6" r="4.85" fill="#2e3ab1"/><circle cx="1575.9" cy="1649.5" r="4.85" fill="#00abc4"/><circle cx="1588" cy="1652.9" r="4.85" fill="#ffbb3d"/><circle cx="1426.4" cy="1652.6" r="4.85" fill="#36268b"/><circle cx="1429.2" cy="1655.4" r="4.85" fill="#c3be59"/><circle cx="1405" cy="1656.8" r="4.85" fill="#36268b"/><circle cx="1698.1" cy="1649.1" r="4.85" fill="#36268b"/><circle cx="1503" cy="1657.3" r="4.85" fill="#0082da"/><circle cx="1665.4" cy="1656.7" r="4.85" fill="#00be91"/><circle cx="1459.9" cy="1666.3" r="4.85" fill="#f9bb43"/><circle cx="1567.1" cy="1669.9" r="4.85" fill="#dabc51"/><circle cx="1632.9" cy="1666.3" r="4.85" fill="#36268b"/><circle cx="1404.7" cy="1675.5" r="4.85" fill="#00bc98"/><circle cx="1498.1" cy="1679.8" r="4.85" fill="#36268b"/><circle cx="1561.6" cy="1680.7" r="4.85" fill="#00b8a4"/><circle cx="1553.4" cy="1684.5" r="4.85" fill="#009ed2"/><circle cx="1692.7" cy="1681" r="4.85" fill="#00ba9e"/><circle cx="1416" cy="1685.5" r="4.85" fill="#a9bf61"/><circle cx="1445.7" cy="1686" r="4.85" fill="#00bf8a"/><circle cx="1460.9" cy="1688" r="4.85" fill="#ffbb3d"/><circle cx="1449.8" cy="1693.8" r="4.85" fill="#009ed2"/><circle cx="1592.1" cy="1687.1" r="4.85" fill="#67c073"/><circle cx="1611.5" cy="1690.4" r="4.85" fill="#36268b"/><circle cx="1541" cy="1691.8" r="4.85" fill="#008fd6"/><circle cx="1553.4" cy="1695.6" r="4.85" fill="#008ad6"/><circle cx="1557.1" cy="1702" r="4.85" fill="#00c084"/><circle cx="1569.3" cy="1697.5" r="4.85" fill="#4ec078"/><circle cx="1517.4" cy="1695" r="4.85" fill="#36268b"/><circle cx="1509.5" cy="1701.2" r="4.85" fill="#8cc06a"/><circle cx="1663.2" cy="1694.4" r="4.85" fill="#a9bf61"/><circle cx="1430.7" cy="1698.1" r="4.85" fill="#36268b"/><circle cx="1425.3" cy="1703.1" r="4.85" fill="#fedf00"/><circle cx="1455" cy="1710.4" r="4.85" fill="#009ed2"/><circle cx="1687.1" cy="1709" r="4.85" fill="#36268b"/><circle cx="1466.5" cy="1717.4" r="4.85" fill="#a9bf61"/><circle cx="1483.9" cy="1716" r="4.85" fill="#00bc98"/><circle cx="1502.3" cy="1717.7" r="4.85" fill="#009ad4"/><circle cx="1601.4" cy="1716.8" r="4.85" fill="#fedf00"/><circle cx="1572.8" cy="1723.4" r="4.85" fill="#ffd900"/><circle cx="1632.6" cy="1721" r="4.85" fill="#0068e5"/><circle cx="1671.3" cy="1721.1" r="4.85" fill="#0068e5"/><circle cx="1691.5" cy="1719.7" r="4.85" fill="#36268b"/><circle cx="1415.4" cy="1721.6" r="4.85" fill="#a9bf61"/><circle cx="1449.4" cy="1723.4" r="4.85" fill="#8cc06a"/><circle cx="1455.6" cy="1730.9" r="4.85" fill="#ffca0d"/><circle cx="1509.5" cy="1732" r="4.85" fill="#8cc06a"/><circle cx="1625.8" cy="1731" r="4.85" fill="#e5bc4d"/><circle cx="1428.4" cy="1733.7" r="4.85" fill="#00b0bb"/><circle cx="1675.6" cy="1734.9" r="4.85" fill="#36268b"/><circle cx="1687.7" cy="1736.9" r="4.85" fill="#36268b"/><circle cx="1477.6" cy="1745.8" r="4.85" fill="#36268b"/><circle cx="1480.4" cy="1747.8" r="4.85" fill="#00bc98"/><circle cx="1438.4" cy="1754.3" r="4.85" fill="#f9ec00"/><circle cx="1650" cy="1757.4" r="4.85" fill="#00abc4"/><circle cx="1682.6" cy="1756.4" r="4.85" fill="#36268b"/><circle cx="1675.5" cy="1764.4" r="4.85" fill="#4ec078"/><circle cx="1692.5" cy="1768.8" r="4.85" fill="#a9bf61"/><circle cx="1519.9" cy="1769.4" r="4.85" fill="#2e3ab1"/><circle cx="1520.7" cy="1763.3" r="4.85" fill="#009ad4"/><circle cx="1537.3" cy="1764.6" r="4.85" fill="#008ad6"/><circle cx="1599.4" cy="1765.4" r="4.85" fill="#00b4b0"/><circle cx="1446.6" cy="1774.5" r="4.85" fill="#0068e5"/><circle cx="1447" cy="1769.6" r="4.85" fill="#36268b"/><circle cx="1573.1" cy="1773" r="4.85" fill="#36268b"/><circle cx="1575.5" cy="1776.1" r="4.85" fill="#ffd900"/><circle cx="1655.1" cy="1773.7" r="4.85" fill="#36268b"/><circle cx="1657.8" cy="1776.9" r="4.85" fill="#0068e5"/><circle cx="1712" cy="1579.6" r="4.85" fill="#36268b"/><circle cx="1912.1" cy="1579.5" r="4.85" fill="#007ade"/><circle cx="1830.4" cy="1586.9" r="4.85" fill="#ffbb3d"/><circle cx="1710.6" cy="1593.6" r="4.85" fill="#36268b"/><circle cx="1740.4" cy="1601.9" r="4.85" fill="#36268b"/><circle cx="1750" cy="1606" r="4.85" fill="#00b8a4"/><circle cx="1796.6" cy="1600.6" r="4.85" fill="#008ad6"/><circle cx="1723" cy="1616.6" r="4.85" fill="#36268b"/><circle cx="1728.3" cy="1624.7" r="4.85" fill="#a9bf61"/><circle cx="1755.1" cy="1621.1" r="4.85" fill="#36268b"/><circle cx="1763.7" cy="1621.1" r="4.85" fill="#36268b"/><circle cx="1779.5" cy="1625.8" r="4.85" fill="#352d97"/><circle cx="1805.6" cy="1627.9" r="4.85" fill="#36268b"/><circle cx="1831.7" cy="1617.5" r="4.85" fill="#dabc51"/><circle cx="1710.4" cy="1638.8" r="4.85" fill="#007ade"/><circle cx="1752.6" cy="1639.6" r="4.85" fill="#36268b"/><circle cx="1767.9" cy="1640.5" r="4.85" fill="#f9ec00"/><circle cx="1728.1" cy="1646.6" r="4.85" fill="#36268b"/><circle cx="1821.1" cy="1643.9" r="4.85" fill="#4ec078"/><circle cx="1878.6" cy="1642.7" r="4.85" fill="#ffca0d"/><circle cx="1887" cy="1643.5" r="4.85" fill="#fedf00"/><circle cx="1924.4" cy="1639.6" r="4.85" fill="#008ad6"/><circle cx="1822" cy="1658.4" r="4.85" fill="#8cc06a"/><circle cx="1850" cy="1655.3" r="4.85" fill="#0082da"/><circle cx="1706.2" cy="1662.7" r="4.85" fill="#00ba9e"/><circle cx="1759.5" cy="1668.6" r="4.85" fill="#0082da"/><circle cx="1798.4" cy="1670.5" r="4.85" fill="#ffd400"/><circle cx="1921.1" cy="1663.5" r="4.85" fill="#0068e5"/><circle cx="1878.3" cy="1673" r="4.85" fill="#0072e3"/><circle cx="1921" cy="1675" r="4.85" fill="#005be2"/><circle cx="1715.1" cy="1678.2" r="4.85" fill="#2e3ab1"/><circle cx="1820.8" cy="1677.3" r="4.85" fill="#36268b"/><circle cx="1846.3" cy="1686.6" r="4.85" fill="#c3be59"/><circle cx="1919.9" cy="1689" r="4.85" fill="#2e3ab1"/><circle cx="1908.5" cy="1693.2" r="4.85" fill="#fedf00"/><circle cx="1872.8" cy="1705.6" r="4.85" fill="#36268b"/><circle cx="1715.1" cy="1711.8" r="4.85" fill="#dabc51"/><circle cx="1733.4" cy="1714.7" r="4.85" fill="#007ade"/><circle cx="1755.1" cy="1717.2" r="4.85" fill="#005be2"/><circle cx="1791.3" cy="1717.4" r="4.85" fill="#8cc06a"/><circle cx="1787.3" cy="1715.7" r="4.85" fill="#00be91"/><circle cx="1747.5" cy="1724.2" r="4.85" fill="#ffd400"/><circle cx="1731.4" cy="1727.2" r="4.85" fill="#36268b"/><circle cx="1801.7" cy="1724.7" r="4.85" fill="#ffd400"/><circle cx="1878.4" cy="1731" r="4.85" fill="#fbe500"/><circle cx="1719.7" cy="1739.3" r="4.85" fill="#dabc51"/><circle cx="1745.8" cy="1743" r="4.85" fill="#0063e5"/><circle cx="1748.3" cy="1752.5" r="4.85" fill="#00ba9e"/><circle cx="1781.7" cy="1751.9" r="4.85" fill="#00b8a4"/><circle cx="1836.5" cy="1759" r="4.85" fill="#ffca0d"/><circle cx="1812.1" cy="1764.4" r="4.85" fill="#00be91"/><circle cx="1828.6" cy="1764.9" r="4.85" fill="#c3be59"/><circle cx="1850.6" cy="1766.8" r="4.85" fill="#36268b"/><circle cx="1879.7" cy="1769.1" r="4.85" fill="#36268b"/><circle cx="1884" cy="1772.7" r="4.85" fill="#ffbb3d"/><circle cx="1909.6" cy="1765.5" r="4.85" fill="#ffd900"/><circle cx="1936.3" cy="1765.7" r="4.85" fill="#ffd900"/><circle cx="1770.5" cy="1768.8" r="4.85" fill="#67c073"/><circle cx="1763.4" cy="1774.5" r="4.85" fill="#ffd400"/><circle cx="1737.3" cy="1779.2" r="4.85" fill="#008fd6"/><circle cx="1805.6" cy="1779.2" r="4.85" fill="#ffd400"/><circle cx="1800.2" cy="1782.2" r="4.85" fill="#36268b"/><circle cx="1913.4" cy="1781.7" r="4.85" fill="#36268b"/><circle cx="598.3" cy="1784.7" r="4.85" fill="#ffd400"/><circle cx="692.1" cy="1786.5" r="4.85" fill="#ffbb3d"/><circle cx="741.5" cy="1785" r="4.85" fill="#009ed2"/><circle cx="791.1" cy="1782.3" r="4.85" fill="#ffbb3d"/><circle cx="792.7" cy="1792" r="4.85" fill="#00a8c9"/><circle cx="573" cy="1793.8" r="4.85" fill="#ffd400"/><circle cx="581.8" cy="1797.1" r="4.85" fill="#00b0bb"/><circle cx="650.2" cy="1795.9" r="4.85" fill="#00b4b0"/><circle cx="755.7" cy="1797.6" r="4.85" fill="#36268b"/><circle cx="767.1" cy="1798.8" r="4.85" fill="#36268b"/><circle cx="560.6" cy="1804.1" r="4.85" fill="#00bc98"/><circle cx="523.3" cy="1809.8" r="4.85" fill="#007ade"/><circle cx="528.4" cy="1808" r="4.85" fill="#ffd900"/><circle cx="687.6" cy="1804.9" r="4.85" fill="#0068e5"/><circle cx="710.2" cy="1805.2" r="4.85" fill="#36268b"/><circle cx="711.5" cy="1809.8" r="4.85" fill="#00abc4"/><circle cx="789.8" cy="1806.3" r="4.85" fill="#009ed2"/><circle cx="795" cy="1815" r="4.85" fill="#00abc4"/><circle cx="568.6" cy="1813.6" r="4.85" fill="#8cc06a"/><circle cx="726.2" cy="1815.3" r="4.85" fill="#a9bf61"/><circle cx="773.3" cy="1814.2" r="4.85" fill="#00b2b6"/><circle cx="753.6" cy="1819.5" r="4.85" fill="#ffc02a"/><circle cx="621.9" cy="1822.6" r="4.85" fill="#f9ec00"/><circle cx="581.5" cy="1827.5" r="4.85" fill="#009ed2"/><circle cx="786.5" cy="1827.2" r="4.85" fill="#00be91"/><circle cx="795.3" cy="1828" r="4.85" fill="#00be91"/><circle cx="754.7" cy="1831.6" r="4.85" fill="#36268b"/><circle cx="762.4" cy="1833.9" r="4.85" fill="#36268b"/><circle cx="723.9" cy="1836.9" r="4.85" fill="#00abc4"/><circle cx="601.2" cy="1839.2" r="4.85" fill="#00be91"/><circle cx="614.1" cy="1844.5" r="4.85" fill="#00c084"/><circle cx="688.7" cy="1845.2" r="4.85" fill="#67c073"/><circle cx="684.3" cy="1841.4" r="4.85" fill="#008ad6"/><circle cx="753.9" cy="1846" r="4.85" fill="#8cc06a"/><circle cx="778.4" cy="1850.8" r="4.85" fill="#36268b"/><circle cx="750.3" cy="1855.2" r="4.85" fill="#00be91"/><circle cx="657.1" cy="1859.2" r="4.85" fill="#ffd400"/><circle cx="654.2" cy="1851.9" r="4.85" fill="#0052d8"/><circle cx="576.2" cy="1855.2" r="4.85" fill="#008ad6"/><circle cx="557.9" cy="1859.1" r="4.85" fill="#8cc06a"/><circle cx="678.9" cy="1862.5" r="4.85" fill="#00be91"/><circle cx="583.4" cy="1867.1" r="4.85" fill="#00b4b0"/><circle cx="682.9" cy="1871.8" r="4.85" fill="#0068e5"/><circle cx="656.1" cy="1875.7" r="4.85" fill="#00be91"/><circle cx="524.7" cy="1877.7" r="4.85" fill="#ffc02a"/><circle cx="784.2" cy="1871.8" r="4.85" fill="#008ad6"/><circle cx="780" cy="1875.4" r="4.85" fill="#005be2"/><circle cx="767.4" cy="1876.8" r="4.85" fill="#36268b"/><circle cx="750" cy="1879.2" r="4.85" fill="#36268b"/><circle cx="726.7" cy="1886.7" r="4.85" fill="#00b0bb"/><circle cx="735.9" cy="1894.8" r="4.85" fill="#00bc98"/><circle cx="775.5" cy="1890" r="4.85" fill="#00be91"/><circle cx="614.8" cy="1896.6" r="4.85" fill="#36268b"/><circle cx="691" cy="1893.7" r="4.85" fill="#36268b"/><circle cx="682.8" cy="1900.2" r="4.85" fill="#a9bf61"/><circle cx="766.9" cy="1903.5" r="4.85" fill="#00a8c9"/><circle cx="774.5" cy="1911.1" r="4.85" fill="#36268b"/><circle cx="712.7" cy="1910.5" r="4.85" fill="#36268b"/><circle cx="552.5" cy="1910.1" r="4.85" fill="#a9bf61"/><circle cx="581.1" cy="1910" r="4.85" fill="#ffbc35"/><circle cx="620.8" cy="1913.9" r="4.85" fill="#4ec078"/><circle cx="596.1" cy="1920.2" r="4.85" fill="#00b0bb"/><circle cx="570.2" cy="1922.3" r="4.85" fill="#2e3ab1"/><circle cx="698" cy="1918.5" r="4.85" fill="#8cc06a"/><circle cx="759.5" cy="1917.8" r="4.85" fill="#009ad4"/><circle cx="794.3" cy="1910.8" r="4.85" fill="#008fd6"/><circle cx="801.6" cy="1910" r="4.85" fill="#36268b"/><circle cx="794.3" cy="1914.6" r="4.85" fill="#8cc06a"/><circle cx="795" cy="1913.1" r="4.85" fill="#00abc4"/><circle cx="798.1" cy="1923.2" r="4.85" fill="#8cc06a"/><circle cx="673.8" cy="1924" r="4.85" fill="#00bc98"/><circle cx="696" cy="1928.6" r="4.85" fill="#8cc06a"/><circle cx="702.2" cy="1929.9" r="4.85" fill="#00b2b6"/><circle cx="699.5" cy="1932.5" r="4.85" fill="#00b4b0"/><circle cx="723.8" cy="1929.4" r="4.85" fill="#2e3ab1"/><circle cx="779.5" cy="1932.2" r="4.85" fill="#e5bc4d"/><circle cx="517.4" cy="1937.3" r="4.85" fill="#0068e5"/><circle cx="648.3" cy="1934.8" r="4.85" fill="#008ad6"/><circle cx="644.4" cy="1933" r="4.85" fill="#36268b"/><circle cx="651.7" cy="1938.4" r="4.85" fill="#00be91"/><circle cx="646" cy="1940.3" r="4.85" fill="#00bf8a"/><circle cx="733.2" cy="1940" r="4.85" fill="#36268b"/><circle cx="750" cy="1943.1" r="4.85" fill="#00a8c9"/><circle cx="691" cy="1945.4" r="4.85" fill="#c3be59"/><circle cx="724.5" cy="1948.5" r="4.85" fill="#dabc51"/><circle cx="651.9" cy="1947.7" r="4.85" fill="#009ad4"/><circle cx="658.2" cy="1952.5" r="4.85" fill="#a9bf61"/><circle cx="773.6" cy="1946.9" r="4.85" fill="#00bc98"/><circle cx="783.9" cy="1946.9" r="4.85" fill="#36268b"/><circle cx="561.8" cy="1951.1" r="4.85" fill="#007ade"/><circle cx="600.3" cy="1952.2" r="4.85" fill="#3333a4"/><circle cx="621.4" cy="1953.5" r="4.85" fill="#00b4b0"/><circle cx="590.1" cy="1957.8" r="4.85" fill="#00b0bb"/><circle cx="616.5" cy="1960.8" r="4.85" fill="#007ade"/><circle cx="745.8" cy="1953" r="4.85" fill="#8cc06a"/><circle cx="652.5" cy="1961.2" r="4.85" fill="#008ad6"/><circle cx="792.7" cy="1953.5" r="4.85" fill="#00abc4"/><circle cx="787.7" cy="1956.9" r="4.85" fill="#00b2b6"/><circle cx="791.9" cy="1966.4" r="4.85" fill="#36268b"/><circle cx="816.3" cy="1785" r="4.85" fill="#00a8c9"/><circle cx="895.5" cy="1781.4" r="4.85" fill="#36268b"/><circle cx="899.4" cy="1788.9" r="4.85" fill="#36268b"/><circle cx="901.2" cy="1787.6" r="4.85" fill="#008ad6"/><circle cx="922.7" cy="1782.3" r="4.85" fill="#00bc98"/><circle cx="927.3" cy="1783.4" r="4.85" fill="#00bc98"/><circle cx="853.1" cy="1792" r="4.85" fill="#00abc4"/><circle cx="863.2" cy="1791.7" r="4.85" fill="#ffd900"/><circle cx="864.9" cy="1797.4" r="4.85" fill="#00b2b6"/><circle cx="944.1" cy="1785.8" r="4.85" fill="#ffca0d"/><circle cx="940.5" cy="1788.1" r="4.85" fill="#00abc4"/><circle cx="942.1" cy="1791.7" r="4.85" fill="#00a8c9"/><circle cx="991.8" cy="1781.4" r="4.85" fill="#00bc98"/><circle cx="1022" cy="1783.9" r="4.85" fill="#a9bf61"/><circle cx="1025.2" cy="1785.8" r="4.85" fill="#36268b"/><circle cx="1030.9" cy="1785.5" r="4.85" fill="#36268b"/><circle cx="1037.3" cy="1789.6" r="4.85" fill="#36268b"/><circle cx="1053.1" cy="1793.2" r="4.85" fill="#fedf00"/><circle cx="1093" cy="1786.5" r="4.85" fill="#00b4b0"/><circle cx="1102.3" cy="1796.3" r="4.85" fill="#dabc51"/><circle cx="903.7" cy="1796.3" r="4.85" fill="#00b0bb"/><circle cx="887.3" cy="1803.3" r="4.85" fill="#fedf00"/><circle cx="882.6" cy="1799.3" r="4.85" fill="#00b2b6"/><circle cx="865.2" cy="1807.8" r="4.85" fill="#ffbb3d"/><circle cx="911.8" cy="1808.3" r="4.85" fill="#a9bf61"/><circle cx="1058.5" cy="1805.6" r="4.85" fill="#008ad6"/><circle cx="906.4" cy="1819.5" r="4.85" fill="#00be91"/><circle cx="902" cy="1812.5" r="4.85" fill="#36268b"/><circle cx="943.2" cy="1817.3" r="4.85" fill="#a9bf61"/><circle cx="954.5" cy="1816.8" r="4.85" fill="#36268b"/><circle cx="958.7" cy="1814.5" r="4.85" fill="#36268b"/><circle cx="983.4" cy="1811.1" r="4.85" fill="#00abc4"/><circle cx="973.1" cy="1819.9" r="4.85" fill="#007ade"/><circle cx="1026.6" cy="1818.1" r="4.85" fill="#8cc06a"/><circle cx="1086.8" cy="1814" r="4.85" fill="#ffbb3d"/><circle cx="1059.6" cy="1819.6" r="4.85" fill="#008ad6"/><circle cx="1067.1" cy="1824.9" r="4.85" fill="#a9bf61"/><circle cx="858.5" cy="1826.9" r="4.85" fill="#0052d8"/><circle cx="864.4" cy="1832.3" r="4.85" fill="#00abc4"/><circle cx="889.8" cy="1832.8" r="4.85" fill="#0068e5"/><circle cx="929.2" cy="1825.8" r="4.85" fill="#009ad4"/><circle cx="964.9" cy="1834.2" r="4.85" fill="#00a8c9"/><circle cx="979.3" cy="1837.5" r="4.85" fill="#008ad6"/><circle cx="840.1" cy="1837.2" r="4.85" fill="#36268b"/><circle cx="1069.6" cy="1835" r="4.85" fill="#ffbb3d"/><circle cx="1018.2" cy="1836.4" r="4.85" fill="#36268b"/><circle cx="1023.6" cy="1839.8" r="4.85" fill="#0063e5"/><circle cx="1028.7" cy="1840.1" r="4.85" fill="#36268b"/><circle cx="1041.5" cy="1842.8" r="4.85" fill="#36268b"/><circle cx="1051.1" cy="1841.2" r="4.85" fill="#00abc4"/><circle cx="1098.1" cy="1837.8" r="4.85" fill="#006de4"/><circle cx="853.3" cy="1844.8" r="4.85" fill="#00b2b6"/><circle cx="867.2" cy="1843.2" r="4.85" fill="#00bc98"/><circle cx="860.1" cy="1847.6" r="4.85" fill="#a9bf61"/><circle cx="1010.4" cy="1847.6" r="4.85" fill="#36268b"/><circle cx="1069.4" cy="1845.5" r="4.85" fill="#f9bb43"/><circle cx="1059" cy="1846.8" r="4.85" fill="#008ad6"/><circle cx="1056.2" cy="1852.5" r="4.85" fill="#a9bf61"/><circle cx="1054.7" cy="1856.7" r="4.85" fill="#2442be"/><circle cx="834.5" cy="1852.7" r="4.85" fill="#8cc06a"/><circle cx="1095.8" cy="1852.5" r="4.85" fill="#8cc06a"/><circle cx="909.5" cy="1852.5" r="4.85" fill="#00abc4"/><circle cx="909.8" cy="1854.6" r="4.85" fill="#36268b"/><circle cx="910.6" cy="1861.9" r="4.85" fill="#00be91"/><circle cx="982.9" cy="1853.8" r="4.85" fill="#ffbb3d"/><circle cx="985.9" cy="1854.9" r="4.85" fill="#8cc06a"/><circle cx="818.2" cy="1858" r="4.85" fill="#36268b"/><circle cx="828.4" cy="1859.5" r="4.85" fill="#36268b"/><circle cx="933.9" cy="1863.1" r="4.85" fill="#36268b"/><circle cx="927.3" cy="1868.4" r="4.85" fill="#00be91"/><circle cx="1000" cy="1862.2" r="4.85" fill="#00b4b0"/><circle cx="849.4" cy="1865.7" r="4.85" fill="#a9bf61"/><circle cx="845.3" cy="1870.7" r="4.85" fill="#00b4b0"/><circle cx="956.1" cy="1874.3" r="4.85" fill="#ffbb3d"/><circle cx="953.7" cy="1871.2" r="4.85" fill="#00b0bb"/><circle cx="990.5" cy="1871.5" r="4.85" fill="#36268b"/><circle cx="1090.4" cy="1869.6" r="4.85" fill="#67c073"/><circle cx="1094.3" cy="1868.1" r="4.85" fill="#00abc4"/><circle cx="935.1" cy="1887.9" r="4.85" fill="#ffbb3d"/><circle cx="936.6" cy="1883.6" r="4.85" fill="#a9bf61"/><circle cx="936.2" cy="1874" r="4.85" fill="#36268b"/><circle cx="936.2" cy="1879.7" r="4.85" fill="#67c073"/><circle cx="890.1" cy="1875.8" r="4.85" fill="#a9bf61"/><circle cx="1063.5" cy="1875" r="4.85" fill="#00b4b0"/><circle cx="916.5" cy="1878.2" r="4.85" fill="#0068e5"/><circle cx="918.5" cy="1881" r="4.85" fill="#ffd400"/><circle cx="913" cy="1882.8" r="4.85" fill="#00bc98"/><circle cx="811.2" cy="1883.6" r="4.85" fill="#8cc06a"/><circle cx="1090.8" cy="1885.1" r="4.85" fill="#00be91"/><circle cx="883.5" cy="1887.3" r="4.85" fill="#0068e5"/><circle cx="978.9" cy="1887.6" r="4.85" fill="#2e3ab1"/><circle cx="985.6" cy="1892.9" r="4.85" fill="#efbb48"/><circle cx="1049.2" cy="1888.6" r="4.85" fill="#36268b"/><circle cx="1038.5" cy="1893.2" r="4.85" fill="#ffca0d"/><circle cx="859.6" cy="1892.1" r="4.85" fill="#8cc06a"/><circle cx="1083.9" cy="1892.9" r="4.85" fill="#ffd900"/><circle cx="837.3" cy="1896" r="4.85" fill="#8cc06a"/><circle cx="836.5" cy="1897.3" r="4.85" fill="#2e3ab1"/><circle cx="885.6" cy="1897.9" r="4.85" fill="#00abc4"/><circle cx="850" cy="1901.1" r="4.85" fill="#00b4b0"/><circle cx="1048.8" cy="1900.7" r="4.85" fill="#36268b"/><circle cx="1053.4" cy="1899.1" r="4.85" fill="#36268b"/><circle cx="1057.8" cy="1899.1" r="4.85" fill="#00be91"/><circle cx="1068.6" cy="1899.1" r="4.85" fill="#dabc51"/><circle cx="955" cy="1904.6" r="4.85" fill="#00b8a4"/><circle cx="843.8" cy="1907.2" r="4.85" fill="#00be91"/><circle cx="903.6" cy="1908.9" r="4.85" fill="#36268b"/><circle cx="943.8" cy="1910.5" r="4.85" fill="#8cc06a"/><circle cx="1001.4" cy="1910" r="4.85" fill="#36268b"/><circle cx="1012.3" cy="1908.4" r="4.85" fill="#009ed2"/><circle cx="1034.2" cy="1906.4" r="4.85" fill="#36268b"/><circle cx="1064" cy="1906.3" r="4.85" fill="#00b8a4"/><circle cx="1085.2" cy="1910" r="4.85" fill="#ffca0d"/><circle cx="1092.7" cy="1909.7" r="4.85" fill="#00bc98"/><circle cx="996" cy="1914.6" r="4.85" fill="#00be91"/><circle cx="978.9" cy="1915.9" r="4.85" fill="#00b0bb"/><circle cx="987.1" cy="1917.8" r="4.85" fill="#00be91"/><circle cx="854.2" cy="1915.3" r="4.85" fill="#00bc98"/><circle cx="919.6" cy="1916.2" r="4.85" fill="#36268b"/><circle cx="809.3" cy="1917.8" r="4.85" fill="#0068e5"/><circle cx="1015.5" cy="1916.2" r="4.85" fill="#00abc4"/><circle cx="1033.2" cy="1916.2" r="4.85" fill="#36268b"/><circle cx="1068.6" cy="1913.1" r="4.85" fill="#ffbb3d"/><circle cx="1063.5" cy="1917.8" r="4.85" fill="#00b4b0"/><circle cx="1071.7" cy="1920.1" r="4.85" fill="#fedf00"/><circle cx="849.4" cy="1921.2" r="4.85" fill="#009ad4"/><circle cx="887.7" cy="1922.4" r="4.85" fill="#36268b"/><circle cx="963.4" cy="1922.1" r="4.85" fill="#008ad6"/><circle cx="969.7" cy="1924.7" r="4.85" fill="#36268b"/><circle cx="951.7" cy="1924.7" r="4.85" fill="#dabc51"/><circle cx="1023.6" cy="1922.4" r="4.85" fill="#00abc4"/><circle cx="1021.3" cy="1927.1" r="4.85" fill="#008ad6"/><circle cx="1025.2" cy="1931" r="4.85" fill="#0068e5"/><circle cx="1092.4" cy="1922.1" r="4.85" fill="#00bc98"/><circle cx="1090.4" cy="1929.4" r="4.85" fill="#29c07e"/><circle cx="909.2" cy="1928" r="4.85" fill="#00be91"/><circle cx="922.2" cy="1928" r="4.85" fill="#ffd900"/><circle cx="940.7" cy="1928" r="4.85" fill="#ffd900"/><circle cx="977.3" cy="1927.8" r="4.85" fill="#8cc06a"/><circle cx="977.8" cy="1932.5" r="4.85" fill="#009ad4"/><circle cx="989.9" cy="1933" r="4.85" fill="#36268b"/><circle cx="1051.6" cy="1930.5" r="4.85" fill="#36268b"/><circle cx="1065.2" cy="1931" r="4.85" fill="#4ec078"/><circle cx="849.2" cy="1933.6" r="4.85" fill="#36268b"/><circle cx="835.2" cy="1935.1" r="4.85" fill="#c3be59"/><circle cx="841.1" cy="1940" r="4.85" fill="#36268b"/><circle cx="895.8" cy="1933.3" r="4.85" fill="#ffd900"/><circle cx="1033.7" cy="1935.6" r="4.85" fill="#ffbb3d"/><circle cx="1029.8" cy="1937.2" r="4.85" fill="#36268b"/><circle cx="1043" cy="1935.6" r="4.85" fill="#dabc51"/><circle cx="1015.5" cy="1938.7" r="4.85" fill="#009ad4"/><circle cx="1064.8" cy="1939.5" r="4.85" fill="#29c07e"/><circle cx="1064" cy="1942.6" r="4.85" fill="#29c07e"/><circle cx="1083.9" cy="1938.7" r="4.85" fill="#fedf00"/><circle cx="891.9" cy="1940.6" r="4.85" fill="#36268b"/><circle cx="903.6" cy="1938.4" r="4.85" fill="#0072e3"/><circle cx="908.7" cy="1943.8" r="4.85" fill="#0072e3"/><circle cx="914.1" cy="1949.6" r="4.85" fill="#36268b"/><circle cx="926.1" cy="1939.2" r="4.85" fill="#00bc98"/><circle cx="925.5" cy="1944.5" r="4.85" fill="#8cc06a"/><circle cx="931.2" cy="1948.5" r="4.85" fill="#36268b"/><circle cx="945.2" cy="1943.8" r="4.85" fill="#36268b"/><circle cx="953.7" cy="1947.7" r="4.85" fill="#00b4b0"/><circle cx="959.9" cy="1951.6" r="4.85" fill="#36268b"/><circle cx="975.2" cy="1941.8" r="4.85" fill="#4ec078"/><circle cx="970.8" cy="1946.5" r="4.85" fill="#8cc06a"/><circle cx="1049.7" cy="1942.9" r="4.85" fill="#dabc51"/><circle cx="811.2" cy="1948.5" r="4.85" fill="#2e3ab1"/><circle cx="830.7" cy="1947.7" r="4.85" fill="#0072e3"/><circle cx="847.4" cy="1946.9" r="4.85" fill="#8cc06a"/><circle cx="862.1" cy="1948" r="4.85" fill="#00b0bb"/><circle cx="864.9" cy="1953.5" r="4.85" fill="#00b2b6"/><circle cx="1025.9" cy="1946.9" r="4.85" fill="#009ad4"/><circle cx="1035.2" cy="1948.5" r="4.85" fill="#008ad6"/><circle cx="1007.3" cy="1951.1" r="4.85" fill="#ffbb3d"/><circle cx="1051.9" cy="1951.1" r="4.85" fill="#36268b"/><circle cx="1085.4" cy="1948.8" r="4.85" fill="#ffc02a"/><circle cx="882.8" cy="1951.1" r="4.85" fill="#36268b"/><circle cx="927.3" cy="1953.5" r="4.85" fill="#008ad6"/><circle cx="951.4" cy="1955" r="4.85" fill="#0068e5"/><circle cx="993.3" cy="1955" r="4.85" fill="#36268b"/><circle cx="1067.9" cy="1952.7" r="4.85" fill="#c3be59"/><circle cx="1035.2" cy="1957.3" r="4.85" fill="#008ad6"/><circle cx="848.4" cy="1957" r="4.85" fill="#36268b"/><circle cx="857.1" cy="1959.2" r="4.85" fill="#a9bf61"/><circle cx="881.2" cy="1959.4" r="4.85" fill="#00abc4"/><circle cx="900.9" cy="1958.9" r="4.85" fill="#f9bb43"/><circle cx="982.9" cy="1959.7" r="4.85" fill="#00b4b0"/><circle cx="1016.8" cy="1961.2" r="4.85" fill="#ffbb3d"/><circle cx="1053.1" cy="1958.9" r="4.85" fill="#36268b"/><circle cx="1051.6" cy="1963.6" r="4.85" fill="#36268b"/><circle cx="830.3" cy="1960.5" r="4.85" fill="#00bc98"/><circle cx="834.5" cy="1961.7" r="4.85" fill="#0072e3"/><circle cx="829.5" cy="1966.4" r="4.85" fill="#00a8c9"/><circle cx="871" cy="1961.2" r="4.85" fill="#ffbb3d"/><circle cx="871.4" cy="1965.9" r="4.85" fill="#c3be59"/><circle cx="956.1" cy="1966.2" r="4.85" fill="#00abc4"/><circle cx="994.9" cy="1964.8" r="4.85" fill="#ffca0d"/><circle cx="1090.1" cy="1958.9" r="4.85" fill="#dabc51"/><circle cx="1097.4" cy="1955.8" r="4.85" fill="#0068e5"/><circle cx="1101.6" cy="1963.6" r="4.85" fill="#ffd900"/><circle cx="1127.5" cy="1786.1" r="4.85" fill="#36268b"/><circle cx="1168" cy="1790.4" r="4.85" fill="#8cc06a"/><circle cx="1200.9" cy="1787.6" r="4.85" fill="#00a8c9"/><circle cx="1225.8" cy="1788.9" r="4.85" fill="#36268b"/><circle cx="1283.2" cy="1785.8" r="4.85" fill="#00bc98"/><circle cx="1284.3" cy="1788.1" r="4.85" fill="#0072e3"/><circle cx="1269.3" cy="1794.3" r="4.85" fill="#36268b"/><circle cx="1270.3" cy="1800" r="4.85" fill="#00b0bb"/><circle cx="1321" cy="1794.3" r="4.85" fill="#a9bf61"/><circle cx="1224.7" cy="1799.4" r="4.85" fill="#36268b"/><circle cx="1218.8" cy="1802.1" r="4.85" fill="#009ed2"/><circle cx="1215.7" cy="1810.9" r="4.85" fill="#00b4b0"/><circle cx="1198.9" cy="1808.7" r="4.85" fill="#008ad6"/><circle cx="1182.8" cy="1810.3" r="4.85" fill="#ffd900"/><circle cx="1377.5" cy="1796.2" r="4.85" fill="#009ad4"/><circle cx="1353.6" cy="1799.3" r="4.85" fill="#00bc98"/><circle cx="1362.4" cy="1802.5" r="4.85" fill="#36268b"/><circle cx="1372.8" cy="1806.4" r="4.85" fill="#0052d8"/><circle cx="1403.9" cy="1801.3" r="4.85" fill="#00be91"/><circle cx="1113.7" cy="1813.7" r="4.85" fill="#00b4b0"/><circle cx="1126.7" cy="1819.9" r="4.85" fill="#009ad4"/><circle cx="1143.8" cy="1823.7" r="4.85" fill="#00a8c9"/><circle cx="1135.7" cy="1827.2" r="4.85" fill="#8cc06a"/><circle cx="1302.3" cy="1811.7" r="4.85" fill="#36268b"/><circle cx="1307.3" cy="1814.5" r="4.85" fill="#ffbb3d"/><circle cx="1313.5" cy="1817.6" r="4.85" fill="#ffc02a"/><circle cx="1351.2" cy="1812.6" r="4.85" fill="#36268b"/><circle cx="1375.3" cy="1820.4" r="4.85" fill="#36268b"/><circle cx="1390.5" cy="1823" r="4.85" fill="#00be91"/><circle cx="1239.4" cy="1823.7" r="4.85" fill="#36268b"/><circle cx="1246" cy="1826.6" r="4.85" fill="#67c073"/><circle cx="1110.9" cy="1826.1" r="4.85" fill="#a9bf61"/><circle cx="1112.4" cy="1832.3" r="4.85" fill="#c3be59"/><circle cx="1120.5" cy="1836.2" r="4.85" fill="#00b4b0"/><circle cx="1206.2" cy="1828.5" r="4.85" fill="#00b4b0"/><circle cx="1307.6" cy="1830" r="4.85" fill="#36268b"/><circle cx="1343.2" cy="1830.8" r="4.85" fill="#8cc06a"/><circle cx="1395.8" cy="1832.3" r="4.85" fill="#ffca0d"/><circle cx="1162.6" cy="1836.1" r="4.85" fill="#ffbb3d"/><circle cx="1177.2" cy="1835" r="4.85" fill="#00bc98"/><circle cx="1188.4" cy="1835" r="4.85" fill="#00bc98"/><circle cx="1219.6" cy="1838.6" r="4.85" fill="#36268b"/><circle cx="1219.1" cy="1833.9" r="4.85" fill="#a9bf61"/><circle cx="1380.1" cy="1836.4" r="4.85" fill="#ffd900"/><circle cx="1282.8" cy="1841.4" r="4.85" fill="#00abc4"/><circle cx="1298.1" cy="1840" r="4.85" fill="#ffbb3d"/><circle cx="1335.4" cy="1839.3" r="4.85" fill="#2442be"/><circle cx="1335.7" cy="1845.9" r="4.85" fill="#008ad6"/><circle cx="1331.1" cy="1850.7" r="4.85" fill="#008ad6"/><circle cx="1192.1" cy="1847.7" r="4.85" fill="#a9bf61"/><circle cx="1166" cy="1850.2" r="4.85" fill="#8cc06a"/><circle cx="1376.4" cy="1849.4" r="4.85" fill="#36268b"/><circle cx="1233.5" cy="1851.3" r="4.85" fill="#ffd900"/><circle cx="1232.9" cy="1854.1" r="4.85" fill="#ffbb3d"/><circle cx="1241.6" cy="1857" r="4.85" fill="#00be91"/><circle cx="1260.6" cy="1855.3" r="4.85" fill="#36268b"/><circle cx="1290.7" cy="1852.7" r="4.85" fill="#ffc02a"/><circle cx="1300" cy="1859.7" r="4.85" fill="#36268b"/><circle cx="1348.1" cy="1856.7" r="4.85" fill="#009ad4"/><circle cx="1320.2" cy="1860" r="4.85" fill="#00be91"/><circle cx="1125.9" cy="1862.2" r="4.85" fill="#36268b"/><circle cx="1180.7" cy="1862.5" r="4.85" fill="#36268b"/><circle cx="1207.9" cy="1862.8" r="4.85" fill="#00bc98"/><circle cx="1217.2" cy="1865.4" r="4.85" fill="#8cc06a"/><circle cx="1194.4" cy="1869.6" r="4.85" fill="#007ade"/><circle cx="1258.9" cy="1869.5" r="4.85" fill="#0068e5"/><circle cx="1334.8" cy="1868.8" r="4.85" fill="#36268b"/><circle cx="1356.5" cy="1866" r="4.85" fill="#00b2b6"/><circle cx="1211" cy="1874.3" r="4.85" fill="#0068e5"/><circle cx="1214.6" cy="1876.1" r="4.85" fill="#ffca0d"/><circle cx="1381.8" cy="1874.3" r="4.85" fill="#36268b"/><circle cx="1369.9" cy="1879.2" r="4.85" fill="#0068e5"/><circle cx="1105.4" cy="1885.1" r="4.85" fill="#36268b"/><circle cx="1107" cy="1878.2" r="4.85" fill="#00abc4"/><circle cx="1287.1" cy="1881.3" r="4.85" fill="#00be91"/><circle cx="1174.5" cy="1881.3" r="4.85" fill="#00bc98"/><circle cx="1176.1" cy="1884.4" r="4.85" fill="#fedf00"/><circle cx="1164.4" cy="1885.1" r="4.85" fill="#ffbb3d"/><circle cx="1168.3" cy="1887.5" r="4.85" fill="#ffbb3d"/><circle cx="1397.4" cy="1884.7" r="4.85" fill="#008ad6"/><circle cx="1203.3" cy="1890.1" r="4.85" fill="#00be91"/><circle cx="1218" cy="1891.8" r="4.85" fill="#4ec078"/><circle cx="1327" cy="1888.6" r="4.85" fill="#4ec078"/><circle cx="1340.1" cy="1892.9" r="4.85" fill="#00b0bb"/><circle cx="1163.8" cy="1896.5" r="4.85" fill="#00be91"/><circle cx="1297.7" cy="1897.4" r="4.85" fill="#ffbb3d"/><circle cx="1126.7" cy="1897.9" r="4.85" fill="#008ad6"/><circle cx="1128.9" cy="1904.1" r="4.85" fill="#008ad6"/><circle cx="1387.7" cy="1898.3" r="4.85" fill="#2e3ab1"/><circle cx="1394.3" cy="1899.9" r="4.85" fill="#00b0bb"/><circle cx="1251.4" cy="1902.7" r="4.85" fill="#fedf00"/><circle cx="1258.4" cy="1903.3" r="4.85" fill="#0068e5"/><circle cx="1265.1" cy="1902.7" r="4.85" fill="#0082da"/><circle cx="1311.5" cy="1902.7" r="4.85" fill="#36268b"/><circle cx="1317.4" cy="1907.3" r="4.85" fill="#36268b"/><circle cx="1108.2" cy="1904.6" r="4.85" fill="#00abc4"/><circle cx="1112.9" cy="1911.5" r="4.85" fill="#36268b"/><circle cx="1111.2" cy="1919.3" r="4.85" fill="#36268b"/><circle cx="1156.1" cy="1906.6" r="4.85" fill="#dabc51"/><circle cx="1384.6" cy="1910.1" r="4.85" fill="#fedf00"/><circle cx="1341.8" cy="1911.1" r="4.85" fill="#a9bf61"/><circle cx="1271.9" cy="1911.2" r="4.85" fill="#c3be59"/><circle cx="1278.6" cy="1911.5" r="4.85" fill="#00be91"/><circle cx="1294.3" cy="1912.9" r="4.85" fill="#8cc06a"/><circle cx="1215.7" cy="1913.1" r="4.85" fill="#67c073"/><circle cx="1196.3" cy="1911.2" r="4.85" fill="#009ad4"/><circle cx="1191.9" cy="1918.2" r="4.85" fill="#fedf00"/><circle cx="1198.6" cy="1916.2" r="4.85" fill="#8cc06a"/><circle cx="1181.2" cy="1919.8" r="4.85" fill="#00bc98"/><circle cx="1322.4" cy="1916.2" r="4.85" fill="#00a8c9"/><circle cx="1262.3" cy="1914.6" r="4.85" fill="#29c07e"/><circle cx="1259.9" cy="1917.4" r="4.85" fill="#009ad4"/><circle cx="1150.2" cy="1918.7" r="4.85" fill="#36268b"/><circle cx="1395.8" cy="1919" r="4.85" fill="#8cc06a"/><circle cx="1236.6" cy="1923.7" r="4.85" fill="#36268b"/><circle cx="1264.9" cy="1924.9" r="4.85" fill="#ffbb3d"/><circle cx="1251.4" cy="1927.5" r="4.85" fill="#ffd900"/><circle cx="1258.4" cy="1929.4" r="4.85" fill="#008ad6"/><circle cx="1189" cy="1926.3" r="4.85" fill="#dabc51"/><circle cx="1330.9" cy="1926.4" r="4.85" fill="#36268b"/><circle cx="1349.1" cy="1922.7" r="4.85" fill="#dabc51"/><circle cx="1342.7" cy="1930.8" r="4.85" fill="#cebd55"/><circle cx="1247" cy="1934.8" r="4.85" fill="#36268b"/><circle cx="1124.8" cy="1934.1" r="4.85" fill="#008ad6"/><circle cx="1120.5" cy="1936.1" r="4.85" fill="#36268b"/><circle cx="1133.7" cy="1933.3" r="4.85" fill="#36268b"/><circle cx="1130.3" cy="1940.3" r="4.85" fill="#00be91"/><circle cx="1311.2" cy="1938.7" r="4.85" fill="#00b0bb"/><circle cx="1315.1" cy="1943.1" r="4.85" fill="#00b0bb"/><circle cx="1320.5" cy="1948.8" r="4.85" fill="#8cc06a"/><circle cx="1329.3" cy="1943.5" r="4.85" fill="#ffbb3d"/><circle cx="1338.7" cy="1940.7" r="4.85" fill="#ffbb3d"/><circle cx="1357" cy="1940.7" r="4.85" fill="#008ad6"/><circle cx="1373.3" cy="1937.2" r="4.85" fill="#36268b"/><circle cx="1379.8" cy="1942.3" r="4.85" fill="#0072e3"/><circle cx="1391.1" cy="1936.4" r="4.85" fill="#36268b"/><circle cx="1273.4" cy="1941.7" r="4.85" fill="#00be91"/><circle cx="1277" cy="1949.1" r="4.85" fill="#2e3ab1"/><circle cx="1270.3" cy="1953.2" r="4.85" fill="#ffd900"/><circle cx="1214.6" cy="1942.6" r="4.85" fill="#36268b"/><circle cx="1197.5" cy="1943.5" r="4.85" fill="#00be91"/><circle cx="1187.7" cy="1947.7" r="4.85" fill="#00b0bb"/><circle cx="1180.4" cy="1946.8" r="4.85" fill="#ffd900"/><circle cx="1224.4" cy="1946.8" r="4.85" fill="#8cc06a"/><circle cx="1242.4" cy="1947.3" r="4.85" fill="#007ade"/><circle cx="1149.7" cy="1944.9" r="4.85" fill="#ffd900"/><circle cx="1149.7" cy="1948.8" r="4.85" fill="#36268b"/><circle cx="1148.6" cy="1953.8" r="4.85" fill="#36268b"/><circle cx="1127.6" cy="1952.2" r="4.85" fill="#ffca0d"/><circle cx="1201.7" cy="1951.6" r="4.85" fill="#007ade"/><circle cx="1208.2" cy="1954.7" r="4.85" fill="#29c07e"/><circle cx="1214.4" cy="1957" r="4.85" fill="#00be91"/><circle cx="1174.2" cy="1950.7" r="4.85" fill="#36268b"/><circle cx="1175.3" cy="1953.9" r="4.85" fill="#009ad4"/><circle cx="1103.9" cy="1957.8" r="4.85" fill="#007ade"/><circle cx="1102.3" cy="1958.9" r="4.85" fill="#36268b"/><circle cx="1125.8" cy="1957.8" r="4.85" fill="#0068e5"/><circle cx="1125.6" cy="1964.3" r="4.85" fill="#36268b"/><circle cx="1134.2" cy="1966.4" r="4.85" fill="#36268b"/><circle cx="1150.2" cy="1963.1" r="4.85" fill="#ffbb3d"/><circle cx="1179.2" cy="1964.8" r="4.85" fill="#36268b"/><circle cx="1200.5" cy="1962.5" r="4.85" fill="#0068e5"/><circle cx="1234.3" cy="1957.8" r="4.85" fill="#ffbb3d"/><circle cx="1233.2" cy="1963.9" r="4.85" fill="#008ad6"/><circle cx="1248.6" cy="1961.2" r="4.85" fill="#36268b"/><circle cx="1247.5" cy="1963.9" r="4.85" fill="#36268b"/><circle cx="1306.5" cy="1957.3" r="4.85" fill="#ffca0d"/><circle cx="1313.8" cy="1958.4" r="4.85" fill="#00be91"/><circle cx="1309.6" cy="1966.2" r="4.85" fill="#00abc4"/><circle cx="1324.4" cy="1957" r="4.85" fill="#36268b"/><circle cx="1331.4" cy="1956.9" r="4.85" fill="#36268b"/><circle cx="1347.2" cy="1955.8" r="4.85" fill="#00bc98"/><circle cx="1371.7" cy="1960.5" r="4.85" fill="#008ad6"/><circle cx="1368.9" cy="1956.9" r="4.85" fill="#36268b"/><circle cx="1413.2" cy="1788.2" r="4.85" fill="#00abc4"/><circle cx="1423.8" cy="1794.8" r="4.85" fill="#00bc98"/><circle cx="1461.3" cy="1794.5" r="4.85" fill="#fbe500"/><circle cx="1566.5" cy="1790.1" r="4.85" fill="#00be91"/><circle cx="1602.6" cy="1796.8" r="4.85" fill="#00b2b6"/><circle cx="1596.4" cy="1802.8" r="4.85" fill="#00a8c9"/><circle cx="1691.1" cy="1788.1" r="4.85" fill="#00abc4"/><circle cx="1689.1" cy="1794" r="4.85" fill="#ffbb3d"/><circle cx="1504.5" cy="1803.6" r="4.85" fill="#00be91"/><circle cx="1495.2" cy="1807.8" r="4.85" fill="#a9bf61"/><circle cx="1512.9" cy="1805.5" r="4.85" fill="#007ade"/><circle cx="1627.8" cy="1801.9" r="4.85" fill="#36268b"/><circle cx="1664.6" cy="1805.5" r="4.85" fill="#a9bf61"/><circle cx="1627" cy="1813.7" r="4.85" fill="#f9bb43"/><circle cx="1460.4" cy="1816.5" r="4.85" fill="#008ad6"/><circle cx="1498.6" cy="1819.6" r="4.85" fill="#a9bf61"/><circle cx="1577.3" cy="1818.4" r="4.85" fill="#007ade"/><circle cx="1669.1" cy="1816.5" r="4.85" fill="#00be91"/><circle cx="1669.4" cy="1824.6" r="4.85" fill="#36268b"/><circle cx="1419.9" cy="1824.6" r="4.85" fill="#4ec078"/><circle cx="1420.2" cy="1831.3" r="4.85" fill="#2e3ab1"/><circle cx="1694.3" cy="1825.8" r="4.85" fill="#009ed2"/><circle cx="1691.1" cy="1832.3" r="4.85" fill="#00abc4"/><circle cx="1439.6" cy="1837" r="4.85" fill="#00bc98"/><circle cx="1437.3" cy="1837.6" r="4.85" fill="#ffbb3d"/><circle cx="1486.3" cy="1833.9" r="4.85" fill="#f9ec00"/><circle cx="1507.1" cy="1831.3" r="4.85" fill="#a9bf61"/><circle cx="1515.5" cy="1830.5" r="4.85" fill="#36268b"/><circle cx="1577.5" cy="1832.3" r="4.85" fill="#ffd900"/><circle cx="1594.3" cy="1831.3" r="4.85" fill="#008ad6"/><circle cx="1475" cy="1842.6" r="4.85" fill="#36268b"/><circle cx="1536.8" cy="1841" r="4.85" fill="#cebd55"/><circle cx="1673" cy="1840.6" r="4.85" fill="#8cc06a"/><circle cx="1673.4" cy="1846.9" r="4.85" fill="#36268b"/><circle cx="1555.9" cy="1849.3" r="4.85" fill="#8cc06a"/><circle cx="1589.4" cy="1846" r="4.85" fill="#8cc06a"/><circle cx="1425.3" cy="1851.4" r="4.85" fill="#008ad6"/><circle cx="1461.5" cy="1856.4" r="4.85" fill="#00abc4"/><circle cx="1641.1" cy="1854.7" r="4.85" fill="#36268b"/><circle cx="1636" cy="1858" r="4.85" fill="#0072e3"/><circle cx="1672" cy="1855.8" r="4.85" fill="#ffca0d"/><circle cx="1694.3" cy="1853.8" r="4.85" fill="#e5bc4d"/><circle cx="1600.8" cy="1860" r="4.85" fill="#00abc4"/><circle cx="1599.2" cy="1866" r="4.85" fill="#4ec078"/><circle cx="1610.4" cy="1869.6" r="4.85" fill="#008ad6"/><circle cx="1608.1" cy="1867" r="4.85" fill="#ffbb3d"/><circle cx="1484.6" cy="1864.5" r="4.85" fill="#36268b"/><circle cx="1485.1" cy="1874" r="4.85" fill="#36268b"/><circle cx="1586" cy="1867.1" r="4.85" fill="#36268b"/><circle cx="1419.9" cy="1868.2" r="4.85" fill="#8cc06a"/><circle cx="1434.3" cy="1871.9" r="4.85" fill="#00be91"/><circle cx="1460.6" cy="1870.2" r="4.85" fill="#c3be59"/><circle cx="1474.4" cy="1874.4" r="4.85" fill="#00abc4"/><circle cx="1513.5" cy="1872.4" r="4.85" fill="#009ad4"/><circle cx="1555.3" cy="1870.5" r="4.85" fill="#a9bf61"/><circle cx="1688.5" cy="1879.1" r="4.85" fill="#009ad4"/><circle cx="1437" cy="1882.8" r="4.85" fill="#36268b"/><circle cx="1452.6" cy="1883.4" r="4.85" fill="#00be91"/><circle cx="1492.7" cy="1885.1" r="4.85" fill="#8cc06a"/><circle cx="1579.8" cy="1886.7" r="4.85" fill="#ffd900"/><circle cx="1634.5" cy="1886.7" r="4.85" fill="#00be91"/><circle cx="1407" cy="1896.9" r="4.85" fill="#36268b"/><circle cx="1435.4" cy="1898" r="4.85" fill="#67c073"/><circle cx="1421.7" cy="1901.9" r="4.85" fill="#29c07e"/><circle cx="1451.9" cy="1902.1" r="4.85" fill="#00be91"/><circle cx="1473.8" cy="1902.2" r="4.85" fill="#0068e5"/><circle cx="1511.5" cy="1900.7" r="4.85" fill="#0052d8"/><circle cx="1524.2" cy="1899.6" r="4.85" fill="#29c07e"/><circle cx="1655.9" cy="1898.3" r="4.85" fill="#00b0bb"/><circle cx="1691.9" cy="1894.9" r="4.85" fill="#00abc4"/><circle cx="1697.8" cy="1896" r="4.85" fill="#36268b"/><circle cx="1411.6" cy="1906.9" r="4.85" fill="#008ad6"/><circle cx="1427.6" cy="1912.3" r="4.85" fill="#00abc4"/><circle cx="1500.2" cy="1908.7" r="4.85" fill="#36268b"/><circle cx="1494.1" cy="1911.5" r="4.85" fill="#008ad6"/><circle cx="1579" cy="1904.1" r="4.85" fill="#0082da"/><circle cx="1619.9" cy="1913.1" r="4.85" fill="#a9bf61"/><circle cx="1633.4" cy="1915.9" r="4.85" fill="#67c073"/><circle cx="1671.1" cy="1922.1" r="4.85" fill="#a9bf61"/><circle cx="1563" cy="1925" r="4.85" fill="#00abc4"/><circle cx="1574.5" cy="1922.7" r="4.85" fill="#36268b"/><circle cx="1427.3" cy="1931.7" r="4.85" fill="#00b8a4"/><circle cx="1633.9" cy="1929.9" r="4.85" fill="#0072e3"/><circle cx="1501.4" cy="1938.7" r="4.85" fill="#36268b"/><circle cx="1582.1" cy="1941.2" r="4.85" fill="#ffd900"/><circle cx="1417.1" cy="1943.8" r="4.85" fill="#36268b"/><circle cx="1425.6" cy="1942.1" r="4.85" fill="#007ade"/><circle cx="1433.1" cy="1950.4" r="4.85" fill="#36268b"/><circle cx="1533.1" cy="1953.2" r="4.85" fill="#00b8a4"/><circle cx="1631.1" cy="1951.4" r="4.85" fill="#0068e5"/><circle cx="1638.7" cy="1955" r="4.85" fill="#00bc98"/><circle cx="1684.2" cy="1951.6" r="4.85" fill="#0068e5"/><circle cx="1683.5" cy="1948.5" r="4.85" fill="#ffd900"/><circle cx="1672.5" cy="1953.9" r="4.85" fill="#0082da"/><circle cx="1701.6" cy="1950.8" r="4.85" fill="#e5bc4d"/><circle cx="1478.6" cy="1955.8" r="4.85" fill="#29c07e"/><circle cx="1431.4" cy="1960.1" r="4.85" fill="#0072e3"/><circle cx="1455.6" cy="1964.8" r="4.85" fill="#36268b"/><circle cx="1630.6" cy="1963.2" r="4.85" fill="#efbb48"/><circle cx="1853.3" cy="1783.7" r="4.85" fill="#00be91"/><circle cx="1897.2" cy="1786.2" r="4.85" fill="#36268b"/><circle cx="1716.8" cy="1788.4" r="4.85" fill="#007ade"/><circle cx="1853.7" cy="1798.8" r="4.85" fill="#36268b"/><circle cx="1810.4" cy="1808" r="4.85" fill="#dabc51"/><circle cx="1827" cy="1810.6" r="4.85" fill="#36268b"/><circle cx="1760.9" cy="1819" r="4.85" fill="#8cc06a"/><circle cx="1771.3" cy="1822.7" r="4.85" fill="#00ba9e"/><circle cx="1801.6" cy="1820.9" r="4.85" fill="#00c084"/><circle cx="1788.8" cy="1838.7" r="4.85" fill="#ffd900"/><circle cx="1902.3" cy="1837.6" r="4.85" fill="#f9ec00"/><circle cx="1915.8" cy="1847.1" r="4.85" fill="#36268b"/><circle cx="1758.7" cy="1839.8" r="4.85" fill="#4ec078"/><circle cx="1761.8" cy="1847.9" r="4.85" fill="#007ade"/><circle cx="1733.2" cy="1845.4" r="4.85" fill="#c3be59"/><circle cx="1811.6" cy="1854.7" r="4.85" fill="#00c084"/><circle cx="1830.7" cy="1864.3" r="4.85" fill="#a9bf61"/><circle cx="1801.9" cy="1870.7" r="4.85" fill="#a9bf61"/><circle cx="1752" cy="1867.6" r="4.85" fill="#36268b"/><circle cx="1875" cy="1865.3" r="4.85" fill="#00abc4"/><circle cx="1886.8" cy="1870.7" r="4.85" fill="#2442be"/><circle cx="1896.4" cy="1878.8" r="4.85" fill="#67c073"/><circle cx="1792.1" cy="1877.4" r="4.85" fill="#dabc51"/><circle cx="1790.4" cy="1884.8" r="4.85" fill="#00bc98"/><circle cx="1782.6" cy="1889.2" r="4.85" fill="#00be91"/><circle cx="1859.9" cy="1879.7" r="4.85" fill="#00b2b6"/><circle cx="1814.9" cy="1892.9" r="4.85" fill="#00bc98"/><circle cx="1831.7" cy="1892.9" r="4.85" fill="#4ec078"/><circle cx="1933.4" cy="1891.4" r="4.85" fill="#ffc02a"/><circle cx="1781.2" cy="1899.6" r="4.85" fill="#a9bf61"/><circle cx="1792.7" cy="1903.6" r="4.85" fill="#ffca0d"/><circle cx="1905" cy="1903.5" r="4.85" fill="#ffca0d"/><circle cx="1897.7" cy="1903.9" r="4.85" fill="#36268b"/><circle cx="1920.5" cy="1910" r="4.85" fill="#dabc51"/><circle cx="1747.5" cy="1910.8" r="4.85" fill="#36268b"/><circle cx="1704.3" cy="1916.2" r="4.85" fill="#36268b"/><circle cx="1877.8" cy="1919.1" r="4.85" fill="#ffbb3d"/><circle cx="1714.3" cy="1927.8" r="4.85" fill="#00bc98"/><circle cx="1736" cy="1936.4" r="4.85" fill="#00b8a4"/><circle cx="1731.5" cy="1944.3" r="4.85" fill="#ffca0d"/><circle cx="1774.8" cy="1951.1" r="4.85" fill="#00b8a4"/><circle cx="1716.3" cy="1957.8" r="4.85" fill="#36268b"/><circle cx="1713.2" cy="1964.8" r="4.85" fill="#36268b"/><circle cx="1791.3" cy="1963.6" r="4.85" fill="#36268b"/><circle cx="1806.8" cy="1964.8" r="4.85" fill="#2442be"/><circle cx="1861.8" cy="1963.6" r="4.85" fill="#4ec078"/><circle cx="1880" cy="1961.1" r="4.85" fill="#0068e5"/><circle cx="1914.8" cy="1953.6" r="4.85" fill="#dabc51"/><circle cx="1925.2" cy="1967" r="4.85" fill="#dabc51"/>
</g>
<line x1="1079.15" y1="1154.00" x2="1079.15" y2="1968.50" stroke="#ff0000" stroke-width="4.2"/>
<text class="t" transform="translate(215.2 2034.7) scale(0.975 1.045)" font-size="50.8" text-anchor="middle">18</text>
<text class="t" transform="translate(359.3 2034.7) scale(0.975 1.045)" font-size="50.8" text-anchor="middle">19</text>
<text class="t" transform="translate(503.3 2034.7) scale(0.975 1.045)" font-size="50.8" text-anchor="middle">20</text>
<text class="t" transform="translate(647.4 2034.7) scale(0.975 1.045)" font-size="50.8" text-anchor="middle">21</text>
<text class="t" transform="translate(791.4 2034.7) scale(0.975 1.045)" font-size="50.8" text-anchor="middle">22</text>
<text class="t" transform="translate(935.5 2034.7) scale(0.975 1.045)" font-size="50.8" text-anchor="middle">23</text>
<text class="t" transform="translate(1079.5 2034.7) scale(0.975 1.045)" font-size="50.8" text-anchor="middle">0</text>
<text class="t" transform="translate(1223.6 2034.7) scale(0.975 1.045)" font-size="50.8" text-anchor="middle">1</text>
<text class="t" transform="translate(1367.7 2034.7) scale(0.975 1.045)" font-size="50.8" text-anchor="middle">2</text>
<text class="t" transform="translate(1511.7 2034.7) scale(0.975 1.045)" font-size="50.8" text-anchor="middle">3</text>
<text class="t" transform="translate(1655.8 2034.7) scale(0.975 1.045)" font-size="50.8" text-anchor="middle">4</text>
<text class="t" transform="translate(1799.8 2034.7) scale(0.975 1.045)" font-size="50.8" text-anchor="middle">5</text>
<text class="t" transform="translate(1943.9 2034.7) scale(0.975 1.045)" font-size="50.8" text-anchor="middle">6</text>
<text class="t" transform="translate(196.2 1171.5) scale(0.975 1.045)" font-size="50.8" text-anchor="end">180</text>
<text class="t" transform="translate(196.2 1239.4) scale(0.975 1.045)" font-size="50.8" text-anchor="end">150</text>
<text class="t" transform="translate(196.2 1307.2) scale(0.975 1.045)" font-size="50.8" text-anchor="end">120</text>
<text class="t" transform="translate(196.2 1375.1) scale(0.975 1.045)" font-size="50.8" text-anchor="end">90</text>
<text class="t" transform="translate(196.2 1443.0) scale(0.975 1.045)" font-size="50.8" text-anchor="end">60</text>
<text class="t" transform="translate(196.2 1510.9) scale(0.975 1.045)" font-size="50.8" text-anchor="end">30</text>
<text class="t" transform="translate(196.2 1578.8) scale(0.975 1.045)" font-size="50.8" text-anchor="end">0</text>
<text class="t" transform="translate(196.2 1646.6) scale(0.975 1.045)" font-size="50.8" text-anchor="end">-30</text>
<text class="t" transform="translate(196.2 1714.5) scale(0.975 1.045)" font-size="50.8" text-anchor="end">-60</text>
<text class="t" transform="translate(196.2 1782.4) scale(0.975 1.045)" font-size="50.8" text-anchor="end">-90</text>
<text class="t" transform="translate(196.2 1850.2) scale(0.975 1.045)" font-size="50.8" text-anchor="end">-120</text>
<text class="t" transform="translate(196.2 1918.1) scale(0.975 1.045)" font-size="50.8" text-anchor="end">-150</text>
<text class="t" transform="translate(196.2 1986.0) scale(0.975 1.045)" font-size="50.8" text-anchor="end">-180</text>
<text class="t" x="1079.5" y="2106.6" font-size="57.0" text-anchor="middle">LT(hour)</text>
<text class="t" transform="translate(75.2 1561.5) rotate(-90)" font-size="57.0" text-anchor="middle">Geographic Longitude(degree)</text>
</g>
<g id="colorbar">
<rect x="1997.50" y="151.80" width="45.20" height="28.58" fill="#36268b"/><rect x="1997.50" y="179.78" width="45.20" height="28.58" fill="#352d97"/><rect x="1997.50" y="207.76" width="45.20" height="28.58" fill="#3333a4"/><rect x="1997.50" y="235.74" width="45.20" height="28.58" fill="#2e3ab1"/><rect x="1997.50" y="263.73" width="45.20" height="28.58" fill="#2442be"/><rect x="1997.50" y="291.71" width="45.20" height="28.58" fill="#0749cb"/><rect x="1997.50" y="319.69" width="45.20" height="28.58" fill="#0052d8"/><rect x="1997.50" y="347.67" width="45.20" height="28.58" fill="#005be2"/><rect x="1997.50" y="375.65" width="45.20" height="28.58" fill="#0063e5"/><rect x="1997.50" y="403.63" width="45.20" height="28.58" fill="#0068e5"/><rect x="1997.50" y="431.61" width="45.20" height="28.58" fill="#006de4"/><rect x="1997.50" y="459.59" width="45.20" height="28.58" fill="#0072e3"/><rect x="1997.50" y="487.57" width="45.20" height="28.58" fill="#0076e0"/><rect x="1997.50" y="515.56" width="45.20" height="28.58" fill="#007ade"/><rect x="1997.50" y="543.54" width="45.20" height="28.58" fill="#007edc"/><rect x="1997.50" y="571.52" width="45.20" height="28.58" fill="#0082da"/><rect x="1997.50" y="599.50" width="45.20" height="28.58" fill="#0086d8"/><rect x="1997.50" y="627.48" width="45.20" height="28.58" fill="#008ad6"/><rect x="1997.50" y="655.46" width="45.20" height="28.58" fill="#008fd6"/><rect x="1997.50" y="683.44" width="45.20" height="28.58" fill="#0095d5"/><rect x="1997.50" y="711.42" width="45.20" height="28.58" fill="#009ad4"/><rect x="1997.50" y="739.41" width="45.20" height="28.58" fill="#009ed2"/><rect x="1997.50" y="767.39" width="45.20" height="28.58" fill="#00a2d0"/><rect x="1997.50" y="795.37" width="45.20" height="28.58" fill="#00a5cc"/><rect x="1997.50" y="823.35" width="45.20" height="28.58" fill="#00a8c9"/><rect x="1997.50" y="851.33" width="45.20" height="28.58" fill="#00abc4"/><rect x="1997.50" y="879.31" width="45.20" height="28.58" fill="#00adc0"/><rect x="1997.50" y="907.29" width="45.20" height="28.58" fill="#00b0bb"/><rect x="1997.50" y="935.28" width="45.20" height="28.58" fill="#00b2b6"/><rect x="1997.50" y="963.26" width="45.20" height="28.58" fill="#00b4b0"/><rect x="1997.50" y="991.24" width="45.20" height="28.58" fill="#00b6aa"/><rect x="1997.50" y="1019.22" width="45.20" height="28.58" fill="#00b8a4"/><rect x="1997.50" y="1047.20" width="45.20" height="28.58" fill="#00ba9e"/><rect x="1997.50" y="1075.18" width="45.20" height="28.58" fill="#00bc98"/><rect x="1997.50" y="1103.16" width="45.20" height="28.58" fill="#00be91"/><rect x="1997.50" y="1131.14" width="45.20" height="28.58" fill="#00bf8a"/><rect x="1997.50" y="1159.12" width="45.20" height="28.58" fill="#00c084"/><rect x="1997.50" y="1187.11" width="45.20" height="28.58" fill="#29c07e"/><rect x="1997.50" y="1215.09" width="45.20" height="28.58" fill="#4ec078"/><rect x="1997.50" y="1243.07" width="45.20" height="28.58" fill="#67c073"/><rect x="1997.50" y="1271.05" width="45.20" height="28.58" fill="#7bc06e"/><rect x="1997.50" y="1299.03" width="45.20" height="28.58" fill="#8cc06a"/><rect x="1997.50" y="1327.01" width="45.20" height="28.58" fill="#9bc065"/><rect x="1997.50" y="1354.99" width="45.20" height="28.58" fill="#a9bf61"/><rect x="1997.50" y="1382.97" width="45.20" height="28.58" fill="#b6be5d"/><rect x="1997.50" y="1410.96" width="45.20" height="28.58" fill="#c3be59"/><rect x="1997.50" y="1438.94" width="45.20" height="28.58" fill="#cebd55"/><rect x="1997.50" y="1466.92" width="45.20" height="28.58" fill="#dabc51"/><rect x="1997.50" y="1494.90" width="45.20" height="28.58" fill="#e5bc4d"/><rect x="1997.50" y="1522.88" width="45.20" height="28.58" fill="#efbb48"/><rect x="1997.50" y="1550.86" width="45.20" height="28.58" fill="#f9bb43"/><rect x="1997.50" y="1578.84" width="45.20" height="28.58" fill="#ffbb3d"/><rect x="1997.50" y="1606.82" width="45.20" height="28.58" fill="#ffbc35"/><rect x="1997.50" y="1634.81" width="45.20" height="28.58" fill="#ffc02a"/><rect x="1997.50" y="1662.79" width="45.20" height="28.58" fill="#ffc51d"/><rect x="1997.50" y="1690.77" width="45.20" height="28.58" fill="#ffca0d"/><rect x="1997.50" y="1718.75" width="45.20" height="28.58" fill="#ffcf00"/><rect x="1997.50" y="1746.73" width="45.20" height="28.58" fill="#ffd400"/><rect x="1997.50" y="1774.71" width="45.20" height="28.58" fill="#ffd900"/><rect x="1997.50" y="1802.69" width="45.20" height="28.58" fill="#fedf00"/><rect x="1997.50" y="1830.67" width="45.20" height="28.58" fill="#fbe500"/><rect x="1997.50" y="1858.66" width="45.20" height="28.58" fill="#f9ec00"/><rect x="1997.50" y="1886.64" width="45.20" height="28.58" fill="#f8f300"/><rect x="1997.50" y="1914.62" width="45.20" height="28.58" fill="#f8fb00"/>
<rect class="ax" style="stroke-width:2.5" x="1997.50" y="151.80" width="45.20" height="1790.80"/>
<text class="t" transform="translate(2060.5 168.1) scale(0.975 1.045)" font-size="45.0">4</text>
<text class="t" transform="translate(2060.5 420.4) scale(0.975 1.045)" font-size="45.0">3.5</text>
<text class="t" transform="translate(2060.5 672.7) scale(0.975 1.045)" font-size="45.0">3</text>
<text class="t" transform="translate(2060.5 925.1) scale(0.975 1.045)" font-size="45.0">2.5</text>
<text class="t" transform="translate(2060.5 1177.4) scale(0.975 1.045)" font-size="45.0">2</text>
<text class="t" transform="translate(2060.5 1429.7) scale(0.975 1.045)" font-size="45.0">1.5</text>
<text class="t" transform="translate(2060.5 1682.1) scale(0.975 1.045)" font-size="45.0">1</text>
<text class="t" transform="translate(2060.5 1934.4) scale(0.975 1.045)" font-size="45.0">0.5</text>
<path class="ax" style="stroke-width:1.9" d="M2042.70 403.60h-18.0M2042.70 655.93h-18.0M2042.70 908.27h-18.0M2042.70 1160.60h-18.0M2042.70 1412.93h-18.0M2042.70 1665.27h-18.0M2042.70 1917.60h-18.0"/>
<text class="s" x="1949.8" y="128.0" font-size="42.0"><tspan style="font-family:'Noto Sans CJK SC','DejaVu Sans',sans-serif;stroke:#000;stroke-width:0.7px" font-size="39">△</tspan><tspan x="1989.5">lon(°)</tspan></text>
</g>
</svg>
</body>
</html>
